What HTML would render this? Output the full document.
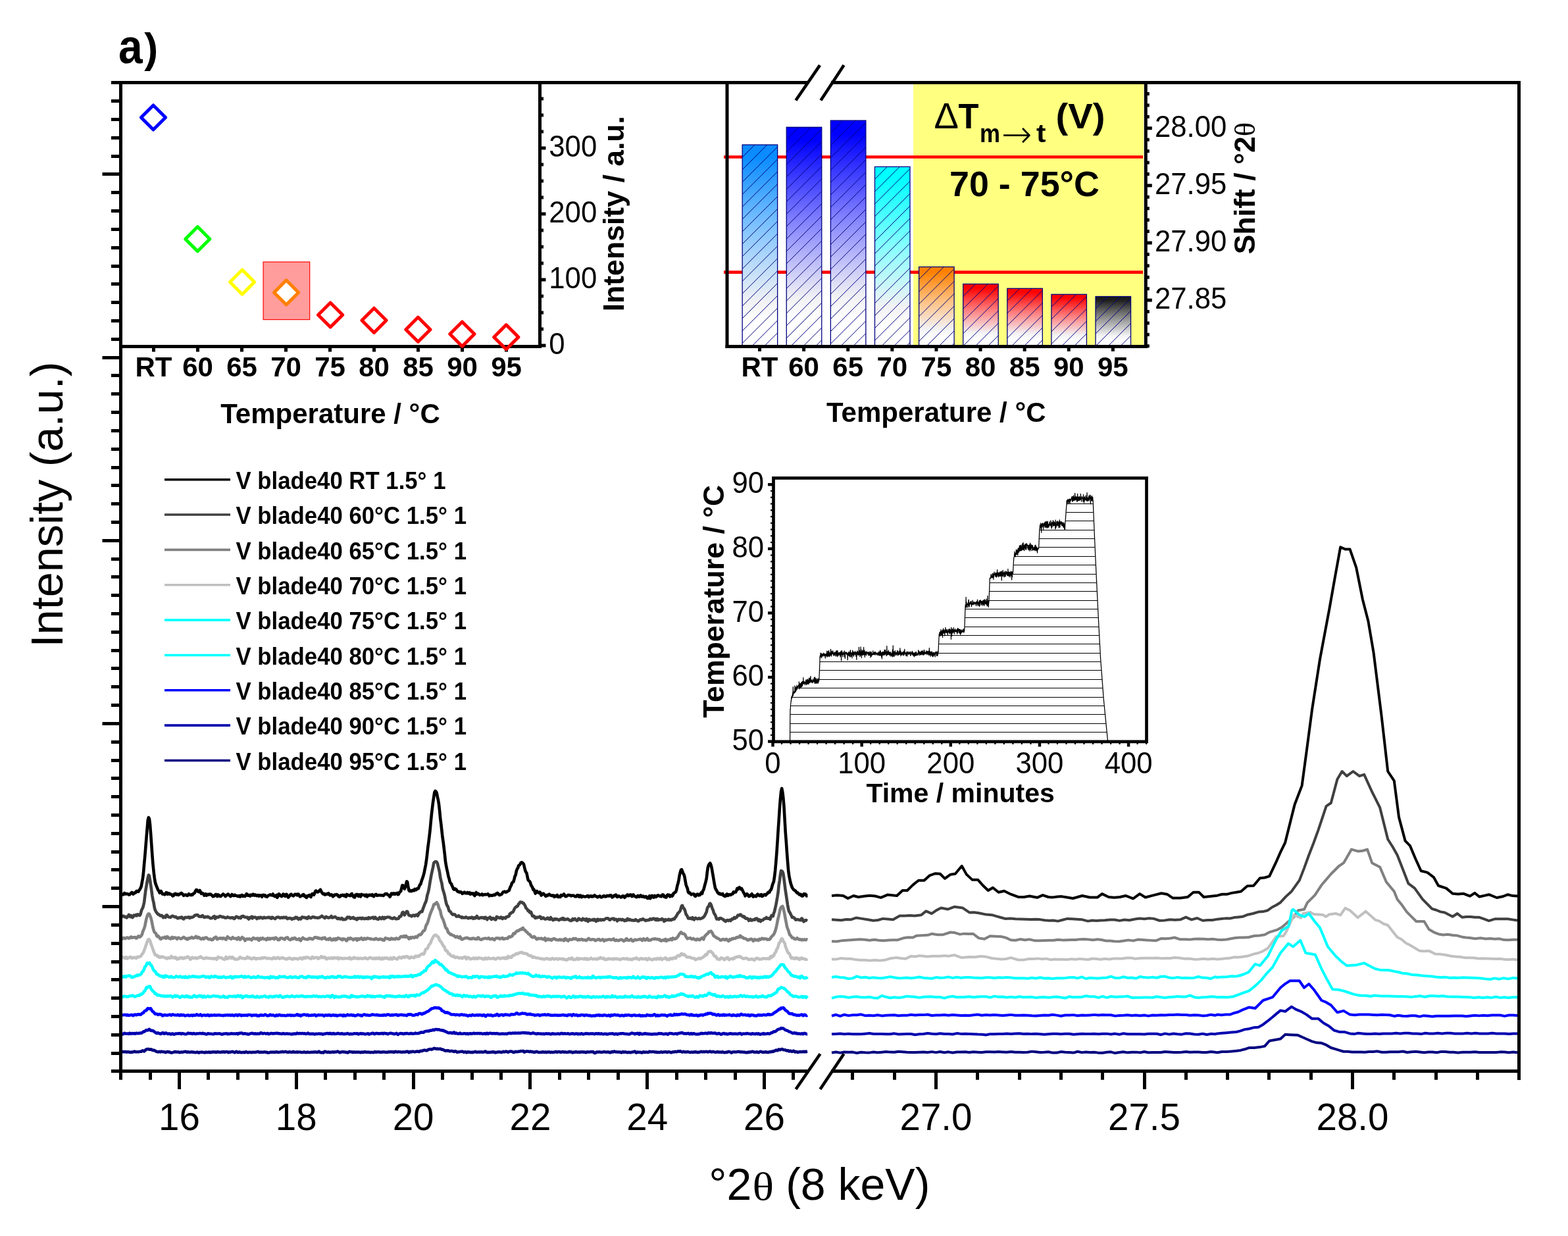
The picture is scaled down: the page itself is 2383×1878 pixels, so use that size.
<!DOCTYPE html><html><head><meta charset="utf-8"><title>XRD figure</title>
<style>html,body{margin:0;padding:0;background:#fff;overflow:hidden}svg{display:block}</style></head><body>
<svg width="2383" height="1878" viewBox="0 0 2383 1878">
<rect width="2383" height="1878" fill="#fff"/>
<g id="curves" fill="none" stroke-linejoin="round">
<polyline points="183.6,1358.67 184.71,1358.5 185.82,1358.5 186.93,1359.32 188.04,1358.96 189.16,1356.94 190.27,1357.81 191.38,1358.36 192.49,1357.92 193.6,1358.2 194.71,1358.45 195.82,1359.36 196.93,1359.35 198.05,1358.31 199.16,1356.91 200.27,1355.87 201.38,1356.76 202.49,1358.48 203.6,1357.64 204.71,1356.32 205.82,1356.51 206.94,1354.5 208.05,1353.8 209.16,1354.77 210.27,1354.89 211.38,1352.92 212.49,1351.28 213.6,1349.39 214.71,1346.72 215.83,1340.69 216.94,1334.91 218.05,1325.6 219.16,1312.38 220.27,1300.7 221.38,1286.95 222.49,1272.96 223.6,1259.34 224.72,1246.15 225.83,1241.99 226.94,1244.12 228.05,1253.24 229.16,1267.46 230.27,1283.26 231.38,1299.47 232.49,1313.41 233.61,1324.44 234.72,1333.62 235.83,1340.51 236.94,1344.24 238.05,1346.92 239.16,1349.55 240.27,1352.42 241.38,1353.53 242.5,1356.55 243.61,1355.78 244.72,1353.9 245.83,1356.07 246.94,1358.38 248.05,1358.22 249.16,1358.22 250.27,1359.29 251.39,1358.36 252.5,1356.17 253.61,1356.34 254.72,1358.62 255.83,1357.32 256.94,1357.32 258.05,1358.66 259.16,1358.33 260.28,1359.09 261.39,1359.74 262.5,1361.49 263.61,1361.01 264.72,1358.66 265.83,1357.93 266.94,1357.74 268.05,1359.42 269.17,1359.13 270.28,1358.64 271.39,1359.85 272.5,1358.93 273.61,1358.4 274.72,1357.14 275.83,1356.88 276.94,1357.94 278.06,1359.31 279.17,1360.78 280.28,1360.08 281.39,1359.54 282.5,1359.63 283.61,1360.49 284.72,1360.89 285.83,1360.08 286.95,1358.28 288.06,1359.25 289.17,1359.85 290.28,1360.1 291.39,1359.03 292.5,1359.69 293.61,1358.02 294.72,1357.63 295.84,1356.54 296.95,1353.94 298.06,1352.04 299.17,1352.04 300.28,1354.18 301.39,1354.98 302.5,1355.17 303.61,1352.89 304.73,1354.93 305.84,1357.77 306.95,1357.31 308.06,1357.1 309.17,1358.16 310.28,1360.7 311.39,1359.28 312.5,1358.2 313.62,1360.58 314.73,1360.03 315.84,1358.95 316.95,1359.53 318.06,1358.52 319.17,1359.14 320.28,1358.7 321.39,1359.9 322.51,1360.45 323.62,1362.19 324.73,1361.72 325.84,1361.48 326.95,1359.52 328.06,1358.92 329.17,1360.19 330.28,1361.96 331.4,1359.45 332.51,1359.85 333.62,1361.28 334.73,1361.98 335.84,1361.79 336.95,1360.57 338.06,1359.54 339.17,1358.42 340.29,1359.41 341.4,1360 342.51,1362.01 343.62,1360.83 344.73,1360 345.84,1358.72 346.95,1358.63 348.06,1360.11 349.18,1361.14 350.29,1362.16 351.4,1361.07 352.51,1358.97 353.62,1359.85 354.73,1360.99 355.84,1361.01 356.95,1359.78 358.07,1360.85 359.18,1361.03 360.29,1360.95 361.4,1361.96 362.51,1361.68 363.62,1360.9 364.73,1362.59 365.84,1361.92 366.96,1360.08 368.07,1360.13 369.18,1361.81 370.29,1361.36 371.4,1360.84 372.51,1361.81 373.62,1360.53 374.73,1358.14 375.85,1359.38 376.96,1360.69 378.07,1359.79 379.18,1360.74 380.29,1361.48 381.4,1359.67 382.51,1360.13 383.62,1360.43 384.74,1358.64 385.85,1359.74 386.96,1360.55 388.07,1359.5 389.18,1360.33 390.29,1361.16 391.4,1360.05 392.51,1360.33 393.63,1361.62 394.74,1360.28 395.85,1360.22 396.96,1360.59 398.07,1362.64 399.18,1359.97 400.29,1359.78 401.4,1360.5 402.52,1360.03 403.63,1362.22 404.74,1361.63 405.85,1362.63 406.96,1361.43 408.07,1360.41 409.18,1360.1 410.29,1359.32 411.41,1359.96 412.52,1360.12 413.63,1360.38 414.74,1358.36 415.85,1360.99 416.96,1361.57 418.07,1362.04 419.18,1360.54 420.3,1360 421.41,1363.81 422.52,1361.65 423.63,1358.27 424.74,1358.82 425.85,1360.5 426.96,1361.42 428.07,1362.19 429.19,1361.01 430.3,1358.59 431.41,1358.87 432.52,1361.37 433.63,1361.72 434.74,1358.73 435.85,1359.04 436.96,1361.81 438.08,1363.53 439.19,1362.43 440.3,1361.1 441.41,1359.35 442.52,1358.7 443.63,1359.88 444.74,1360.95 445.85,1361.34 446.97,1360.31 448.08,1358.9 449.19,1358.82 450.3,1358.68 451.41,1360.26 452.52,1358.46 453.63,1358.47 454.74,1360.61 455.86,1362.23 456.97,1361.47 458.08,1361.42 459.19,1360.62 460.3,1359.3 461.41,1359.12 462.52,1361.4 463.63,1362.34 464.75,1361.43 465.86,1363.96 466.97,1362.43 468.08,1360.77 469.19,1360.83 470.3,1360 471.41,1362.13 472.52,1362.88 473.64,1359.18 474.75,1357.97 475.86,1359.16 476.97,1359.68 478.08,1357.25 479.19,1354.31 480.3,1353.41 481.41,1354.86 482.53,1355.44 483.64,1355.32 484.75,1354.11 485.86,1352.76 486.97,1351.77 488.08,1354 489.19,1356.2 490.3,1357.5 491.42,1358.38 492.53,1357.87 493.64,1359.35 494.75,1359.37 495.86,1358.24 496.97,1358.35 498.08,1358.64 499.19,1357.17 500.31,1358.61 501.42,1360.39 502.53,1359.91 503.64,1359.19 504.75,1360.11 505.86,1362.25 506.97,1361.48 508.08,1359.8 509.2,1359.36 510.31,1359.86 511.42,1359 512.53,1359.37 513.64,1360.34 514.75,1362.29 515.86,1362.6 516.97,1362.08 518.09,1360.37 519.2,1360.59 520.31,1359.69 521.42,1359.94 522.53,1361.04 523.64,1359.91 524.75,1361.92 525.86,1362.34 526.98,1358.85 528.09,1359.67 529.2,1360.36 530.31,1360.12 531.42,1360.87 532.53,1361.11 533.64,1358.58 534.75,1357.82 535.87,1360.38 536.98,1362.23 538.09,1363.2 539.2,1363.5 540.31,1359.49 541.42,1359.75 542.53,1358.92 543.64,1360.69 544.76,1361.69 545.87,1359.34 546.98,1361.6 548.09,1362.34 549.2,1358.81 550.31,1359.31 551.42,1359.74 552.53,1359.89 553.65,1359.87 554.76,1361.34 555.87,1359.72 556.98,1359.58 558.09,1362.28 559.2,1360.59 560.31,1359.84 561.42,1360.52 562.54,1359.59 563.65,1360.33 564.76,1360.66 565.87,1359.21 566.98,1361.24 568.09,1362.07 569.2,1360.41 570.31,1359.26 571.43,1358.77 572.54,1360.7 573.65,1360.64 574.76,1360.29 575.87,1360.02 576.98,1360.37 578.09,1360.14 579.2,1360.51 580.32,1360.11 581.43,1360.46 582.54,1360.95 583.65,1360 584.76,1358.66 585.87,1358.03 586.98,1358.14 588.09,1357.97 589.21,1359.64 590.32,1359.92 591.43,1360.89 592.54,1362.65 593.65,1360.76 594.76,1357.55 595.87,1357.59 596.98,1358.61 598.1,1357.29 599.21,1357.48 600.32,1358.76 601.43,1358.23 602.54,1357.25 603.65,1356.86 604.76,1359.23 605.87,1358.64 606.99,1356.07 608.1,1354.88 609.21,1354.1 610.32,1349.32 611.43,1345.15 612.54,1345.23 613.65,1348.05 614.76,1350.67 615.88,1347.76 616.99,1343.78 618.1,1339.31 619.21,1340.32 620.32,1347.52 621.43,1352.64 622.54,1353.91 623.65,1353.02 624.77,1354.18 625.88,1354.07 626.99,1352.73 628.1,1352.5 629.21,1353.2 630.32,1350.91 631.43,1351.25 632.54,1352.04 633.66,1350.31 634.77,1350.44 635.88,1349.9 636.99,1346.92 638.1,1344.27 639.21,1343.52 640.32,1339.66 641.43,1336.35 642.55,1333.27 643.66,1329.58 644.77,1325.3 645.88,1319.56 646.99,1314.12 648.1,1306.69 649.21,1297.47 650.32,1287.37 651.44,1279.22 652.55,1270.27 653.66,1260.63 654.77,1248.4 655.88,1237.23 656.99,1227.71 658.1,1218.63 659.21,1211.13 660.33,1203.77 661.44,1201.82 662.55,1202.58 663.66,1204.8 664.77,1210.6 665.88,1215.23 666.99,1221.98 668.1,1231.66 669.22,1243.88 670.33,1252.02 671.44,1262.37 672.55,1272.21 673.66,1279.61 674.77,1288.68 675.88,1298.24 676.99,1308.92 678.11,1315.54 679.22,1321.01 680.33,1325.85 681.44,1331.64 682.55,1335.06 683.66,1339.72 684.77,1341.83 685.88,1342.86 687,1345.89 688.11,1348.04 689.22,1350.77 690.33,1351.54 691.44,1350.26 692.55,1350.83 693.66,1351.95 694.77,1353.86 695.89,1354.92 697,1354.63 698.11,1355.71 699.22,1355.32 700.33,1355.1 701.44,1355.99 702.55,1357.85 703.66,1357.36 704.78,1356.23 705.89,1355.57 707,1357.06 708.11,1357.12 709.22,1357.38 710.33,1355.88 711.44,1357.51 712.55,1357.23 713.67,1356.31 714.78,1358.68 715.89,1357.6 717,1357.35 718.11,1358.46 719.22,1357.56 720.33,1359.31 721.44,1361.14 722.56,1357.78 723.67,1356.02 724.78,1358.74 725.89,1358.18 727,1357.73 728.11,1358.93 729.22,1359.9 730.33,1359.39 731.45,1359.13 732.56,1358.49 733.67,1360.04 734.78,1359.65 735.89,1359.3 737,1359.02 738.11,1359.08 739.22,1359.23 740.34,1359.06 741.45,1358.19 742.56,1359.46 743.67,1361.31 744.78,1360.53 745.89,1360.21 747,1360.63 748.11,1360.76 749.23,1360.15 750.34,1359.6 751.45,1360.15 752.56,1359.73 753.67,1358.06 754.78,1358.3 755.89,1356.95 757,1357.47 758.12,1359.07 759.23,1360.06 760.34,1359.36 761.45,1359.24 762.56,1358.6 763.67,1356.67 764.78,1355.27 765.89,1355.08 767.01,1354.53 768.12,1355.75 769.23,1355.59 770.34,1355.02 771.45,1354.08 772.56,1353.6 773.67,1352.95 774.78,1349.66 775.9,1347.08 777.01,1345.02 778.12,1341.43 779.23,1340.47 780.34,1339.75 781.45,1335.85 782.56,1331.34 783.67,1329.3 784.79,1323.51 785.9,1320.42 787.01,1318.95 788.12,1315.36 789.23,1314.5 790.34,1313.63 791.45,1311.06 792.56,1310.2 793.68,1310.64 794.79,1311.73 795.9,1312.94 797.01,1317.79 798.12,1322.29 799.23,1325.09 800.34,1326.39 801.45,1331.72 802.57,1337.08 803.68,1338.33 804.79,1338.95 805.9,1340.96 807.01,1344.76 808.12,1346.49 809.23,1348.44 810.34,1351.89 811.46,1351.48 812.57,1354.56 813.68,1357.57 814.79,1355.31 815.9,1353.99 817.01,1355.65 818.12,1356.19 819.23,1356.9 820.35,1355.43 821.46,1356.57 822.57,1360.51 823.68,1359.14 824.79,1358.22 825.9,1357.72 827.01,1359.22 828.12,1359.93 829.24,1361.67 830.35,1361.49 831.46,1359.83 832.57,1360.47 833.68,1360.11 834.79,1358.62 835.9,1359.81 837.01,1360.51 838.13,1360.6 839.24,1361.11 840.35,1360.41 841.46,1360.81 842.57,1362.84 843.68,1360.89 844.79,1361.9 845.9,1361.86 847.02,1360.02 848.13,1362.97 849.24,1362.86 850.35,1362.59 851.46,1362.89 852.57,1360 853.68,1360.17 854.79,1360.77 855.91,1359.53 857.02,1358.56 858.13,1360.21 859.24,1362.01 860.35,1362.16 861.46,1361.34 862.57,1360.39 863.68,1359.88 864.8,1360.22 865.91,1360.04 867.02,1360.59 868.13,1361.35 869.24,1360.6 870.35,1360.71 871.46,1360.64 872.57,1361.07 873.69,1362.12 874.8,1362.15 875.91,1362.24 877.02,1360.29 878.13,1360.16 879.24,1361.71 880.35,1362.54 881.46,1360.52 882.58,1360.8 883.69,1363.08 884.8,1362.39 885.91,1361.54 887.02,1362.17 888.13,1362.35 889.24,1362.65 890.35,1362.34 891.47,1362.03 892.58,1361.14 893.69,1361.14 894.8,1363.02 895.91,1362.51 897.02,1361.56 898.13,1361.27 899.24,1362.36 900.36,1361.57 901.47,1362.26 902.58,1361.58 903.69,1360.21 904.8,1361.43 905.91,1362.22 907.02,1362.35 908.13,1363.25 909.25,1362.27 910.36,1362.15 911.47,1361.36 912.58,1362.66 913.69,1363.5 914.8,1362.99 915.91,1362.57 917.02,1361.35 918.14,1361.16 919.25,1362.32 920.36,1362.36 921.47,1362.16 922.58,1360.75 923.69,1361.32 924.8,1361.48 925.91,1360.5 927.03,1361.18 928.14,1360.09 929.25,1361.54 930.36,1363.44 931.47,1362.63 932.58,1361.06 933.69,1360.47 934.8,1361.32 935.92,1359.55 937.03,1360.66 938.14,1362.93 939.25,1362.27 940.36,1361.42 941.47,1361.99 942.58,1362.63 943.69,1363.5 944.81,1362.92 945.92,1361.47 947.03,1361.22 948.14,1362.04 949.25,1363.88 950.36,1362.9 951.47,1360.88 952.58,1360.57 953.7,1359.45 954.81,1361.09 955.92,1361.02 957.03,1360 958.14,1359.33 959.25,1359.7 960.36,1362.01 961.47,1361.24 962.59,1359.52 963.7,1361.19 964.81,1361.97 965.92,1362.4 967.03,1363.24 968.14,1362.69 969.25,1360.86 970.36,1361.18 971.48,1362.62 972.59,1361.94 973.7,1360.33 974.81,1362.33 975.92,1362.51 977.03,1361.48 978.14,1361.92 979.25,1363.24 980.37,1363.14 981.48,1362 982.59,1362.63 983.7,1364.81 984.81,1365.02 985.92,1363.77 987.03,1361.44 988.14,1365.18 989.26,1363.44 990.37,1360.9 991.48,1361.12 992.59,1363.26 993.7,1363.59 994.81,1360.87 995.92,1361.33 997.03,1362.75 998.15,1362.03 999.26,1360.5 1000.37,1360.37 1001.48,1360.97 1002.59,1361.6 1003.7,1361.33 1004.81,1362.2 1005.92,1361.29 1007.04,1359.3 1008.15,1359.73 1009.26,1362.47 1010.37,1361.86 1011.48,1363.45 1012.59,1363.46 1013.7,1360.42 1014.81,1359.52 1015.93,1360.71 1017.04,1359.84 1018.15,1362.31 1019.26,1361.06 1020.37,1360.18 1021.48,1361.72 1022.59,1360.11 1023.7,1357.38 1024.82,1356.44 1025.93,1356.06 1027.04,1354.94 1028.15,1351.7 1029.26,1346.15 1030.37,1342.38 1031.48,1337.75 1032.59,1330.51 1033.71,1325.95 1034.82,1322.05 1035.93,1321.18 1037.04,1323.87 1038.15,1327.01 1039.26,1328.54 1040.37,1331.99 1041.48,1338.41 1042.6,1344.44 1043.71,1347.42 1044.82,1350.18 1045.93,1355.5 1047.04,1356.79 1048.15,1356.3 1049.26,1357.69 1050.37,1359.27 1051.49,1358.43 1052.6,1358.44 1053.71,1358.23 1054.82,1358.64 1055.93,1361.51 1057.04,1361.84 1058.15,1360.19 1059.26,1358.7 1060.38,1358.64 1061.49,1360.28 1062.6,1359.29 1063.71,1359.86 1064.82,1357.79 1065.93,1356.16 1067.04,1357.78 1068.15,1353.64 1069.27,1351.98 1070.38,1347.88 1071.49,1343.52 1072.6,1339.62 1073.71,1334.78 1074.82,1325.11 1075.93,1317.45 1077.04,1314.39 1078.16,1312.59 1079.27,1311.52 1080.38,1313.99 1081.49,1318.18 1082.6,1324.34 1083.71,1330.78 1084.82,1337.64 1085.93,1344.07 1087.05,1349.62 1088.16,1351.59 1089.27,1353.19 1090.38,1355.74 1091.49,1357.03 1092.6,1358.02 1093.71,1357.33 1094.82,1358.76 1095.94,1359.12 1097.05,1358.47 1098.16,1358 1099.27,1360.54 1100.38,1361.2 1101.49,1361.73 1102.6,1361.79 1103.71,1359.22 1104.83,1358.53 1105.94,1360.82 1107.05,1360.47 1108.16,1359.01 1109.27,1359.56 1110.38,1359.94 1111.49,1358.76 1112.6,1358.42 1113.72,1358.12 1114.83,1355.08 1115.94,1355.84 1117.05,1355.49 1118.16,1355.51 1119.27,1353.14 1120.38,1349.75 1121.49,1351.16 1122.61,1349.43 1123.72,1348.19 1124.83,1350.32 1125.94,1350.93 1127.05,1350.02 1128.16,1352.26 1129.27,1354.43 1130.38,1356.94 1131.5,1358.37 1132.61,1361.37 1133.72,1359.06 1134.83,1358.18 1135.94,1358.7 1137.05,1360.62 1138.16,1362.04 1139.27,1361.92 1140.39,1360.43 1141.5,1359.48 1142.61,1358.23 1143.72,1361.18 1144.83,1362.48 1145.94,1360.85 1147.05,1361.5 1148.16,1362.06 1149.28,1362.1 1150.39,1359.51 1151.5,1358.57 1152.61,1360 1153.72,1360.65 1154.83,1361.23 1155.94,1359.47 1157.05,1359.1 1158.17,1361.78 1159.28,1361.41 1160.39,1360.29 1161.5,1359.2 1162.61,1359.04 1163.72,1360.24 1164.83,1358.75 1165.94,1358.2 1167.06,1356.19 1168.17,1355.49 1169.28,1355.85 1170.39,1353.14 1171.5,1352.29 1172.61,1349.58 1173.72,1345.32 1174.83,1342.08 1175.95,1339.28 1177.06,1331.92 1178.17,1322.42 1179.28,1309.89 1180.39,1296.01 1181.5,1279.56 1182.61,1261.94 1183.72,1245.6 1184.84,1228.06 1185.95,1213.85 1187.06,1202.77 1188.17,1197.92 1189.28,1203.17 1190.39,1212.64 1191.5,1225.58 1192.61,1245.49 1193.73,1264.71 1194.84,1278.88 1195.95,1295.11 1197.06,1309.74 1198.17,1322.91 1199.28,1330.89 1200.39,1336.4 1201.5,1341.5 1202.62,1345.12 1203.73,1348.32 1204.84,1349.99 1205.95,1351.54 1207.06,1352.47 1208.17,1353.16 1209.28,1353.96 1210.39,1355.64 1211.51,1356.73 1212.62,1356.55 1213.73,1358.34 1214.84,1359.33 1215.95,1358.91 1217.06,1358.91 1218.17,1361.26 1219.28,1361.51 1220.4,1361.05 1221.51,1358.29 1222.62,1358.36 1223.73,1358.29 1224.84,1359.19 1225.95,1361.33 1227.06,1360.93" fill="none" stroke="#000000" stroke-width="4.6" stroke-linejoin="round" />
<polyline points="183.6,1393.4 184.71,1392.31 185.82,1392.8 186.93,1391.82 188.04,1391.68 189.16,1393.03 190.27,1393.51 191.38,1392.95 192.49,1394.37 193.6,1393.44 194.71,1391.95 195.82,1389.79 196.93,1392.41 198.05,1393.13 199.16,1391.04 200.27,1392.71 201.38,1394.02 202.49,1392.83 203.6,1390.62 204.71,1391.2 205.82,1391.18 206.94,1389.84 208.05,1391.22 209.16,1389.35 210.27,1389.43 211.38,1390.36 212.49,1390.89 213.6,1389.1 214.71,1384.2 215.83,1381.42 216.94,1379.55 218.05,1375.77 219.16,1370.62 220.27,1361.21 221.38,1352.76 222.49,1346.32 223.6,1339.56 224.72,1334.07 225.83,1329.49 226.94,1330.92 228.05,1337.57 229.16,1345.09 230.27,1352.91 231.38,1361.1 232.49,1367.23 233.61,1371.98 234.72,1378.77 235.83,1382.81 236.94,1385.05 238.05,1386.69 239.16,1387.88 240.27,1389.5 241.38,1389.42 242.5,1390.14 243.61,1391.34 244.72,1391.46 245.83,1390.92 246.94,1392.11 248.05,1394.19 249.16,1392.78 250.27,1393.09 251.39,1394 252.5,1390.72 253.61,1390.4 254.72,1391.73 255.83,1393.16 256.94,1393.55 258.05,1393.52 259.16,1393.9 260.28,1392.67 261.39,1391.93 262.5,1391.64 263.61,1392.35 264.72,1393.06 265.83,1393.39 266.94,1392.79 268.05,1393.75 269.17,1394.77 270.28,1395.37 271.39,1395.02 272.5,1394.07 273.61,1394.21 274.72,1394.47 275.83,1393.31 276.94,1394.32 278.06,1395.88 279.17,1396.38 280.28,1394.8 281.39,1393.9 282.5,1394.17 283.61,1393.85 284.72,1394.15 285.83,1393.84 286.95,1393.31 288.06,1394.98 289.17,1394.65 290.28,1393.51 291.39,1394.03 292.5,1393.65 293.61,1393.06 294.72,1392.49 295.84,1390.85 296.95,1390.82 298.06,1390.18 299.17,1390.49 300.28,1389.99 301.39,1391.2 302.5,1392.63 303.61,1392.51 304.73,1392.31 305.84,1392.94 306.95,1391.45 308.06,1391.07 309.17,1392.66 310.28,1393.82 311.39,1393.85 312.5,1392.84 313.62,1393.36 314.73,1393.56 315.84,1392.69 316.95,1393.61 318.06,1393.98 319.17,1394.94 320.28,1395.33 321.39,1395.09 322.51,1394.77 323.62,1393.49 324.73,1392.72 325.84,1392.2 326.95,1395.81 328.06,1394.87 329.17,1393.28 330.28,1393.68 331.4,1393.67 332.51,1393.46 333.62,1392.13 334.73,1392.15 335.84,1392.33 336.95,1393.24 338.06,1393.51 339.17,1393.18 340.29,1394 341.4,1393.83 342.51,1394.72 343.62,1394.45 344.73,1394.22 345.84,1393.2 346.95,1394.06 348.06,1394.3 349.18,1394.41 350.29,1394.83 351.4,1394.34 352.51,1394.4 353.62,1394.1 354.73,1395.3 355.84,1395.98 356.95,1395.33 358.07,1393.57 359.18,1392.65 360.29,1393.1 361.4,1393.75 362.51,1394.63 363.62,1393.84 364.73,1394.91 365.84,1395.1 366.96,1392.59 368.07,1392.77 369.18,1391.8 370.29,1392.19 371.4,1393.48 372.51,1393.55 373.62,1393.78 374.73,1393.9 375.85,1393.68 376.96,1395.46 378.07,1396.46 379.18,1394.17 380.29,1394.92 381.4,1393.78 382.51,1392.79 383.62,1395.38 384.74,1393.41 385.85,1393.69 386.96,1393.74 388.07,1393.64 389.18,1394.28 390.29,1395.96 391.4,1394.83 392.51,1394 393.63,1395.08 394.74,1394.71 395.85,1393.68 396.96,1394.03 398.07,1394.63 399.18,1395.44 400.29,1394.28 401.4,1393.63 402.52,1394.63 403.63,1394.65 404.74,1394.35 405.85,1394.5 406.96,1393.99 408.07,1393.5 409.18,1394.56 410.29,1393.93 411.41,1395.04 412.52,1395.55 413.63,1393.65 414.74,1394.16 415.85,1395 416.96,1395.47 418.07,1396.19 419.18,1395.06 420.3,1393.84 421.41,1393.73 422.52,1393.46 423.63,1393.45 424.74,1394.53 425.85,1394.91 426.96,1394.3 428.07,1393.78 429.19,1394.61 430.3,1394.5 431.41,1393.52 432.52,1394 433.63,1394.43 434.74,1393.65 435.85,1394.88 436.96,1396.04 438.08,1395.33 439.19,1394.93 440.3,1395.35 441.41,1395.09 442.52,1395.59 443.63,1396.83 444.74,1395.88 445.85,1395.26 446.97,1395.87 448.08,1395.04 449.19,1393.61 450.3,1394.97 451.41,1393.97 452.52,1395.51 453.63,1396.7 454.74,1395.53 455.86,1395 456.97,1396.45 458.08,1395.05 459.19,1393.24 460.3,1393.62 461.41,1394.26 462.52,1393.79 463.63,1394.38 464.75,1395.06 465.86,1394.19 466.97,1395.79 468.08,1394.53 469.19,1392.83 470.3,1394.36 471.41,1394.8 472.52,1394.97 473.64,1394.35 474.75,1393.27 475.86,1393.27 476.97,1393.34 478.08,1394.24 479.19,1393.88 480.3,1394.18 481.41,1394.56 482.53,1394.65 483.64,1394.62 484.75,1394.31 485.86,1394.18 486.97,1393.07 488.08,1392.65 489.19,1391.58 490.3,1392.77 491.42,1393.4 492.53,1394 493.64,1394.96 494.75,1393.51 495.86,1392.83 496.97,1393.74 498.08,1394.08 499.19,1394.66 500.31,1393.93 501.42,1394.26 502.53,1393.45 503.64,1392.01 504.75,1394.34 505.86,1394.25 506.97,1393.73 508.08,1393.41 509.2,1392.92 510.31,1393.84 511.42,1394.44 512.53,1395.7 513.64,1396.06 514.75,1395.11 515.86,1395.6 516.97,1396.54 518.09,1396.13 519.2,1394.98 520.31,1395.77 521.42,1397.31 522.53,1396.76 523.64,1397.1 524.75,1397.01 525.86,1396.44 526.98,1394.65 528.09,1393.47 529.2,1394.41 530.31,1393.6 531.42,1393.6 532.53,1395.56 533.64,1395.06 534.75,1395.22 535.87,1394.24 536.98,1393.89 538.09,1395.77 539.2,1395.95 540.31,1395.53 541.42,1396.85 542.53,1397.34 543.64,1395.13 544.76,1395.81 545.87,1395.38 546.98,1394.76 548.09,1395.15 549.2,1396.12 550.31,1394.77 551.42,1394.87 552.53,1395.88 553.65,1396.18 554.76,1395.43 555.87,1395.91 556.98,1395.09 558.09,1395.73 559.2,1396.13 560.31,1394.07 561.42,1394.64 562.54,1395.52 563.65,1394.89 564.76,1394.22 565.87,1394.44 566.98,1393.65 568.09,1395.74 569.2,1395.07 570.31,1393.79 571.43,1395.69 572.54,1396.26 573.65,1396.04 574.76,1396.83 575.87,1395.65 576.98,1393.88 578.09,1395.13 579.2,1396.2 580.32,1395.15 581.43,1393.62 582.54,1395.29 583.65,1396.18 584.76,1394.01 585.87,1394.76 586.98,1394.03 588.09,1393.54 589.21,1393.51 590.32,1393.54 591.43,1393.63 592.54,1393.68 593.65,1394.98 594.76,1395.36 595.87,1395.37 596.98,1395.94 598.1,1394.86 599.21,1394.33 600.32,1394.96 601.43,1396.22 602.54,1396.11 603.65,1395.96 604.76,1395.81 605.87,1395.45 606.99,1392.62 608.1,1392.67 609.21,1392.36 610.32,1389.67 611.43,1386.78 612.54,1386.03 613.65,1388.32 614.76,1390.39 615.88,1388.05 616.99,1386.21 618.1,1384.85 619.21,1384.94 620.32,1388.4 621.43,1390.63 622.54,1391 623.65,1391.1 624.77,1392.05 625.88,1392.35 626.99,1391.07 628.1,1390.47 629.21,1391 630.32,1391.65 631.43,1390.38 632.54,1390.5 633.66,1389.79 634.77,1391.65 635.88,1389.82 636.99,1386.95 638.1,1386.97 639.21,1385.42 640.32,1384.93 641.43,1385.19 642.55,1381.84 643.66,1378.72 644.77,1375.75 645.88,1372.69 646.99,1370.75 648.1,1367.14 649.21,1360.78 650.32,1357.06 651.44,1352.96 652.55,1346.59 653.66,1339.4 654.77,1333.53 655.88,1327.44 656.99,1322.59 658.1,1317.7 659.21,1311.34 660.33,1309.92 661.44,1309.31 662.55,1309.23 663.66,1309.69 664.77,1311.64 665.88,1316.25 666.99,1320.67 668.1,1325.34 669.22,1333.53 670.33,1338.06 671.44,1342.17 672.55,1349.46 673.66,1353.55 674.77,1356.9 675.88,1361.1 676.99,1366.9 678.11,1371.98 679.22,1375.52 680.33,1376.65 681.44,1380.07 682.55,1383.84 683.66,1384.63 684.77,1385.53 685.88,1387.49 687,1388.69 688.11,1389.66 689.22,1389.03 690.33,1389.45 691.44,1389.59 692.55,1391.08 693.66,1392.48 694.77,1392.19 695.89,1392.46 697,1391.29 698.11,1392.58 699.22,1393.04 700.33,1392.97 701.44,1394.38 702.55,1393.44 703.66,1394.22 704.78,1394.56 705.89,1393.95 707,1394.49 708.11,1393.29 709.22,1393.96 710.33,1394.68 711.44,1395.32 712.55,1394.86 713.67,1394.05 714.78,1394.7 715.89,1394.82 717,1393.62 718.11,1393.89 719.22,1395.85 720.33,1395.55 721.44,1394.08 722.56,1395.09 723.67,1393.77 724.78,1392.03 725.89,1393.81 727,1395.28 728.11,1395.46 729.22,1394.51 730.33,1394.54 731.45,1393.89 732.56,1394.62 733.67,1393.96 734.78,1394.2 735.89,1395.46 737,1393.91 738.11,1393.82 739.22,1395.75 740.34,1397.23 741.45,1394.95 742.56,1394.78 743.67,1394.47 744.78,1393.43 745.89,1396 747,1396.93 748.11,1395.04 749.23,1395.06 750.34,1396.04 751.45,1395.86 752.56,1397.42 753.67,1397.16 754.78,1392.91 755.89,1393.14 757,1394.32 758.12,1394.48 759.23,1394.93 760.34,1394.39 761.45,1393.52 762.56,1395.35 763.67,1396.01 764.78,1394.26 765.89,1394.52 767.01,1395.1 768.12,1395.36 769.23,1393.29 770.34,1393.15 771.45,1392.52 772.56,1392.7 773.67,1391.87 774.78,1388.4 775.9,1388.32 777.01,1387.03 778.12,1386.18 779.23,1385.96 780.34,1384.32 781.45,1381.6 782.56,1379.65 783.67,1378.43 784.79,1377.42 785.9,1377.47 787.01,1376.27 788.12,1373.42 789.23,1373.07 790.34,1370.84 791.45,1370.59 792.56,1370.94 793.68,1371.13 794.79,1372.46 795.9,1372.6 797.01,1374.49 798.12,1376.2 799.23,1379.57 800.34,1380.31 801.45,1381.82 802.57,1383.89 803.68,1383.49 804.79,1386.19 805.9,1386.92 807.01,1385.68 808.12,1388.88 809.23,1391.93 810.34,1392.02 811.46,1391.88 812.57,1394 813.68,1394.87 814.79,1393.59 815.9,1394.4 817.01,1393.79 818.12,1393.49 819.23,1393.69 820.35,1392.56 821.46,1392.95 822.57,1395.87 823.68,1395.34 824.79,1394.54 825.9,1394.42 827.01,1395.96 828.12,1396.47 829.24,1396.46 830.35,1396.28 831.46,1395.02 832.57,1394.61 833.68,1396.41 834.79,1396.74 835.9,1397 837.01,1393.99 838.13,1395.52 839.24,1396.67 840.35,1398.14 841.46,1397.36 842.57,1396.27 843.68,1397.19 844.79,1396.22 845.9,1396.9 847.02,1396.61 848.13,1397.46 849.24,1398.2 850.35,1397.66 851.46,1396.41 852.57,1396.16 853.68,1396.95 854.79,1395.17 855.91,1395.13 857.02,1397.38 858.13,1396.3 859.24,1397.29 860.35,1397.12 861.46,1396.85 862.57,1396.11 863.68,1396.71 864.8,1397.69 865.91,1398.3 867.02,1398.91 868.13,1398.97 869.24,1397.98 870.35,1396.08 871.46,1397.52 872.57,1396.7 873.69,1395.92 874.8,1397.51 875.91,1397.96 877.02,1398.83 878.13,1398.1 879.24,1395.63 880.35,1395.91 881.46,1397.17 882.58,1396.98 883.69,1398.26 884.8,1397.84 885.91,1395.78 887.02,1396.79 888.13,1396.49 889.24,1398.1 890.35,1398.53 891.47,1396.17 892.58,1397.42 893.69,1400.08 894.8,1396.92 895.91,1396.93 897.02,1398.3 898.13,1397.78 899.24,1397.76 900.36,1398 901.47,1397.03 902.58,1398.22 903.69,1397.01 904.8,1398.34 905.91,1399.95 907.02,1397.25 908.13,1396.7 909.25,1398.7 910.36,1397.84 911.47,1397 912.58,1396.99 913.69,1398.26 914.8,1397.62 915.91,1397.1 917.02,1397.96 918.14,1397.62 919.25,1396.59 920.36,1395.78 921.47,1395.34 922.58,1395.55 923.69,1395.27 924.8,1395.85 925.91,1397.37 927.03,1397.78 928.14,1396.84 929.25,1396.15 930.36,1396.06 931.47,1395.73 932.58,1395.64 933.69,1397.49 934.8,1396.76 935.92,1396.78 937.03,1397.07 938.14,1399.43 939.25,1397.46 940.36,1396.73 941.47,1397.45 942.58,1396.75 943.69,1397.47 944.81,1397.99 945.92,1396.79 947.03,1397.41 948.14,1398.28 949.25,1399.09 950.36,1397.92 951.47,1398.65 952.58,1398.4 953.7,1395.81 954.81,1397 955.92,1397.96 957.03,1396.88 958.14,1398.04 959.25,1397.87 960.36,1398.37 961.47,1398.28 962.59,1398.37 963.7,1398.81 964.81,1398.59 965.92,1397.12 967.03,1397.97 968.14,1398.34 969.25,1399.59 970.36,1399.41 971.48,1398.74 972.59,1397.55 973.7,1396.96 974.81,1397.64 975.92,1396.8 977.03,1396.04 978.14,1397 979.25,1397.67 980.37,1397.94 981.48,1398.93 982.59,1398.12 983.7,1398.18 984.81,1398.09 985.92,1397.55 987.03,1397.93 988.14,1396.1 989.26,1396.63 990.37,1397.27 991.48,1396.59 992.59,1395.55 993.7,1396.27 994.81,1395.84 995.92,1397.45 997.03,1398.09 998.15,1396.12 999.26,1396.16 1000.37,1398.04 1001.48,1397.67 1002.59,1397.13 1003.7,1397.23 1004.81,1397.38 1005.92,1396.09 1007.04,1396.62 1008.15,1397.12 1009.26,1399.95 1010.37,1399.18 1011.48,1397.03 1012.59,1398.14 1013.7,1397.93 1014.81,1397.56 1015.93,1396.73 1017.04,1398.16 1018.15,1397.56 1019.26,1397.04 1020.37,1398.18 1021.48,1397.15 1022.59,1396.29 1023.7,1396.61 1024.82,1396.5 1025.93,1394.19 1027.04,1393.22 1028.15,1391.56 1029.26,1389.27 1030.37,1387.3 1031.48,1386.55 1032.59,1385.34 1033.71,1383.89 1034.82,1379.98 1035.93,1376.43 1037.04,1375.82 1038.15,1379.24 1039.26,1380.05 1040.37,1381.82 1041.48,1384.99 1042.6,1389.41 1043.71,1390.49 1044.82,1392.53 1045.93,1395.4 1047.04,1395.24 1048.15,1395.68 1049.26,1394.79 1050.37,1395.26 1051.49,1396.26 1052.6,1394.22 1053.71,1395.61 1054.82,1397.42 1055.93,1395.59 1057.04,1394.63 1058.15,1395.39 1059.26,1395.95 1060.38,1396.23 1061.49,1395.69 1062.6,1395.13 1063.71,1396.1 1064.82,1395.9 1065.93,1395.36 1067.04,1394.88 1068.15,1394.58 1069.27,1393.27 1070.38,1392.23 1071.49,1390.12 1072.6,1387.87 1073.71,1385.76 1074.82,1380.4 1075.93,1377.82 1077.04,1377.39 1078.16,1373.76 1079.27,1372.69 1080.38,1374.17 1081.49,1377.06 1082.6,1380.62 1083.71,1382.78 1084.82,1386.88 1085.93,1388.8 1087.05,1390.37 1088.16,1393.61 1089.27,1396.48 1090.38,1395.8 1091.49,1396.18 1092.6,1396.94 1093.71,1395.33 1094.82,1395.06 1095.94,1395.39 1097.05,1396 1098.16,1396.6 1099.27,1397.14 1100.38,1398.59 1101.49,1398.62 1102.6,1400.14 1103.71,1398.89 1104.83,1398.09 1105.94,1398.36 1107.05,1399.08 1108.16,1397.97 1109.27,1397.83 1110.38,1399.11 1111.49,1397.24 1112.6,1396.1 1113.72,1396.6 1114.83,1395.58 1115.94,1393.98 1117.05,1395.42 1118.16,1394.36 1119.27,1394.02 1120.38,1392.33 1121.49,1390.51 1122.61,1391.08 1123.72,1390.57 1124.83,1389.5 1125.94,1389.73 1127.05,1391.45 1128.16,1392.05 1129.27,1393.05 1130.38,1392.24 1131.5,1393.12 1132.61,1395.14 1133.72,1395.62 1134.83,1395.42 1135.94,1395.57 1137.05,1396.75 1138.16,1398.78 1139.27,1397.16 1140.39,1396.53 1141.5,1398.39 1142.61,1398.6 1143.72,1397.86 1144.83,1397.29 1145.94,1397.49 1147.05,1397.66 1148.16,1395.7 1149.28,1395.75 1150.39,1395.49 1151.5,1397.63 1152.61,1399.11 1153.72,1397.32 1154.83,1397.73 1155.94,1400.09 1157.05,1398.23 1158.17,1398.03 1159.28,1398.23 1160.39,1397.01 1161.5,1395.73 1162.61,1395.55 1163.72,1395.85 1164.83,1394.01 1165.94,1395.17 1167.06,1395.82 1168.17,1395.66 1169.28,1394.9 1170.39,1396.88 1171.5,1394 1172.61,1390.85 1173.72,1391.4 1174.83,1392.03 1175.95,1387.52 1177.06,1384.78 1178.17,1379.79 1179.28,1374.89 1180.39,1368.79 1181.5,1362.67 1182.61,1355.45 1183.72,1344.51 1184.84,1338.06 1185.95,1329.51 1187.06,1322.95 1188.17,1323.61 1189.28,1324.35 1190.39,1327.77 1191.5,1335.6 1192.61,1344.58 1193.73,1353.21 1194.84,1360.28 1195.95,1367.8 1197.06,1375.1 1198.17,1381.42 1199.28,1385.1 1200.39,1386.26 1201.5,1388.97 1202.62,1391.01 1203.73,1393.75 1204.84,1393.24 1205.95,1394.22 1207.06,1394.68 1208.17,1396.27 1209.28,1397.6 1210.39,1397.11 1211.51,1397.3 1212.62,1396.94 1213.73,1397.55 1214.84,1397.68 1215.95,1398.11 1217.06,1398.11 1218.17,1395.55 1219.28,1395.92 1220.4,1399.03 1221.51,1400.29 1222.62,1399.13 1223.73,1398.19 1224.84,1397.94 1225.95,1398.75 1227.06,1399.35" fill="none" stroke="#404040" stroke-width="4.6" stroke-linejoin="round" />
<polyline points="183.6,1424.67 184.71,1425.43 185.82,1426.71 186.93,1425.28 188.04,1424.72 189.16,1425.61 190.27,1426.13 191.38,1425.35 192.49,1424.64 193.6,1424.6 194.71,1425.26 195.82,1425.7 196.93,1425.33 198.05,1424 199.16,1423.45 200.27,1424.88 201.38,1424.26 202.49,1424.34 203.6,1424.54 204.71,1423.94 205.82,1424.17 206.94,1425.63 208.05,1425.22 209.16,1423.81 210.27,1422.28 211.38,1422.79 212.49,1423.72 213.6,1422.8 214.71,1421.78 215.83,1419.89 216.94,1415.93 218.05,1413.1 219.16,1410.6 220.27,1406.79 221.38,1401.2 222.49,1396 223.6,1392.04 224.72,1389.59 225.83,1388.36 226.94,1388.73 228.05,1391.2 229.16,1394.21 230.27,1398.27 231.38,1403.87 232.49,1409.72 233.61,1413.63 234.72,1416.55 235.83,1417.45 236.94,1418.22 238.05,1421.58 239.16,1422.96 240.27,1422.03 241.38,1423.55 242.5,1424.55 243.61,1426.59 244.72,1426.87 245.83,1425.45 246.94,1424.74 248.05,1424.9 249.16,1424.94 250.27,1423.81 251.39,1425.05 252.5,1425.84 253.61,1423.2 254.72,1423.34 255.83,1424.34 256.94,1425.7 258.05,1425.88 259.16,1426.58 260.28,1425.01 261.39,1423.84 262.5,1425.81 263.61,1425.61 264.72,1424.43 265.83,1424.65 266.94,1424.77 268.05,1425.68 269.17,1426.83 270.28,1425.03 271.39,1424.65 272.5,1425.58 273.61,1425.8 274.72,1426.44 275.83,1426.28 276.94,1425.37 278.06,1424.6 279.17,1423.78 280.28,1424.54 281.39,1425.6 282.5,1426.51 283.61,1425.97 284.72,1427.39 285.83,1426.92 286.95,1425.33 288.06,1425.76 289.17,1425.1 290.28,1425.24 291.39,1423.97 292.5,1424.77 293.61,1425.54 294.72,1425.11 295.84,1424.89 296.95,1423.49 298.06,1422.82 299.17,1424.79 300.28,1425.2 301.39,1423.89 302.5,1424.31 303.61,1425.08 304.73,1426.55 305.84,1426.95 306.95,1426.19 308.06,1425.34 309.17,1426.78 310.28,1426.58 311.39,1425.09 312.5,1424.47 313.62,1424.61 314.73,1425.22 315.84,1426.38 316.95,1427.1 318.06,1427.38 319.17,1426.74 320.28,1426.76 321.39,1428.24 322.51,1427.94 323.62,1427.79 324.73,1425.73 325.84,1424.72 326.95,1425.12 328.06,1423.62 329.17,1424.77 330.28,1427.23 331.4,1426.42 332.51,1426 333.62,1425.56 334.73,1425.31 335.84,1426.11 336.95,1425.36 338.06,1426.44 339.17,1425.27 340.29,1425.41 341.4,1425.95 342.51,1427.08 343.62,1427.54 344.73,1424.95 345.84,1423.21 346.95,1424.15 348.06,1425.28 349.18,1425.79 350.29,1426.13 351.4,1426.75 352.51,1425.5 353.62,1424.1 354.73,1425.48 355.84,1426.07 356.95,1425.96 358.07,1425.68 359.18,1425.77 360.29,1427.31 361.4,1425.75 362.51,1424.45 363.62,1426.11 364.73,1427.81 365.84,1426.91 366.96,1425.17 368.07,1424.05 369.18,1425.43 370.29,1425.43 371.4,1427.32 372.51,1429.24 373.62,1427.68 374.73,1426.78 375.85,1426.45 376.96,1427.12 378.07,1426.89 379.18,1426.35 380.29,1427.4 381.4,1427.5 382.51,1428.3 383.62,1426.15 384.74,1425.03 385.85,1425.33 386.96,1426.51 388.07,1426.38 389.18,1426.55 390.29,1425.74 391.4,1425.66 392.51,1428.09 393.63,1428.82 394.74,1425.74 395.85,1425.66 396.96,1427.19 398.07,1426.4 399.18,1425.25 400.29,1426.31 401.4,1426.79 402.52,1426.86 403.63,1426.54 404.74,1428.11 405.85,1426.88 406.96,1425.52 408.07,1426.53 409.18,1427.23 410.29,1425.7 411.41,1426.69 412.52,1425.94 413.63,1425.65 414.74,1426.17 415.85,1425.7 416.96,1426.93 418.07,1425.17 419.18,1424.63 420.3,1425.34 421.41,1426.64 422.52,1428.09 423.63,1427.84 424.74,1427.92 425.85,1425.43 426.96,1425.41 428.07,1425.45 429.19,1425.43 430.3,1426.44 431.41,1426.65 432.52,1427.57 433.63,1425.63 434.74,1424.78 435.85,1424.87 436.96,1424.41 438.08,1426.4 439.19,1427.13 440.3,1427.78 441.41,1428.2 442.52,1427.14 443.63,1425.75 444.74,1426.75 445.85,1426.46 446.97,1425.19 448.08,1424.96 449.19,1425.98 450.3,1427.54 451.41,1427.19 452.52,1427.47 453.63,1427.2 454.74,1426.21 455.86,1428.39 456.97,1429.33 458.08,1427.6 459.19,1425.95 460.3,1424.81 461.41,1425.97 462.52,1426.5 463.63,1426.73 464.75,1426.99 465.86,1427 466.97,1427.6 468.08,1427.32 469.19,1426.07 470.3,1425.48 471.41,1426.49 472.52,1425.88 473.64,1426.38 474.75,1427.27 475.86,1426.62 476.97,1425.58 478.08,1424.34 479.19,1424.24 480.3,1424.09 481.41,1425.01 482.53,1425.41 483.64,1424.71 484.75,1425.8 485.86,1426.14 486.97,1425.71 488.08,1426.12 489.19,1426.85 490.3,1425.14 491.42,1425.68 492.53,1425.02 493.64,1424.6 494.75,1426.62 495.86,1427.38 496.97,1427.25 498.08,1426.91 499.19,1427.66 500.31,1426.02 501.42,1425.47 502.53,1426.41 503.64,1428.16 504.75,1428.41 505.86,1427.91 506.97,1426.52 508.08,1427.93 509.2,1428.12 510.31,1426.05 511.42,1427.89 512.53,1426.7 513.64,1425.18 514.75,1425.96 515.86,1425.71 516.97,1426.5 518.09,1427.1 519.2,1426.84 520.31,1428.15 521.42,1426.32 522.53,1426.83 523.64,1426.68 524.75,1427.33 525.86,1428.86 526.98,1429.4 528.09,1427.67 529.2,1425.61 530.31,1426.27 531.42,1426.75 532.53,1425.22 533.64,1426.28 534.75,1426.28 535.87,1427.27 536.98,1428.12 538.09,1426.9 539.2,1426.5 540.31,1426.45 541.42,1426.14 542.53,1428.8 543.64,1427.5 544.76,1426.17 545.87,1427.42 546.98,1426.83 548.09,1425.92 549.2,1425.25 550.31,1426.85 551.42,1427.78 552.53,1427.34 553.65,1425.67 554.76,1426.21 555.87,1427.08 556.98,1426.48 558.09,1425.34 559.2,1425.83 560.31,1425.88 561.42,1426.19 562.54,1426.67 563.65,1426.34 564.76,1427.08 565.87,1426.97 566.98,1426.94 568.09,1427.16 569.2,1427.55 570.31,1426.31 571.43,1425.77 572.54,1427.07 573.65,1427.12 574.76,1427.47 575.87,1427.67 576.98,1426.54 578.09,1426.94 579.2,1426.73 580.32,1427.08 581.43,1428.4 582.54,1428.26 583.65,1428.79 584.76,1426.4 585.87,1425.17 586.98,1425.9 588.09,1425.93 589.21,1426.44 590.32,1426.25 591.43,1427 592.54,1427.65 593.65,1427.12 594.76,1425.68 595.87,1426.13 596.98,1427.02 598.1,1426.8 599.21,1426.35 600.32,1427.22 601.43,1426.37 602.54,1425.45 603.65,1426.3 604.76,1426.66 605.87,1426.75 606.99,1425.87 608.1,1424.16 609.21,1423.08 610.32,1422.83 611.43,1423.27 612.54,1423.68 613.65,1422.2 614.76,1423.15 615.88,1423.76 616.99,1422.02 618.1,1423.46 619.21,1423.93 620.32,1424.22 621.43,1426.6 622.54,1425.45 623.65,1424.09 624.77,1425.64 625.88,1424.36 626.99,1423.87 628.1,1424.42 629.21,1424.96 630.32,1424.79 631.43,1423.23 632.54,1423.72 633.66,1424.26 634.77,1422.31 635.88,1421.12 636.99,1420.85 638.1,1419.75 639.21,1420.32 640.32,1419.41 641.43,1417.57 642.55,1415.65 643.66,1414.2 644.77,1414.21 645.88,1412.57 646.99,1408.06 648.1,1404.78 649.21,1403.59 650.32,1400.54 651.44,1396.7 652.55,1393.07 653.66,1389.09 654.77,1386.49 655.88,1383.47 656.99,1381.22 658.1,1378.2 659.21,1374.49 660.33,1373.53 661.44,1373.86 662.55,1372.33 663.66,1371.07 664.77,1372.88 665.88,1374.88 666.99,1379.36 668.1,1381.57 669.22,1384.12 670.33,1389.51 671.44,1393.46 672.55,1395.49 673.66,1397.87 674.77,1401.34 675.88,1404.53 676.99,1408.55 678.11,1410.61 679.22,1411.01 680.33,1414.16 681.44,1417.12 682.55,1417.64 683.66,1419.03 684.77,1420.08 685.88,1419.65 687,1420.65 688.11,1421.07 689.22,1421.46 690.33,1421.96 691.44,1423.18 692.55,1424.06 693.66,1423.09 694.77,1422.86 695.89,1424 697,1425.02 698.11,1425.12 699.22,1423.28 700.33,1424.95 701.44,1427.27 702.55,1427.48 703.66,1426.67 704.78,1426.32 705.89,1425.43 707,1425.48 708.11,1424.96 709.22,1425.31 710.33,1424.82 711.44,1425.64 712.55,1426.01 713.67,1426.45 714.78,1426.62 715.89,1425.86 717,1426.59 718.11,1425.73 719.22,1425.43 720.33,1425.72 721.44,1426.61 722.56,1426.67 723.67,1426.54 724.78,1426.94 725.89,1424.86 727,1424.5 728.11,1426.07 729.22,1427.33 730.33,1427.47 731.45,1427.84 732.56,1427.04 733.67,1426.51 734.78,1426.22 735.89,1425.97 737,1425.7 738.11,1425.73 739.22,1426.16 740.34,1425.99 741.45,1426.28 742.56,1425.2 743.67,1425.99 744.78,1426.96 745.89,1427.04 747,1426.47 748.11,1425.95 749.23,1427.08 750.34,1426.96 751.45,1428.03 752.56,1426.48 753.67,1425.6 754.78,1425.49 755.89,1425.27 757,1425.42 758.12,1425.62 759.23,1426.72 760.34,1425.82 761.45,1426.12 762.56,1425.36 763.67,1425.01 764.78,1426.78 765.89,1426.87 767.01,1426.11 768.12,1426.1 769.23,1426.01 770.34,1425.74 771.45,1426.04 772.56,1424.15 773.67,1423.19 774.78,1423.73 775.9,1423.6 777.01,1422.84 778.12,1422.59 779.23,1420.77 780.34,1418.29 781.45,1418.97 782.56,1418.37 783.67,1416.28 784.79,1415.45 785.9,1414.41 787.01,1414.37 788.12,1414.2 789.23,1413.01 790.34,1412.38 791.45,1411.82 792.56,1412.27 793.68,1410.33 794.79,1409.91 795.9,1412.02 797.01,1413.08 798.12,1413.35 799.23,1415.27 800.34,1415.84 801.45,1416.96 802.57,1418.51 803.68,1419.38 804.79,1419.57 805.9,1420.46 807.01,1422.68 808.12,1423.6 809.23,1424.21 810.34,1424.18 811.46,1422.87 812.57,1423.43 813.68,1424.69 814.79,1426.31 815.9,1427.21 817.01,1426.79 818.12,1425.62 819.23,1425.89 820.35,1426.23 821.46,1426.16 822.57,1425.5 823.68,1426.4 824.79,1426.97 825.9,1427.43 827.01,1426.15 828.12,1425.29 829.24,1429.23 830.35,1428.22 831.46,1426.82 832.57,1427.58 833.68,1426.58 834.79,1427.99 835.9,1428.03 837.01,1427.29 838.13,1428.73 839.24,1427.59 840.35,1426.49 841.46,1426.78 842.57,1426.07 843.68,1426.84 844.79,1427.87 845.9,1427.77 847.02,1428 848.13,1428.43 849.24,1428.14 850.35,1427.43 851.46,1428.28 852.57,1427.56 853.68,1428.21 854.79,1428.07 855.91,1428 857.02,1429.34 858.13,1426.72 859.24,1426.22 860.35,1427.14 861.46,1428.69 862.57,1428.15 863.68,1429.5 864.8,1427.82 865.91,1427.08 867.02,1427.49 868.13,1427.82 869.24,1427.45 870.35,1426.99 871.46,1425.99 872.57,1426.79 873.69,1426.55 874.8,1425.87 875.91,1427.07 877.02,1427.64 878.13,1428.43 879.24,1427.18 880.35,1427.33 881.46,1428.19 882.58,1427.65 883.69,1426.94 884.8,1427.26 885.91,1428.39 887.02,1427.92 888.13,1428.22 889.24,1427.99 890.35,1428.97 891.47,1428.69 892.58,1427.66 893.69,1426.44 894.8,1425.84 895.91,1427.35 897.02,1427.82 898.13,1427.91 899.24,1427.42 900.36,1427.34 901.47,1427.26 902.58,1427.73 903.69,1427.82 904.8,1429.18 905.91,1428.28 907.02,1428.36 908.13,1427.61 909.25,1426.95 910.36,1426.96 911.47,1428.41 912.58,1428.87 913.69,1428.21 914.8,1428.14 915.91,1427.16 917.02,1428.42 918.14,1429.71 919.25,1428.59 920.36,1427.9 921.47,1428.42 922.58,1428.11 923.69,1427.67 924.8,1427.43 925.91,1427.4 927.03,1427.38 928.14,1428.25 929.25,1428.06 930.36,1427.44 931.47,1427.23 932.58,1426.45 933.69,1428.39 934.8,1429.16 935.92,1428.9 937.03,1428 938.14,1428.83 939.25,1428.84 940.36,1429.18 941.47,1428.72 942.58,1427.94 943.69,1427.55 944.81,1427.77 945.92,1428.21 947.03,1429.28 948.14,1429.98 949.25,1428.87 950.36,1429 951.47,1426.52 952.58,1426.23 953.7,1427.96 954.81,1428.84 955.92,1428.81 957.03,1428.2 958.14,1427.64 959.25,1427.17 960.36,1429.1 961.47,1429.9 962.59,1429.64 963.7,1428.73 964.81,1427.63 965.92,1428.2 967.03,1428.32 968.14,1427.94 969.25,1427.97 970.36,1427.55 971.48,1427.05 972.59,1427.41 973.7,1426.85 974.81,1427.81 975.92,1429.03 977.03,1427.9 978.14,1426.24 979.25,1427.42 980.37,1428.46 981.48,1428.21 982.59,1427.04 983.7,1425.88 984.81,1428.41 985.92,1428.79 987.03,1428.35 988.14,1428.27 989.26,1428.35 990.37,1427.28 991.48,1427.05 992.59,1426.77 993.7,1426.51 994.81,1426.94 995.92,1426.28 997.03,1426.75 998.15,1427.25 999.26,1426.75 1000.37,1427.32 1001.48,1427.95 1002.59,1427.36 1003.7,1429.15 1004.81,1429.61 1005.92,1429.24 1007.04,1428.31 1008.15,1428.5 1009.26,1429.02 1010.37,1427.54 1011.48,1426.86 1012.59,1429.81 1013.7,1429.06 1014.81,1428 1015.93,1427.89 1017.04,1428.29 1018.15,1427.36 1019.26,1426.33 1020.37,1427.9 1021.48,1428.17 1022.59,1425.42 1023.7,1425.75 1024.82,1426.56 1025.93,1426.7 1027.04,1426.26 1028.15,1425.3 1029.26,1424.15 1030.37,1423.04 1031.48,1420.75 1032.59,1418.93 1033.71,1417.8 1034.82,1416.37 1035.93,1417.18 1037.04,1418.5 1038.15,1418.85 1039.26,1418.67 1040.37,1419.35 1041.48,1420.78 1042.6,1423.32 1043.71,1424.8 1044.82,1426.4 1045.93,1425.68 1047.04,1425.45 1048.15,1425.47 1049.26,1425.13 1050.37,1426.25 1051.49,1426.92 1052.6,1426.79 1053.71,1425.97 1054.82,1426.83 1055.93,1427.37 1057.04,1428.07 1058.15,1428.4 1059.26,1426.73 1060.38,1427.06 1061.49,1427.11 1062.6,1428.17 1063.71,1427.93 1064.82,1426.57 1065.93,1426.13 1067.04,1424.94 1068.15,1426.01 1069.27,1427.39 1070.38,1423.89 1071.49,1421.87 1072.6,1421.35 1073.71,1419.46 1074.82,1418.93 1075.93,1418.26 1077.04,1415.75 1078.16,1415.93 1079.27,1415.41 1080.38,1414.75 1081.49,1416.23 1082.6,1417.28 1083.71,1420.16 1084.82,1422.3 1085.93,1422.59 1087.05,1423.48 1088.16,1424.04 1089.27,1425.38 1090.38,1425.38 1091.49,1426.02 1092.6,1426.61 1093.71,1427.41 1094.82,1428.5 1095.94,1428.66 1097.05,1427.91 1098.16,1427.04 1099.27,1427.1 1100.38,1427.57 1101.49,1428.14 1102.6,1427.59 1103.71,1426.74 1104.83,1427.41 1105.94,1428.91 1107.05,1429.9 1108.16,1429.27 1109.27,1427.23 1110.38,1428.06 1111.49,1427.38 1112.6,1426.06 1113.72,1426.76 1114.83,1425.63 1115.94,1425.99 1117.05,1426 1118.16,1425.4 1119.27,1424.16 1120.38,1424.33 1121.49,1424.51 1122.61,1423.35 1123.72,1423.8 1124.83,1421.75 1125.94,1422.51 1127.05,1424.13 1128.16,1423.84 1129.27,1424.76 1130.38,1426.03 1131.5,1425.7 1132.61,1425.95 1133.72,1426.69 1134.83,1427.35 1135.94,1428.45 1137.05,1427.74 1138.16,1428.38 1139.27,1427.35 1140.39,1427.3 1141.5,1426.6 1142.61,1426.98 1143.72,1428.43 1144.83,1429.79 1145.94,1428.92 1147.05,1427.26 1148.16,1428.22 1149.28,1428.35 1150.39,1427.86 1151.5,1428.5 1152.61,1429.03 1153.72,1426.87 1154.83,1426.75 1155.94,1427.57 1157.05,1426.65 1158.17,1425.6 1159.28,1426.45 1160.39,1426.86 1161.5,1426.34 1162.61,1426.55 1163.72,1426.55 1164.83,1426.57 1165.94,1427.79 1167.06,1427.13 1168.17,1427.5 1169.28,1427.65 1170.39,1426.65 1171.5,1424.59 1172.61,1423.25 1173.72,1421.92 1174.83,1421.22 1175.95,1419.68 1177.06,1417.43 1178.17,1414.58 1179.28,1410.75 1180.39,1405.96 1181.5,1400.31 1182.61,1395.1 1183.72,1390.81 1184.84,1385.53 1185.95,1380.74 1187.06,1378.52 1188.17,1377.64 1189.28,1376.99 1190.39,1380.06 1191.5,1384.59 1192.61,1390.03 1193.73,1396.27 1194.84,1401.92 1195.95,1407.78 1197.06,1411.01 1198.17,1413.72 1199.28,1417.52 1200.39,1420.67 1201.5,1421.19 1202.62,1422.92 1203.73,1424.88 1204.84,1425.04 1205.95,1425.12 1207.06,1426.3 1208.17,1426.95 1209.28,1427.06 1210.39,1426.4 1211.51,1425.24 1212.62,1426.16 1213.73,1427.02 1214.84,1427.62 1215.95,1427.17 1217.06,1427.72 1218.17,1428.37 1219.28,1427.44 1220.4,1428.23 1221.51,1428.18 1222.62,1427.3 1223.73,1427.91 1224.84,1428.25 1225.95,1427.47 1227.06,1428.24" fill="none" stroke="#808080" stroke-width="4.6" stroke-linejoin="round" />
<polyline points="183.6,1455.21 184.71,1454.7 185.82,1453.7 186.93,1454.69 188.04,1455.41 189.16,1455.27 190.27,1456.09 191.38,1454.07 192.49,1454.83 193.6,1456.52 194.71,1454.99 195.82,1455.24 196.93,1454.88 198.05,1453.88 199.16,1454.36 200.27,1456 201.38,1455.82 202.49,1454.91 203.6,1455.25 204.71,1454.54 205.82,1455.17 206.94,1456.03 208.05,1455.15 209.16,1453.65 210.27,1454.09 211.38,1454.04 212.49,1453.43 213.6,1453.22 214.71,1452.03 215.83,1449.55 216.94,1448.85 218.05,1446.96 219.16,1443.84 220.27,1441.04 221.38,1437.66 222.49,1434.47 223.6,1431.27 224.72,1428.54 225.83,1427.15 226.94,1427.52 228.05,1429.58 229.16,1433.35 230.27,1436.34 231.38,1439.25 232.49,1442.5 233.61,1445.67 234.72,1448.33 235.83,1451.09 236.94,1450.87 238.05,1451.21 239.16,1453.02 240.27,1452.43 241.38,1454.1 242.5,1454.67 243.61,1453.63 244.72,1454.66 245.83,1453.48 246.94,1453.79 248.05,1454.15 249.16,1454.35 250.27,1455.11 251.39,1455.62 252.5,1455.61 253.61,1456.6 254.72,1456.04 255.83,1454.93 256.94,1455.82 258.05,1455.69 259.16,1455.47 260.28,1452.84 261.39,1453.84 262.5,1455.45 263.61,1455 264.72,1454.72 265.83,1455.67 266.94,1454.43 268.05,1456.57 269.17,1457.56 270.28,1456.17 271.39,1456.85 272.5,1456.46 273.61,1454.99 274.72,1455.75 275.83,1454.85 276.94,1455.16 278.06,1456.55 279.17,1456.38 280.28,1454.78 281.39,1455 282.5,1455.52 283.61,1454.97 284.72,1453.66 285.83,1453.71 286.95,1454.64 288.06,1456 289.17,1457.76 290.28,1457.18 291.39,1455.21 292.5,1454.65 293.61,1455.71 294.72,1455.96 295.84,1455.48 296.95,1455.17 298.06,1455.63 299.17,1456.68 300.28,1455.65 301.39,1454.81 302.5,1455.2 303.61,1454.83 304.73,1453.4 305.84,1454.53 306.95,1455.02 308.06,1455.93 309.17,1456.16 310.28,1456.59 311.39,1455.66 312.5,1455.97 313.62,1455.05 314.73,1455.55 315.84,1455.92 316.95,1456.19 318.06,1455.86 319.17,1455.99 320.28,1456.33 321.39,1456.18 322.51,1456.18 323.62,1457.02 324.73,1456.1 325.84,1456.41 326.95,1456.12 328.06,1456.38 329.17,1457.82 330.28,1456.25 331.4,1453.98 332.51,1454.92 333.62,1455.38 334.73,1455.12 335.84,1455.32 336.95,1455.28 338.06,1456.49 339.17,1457.16 340.29,1457.05 341.4,1457.83 342.51,1456.3 343.62,1453.81 344.73,1456.04 345.84,1456.86 346.95,1455.88 348.06,1454.6 349.18,1454.13 350.29,1455.68 351.4,1456.03 352.51,1454.34 353.62,1454.26 354.73,1456.11 355.84,1457.14 356.95,1456.54 358.07,1457.81 359.18,1457.77 360.29,1457.49 361.4,1457.53 362.51,1456.99 363.62,1455.34 364.73,1454.21 365.84,1454.67 366.96,1455.71 368.07,1455.98 369.18,1456.12 370.29,1456.03 371.4,1456.18 372.51,1456.74 373.62,1456.32 374.73,1455.7 375.85,1454.03 376.96,1455.31 378.07,1455.77 379.18,1454.96 380.29,1456.07 381.4,1456.89 382.51,1456.76 383.62,1456.84 384.74,1455.61 385.85,1455.28 386.96,1455.45 388.07,1456.82 389.18,1457.25 390.29,1456.14 391.4,1456.37 392.51,1456.55 393.63,1456.02 394.74,1456.19 395.85,1456.7 396.96,1456.22 398.07,1455.05 399.18,1455.63 400.29,1455.93 401.4,1455.08 402.52,1454.94 403.63,1455.45 404.74,1455.86 405.85,1456.34 406.96,1456.07 408.07,1456.17 409.18,1455.92 410.29,1456.16 411.41,1456.48 412.52,1456.53 413.63,1457.17 414.74,1456.42 415.85,1454.8 416.96,1455.23 418.07,1456.48 419.18,1456.36 420.3,1456.21 421.41,1454.99 422.52,1454.69 423.63,1455.98 424.74,1456.75 425.85,1455.85 426.96,1455.91 428.07,1455.7 429.19,1454.93 430.3,1455.55 431.41,1456.19 432.52,1456.37 433.63,1456.67 434.74,1457.44 435.85,1457.38 436.96,1456.2 438.08,1456.48 439.19,1455.47 440.3,1455.45 441.41,1456.77 442.52,1456.94 443.63,1456.88 444.74,1457.66 445.85,1456.39 446.97,1456.23 448.08,1456.32 449.19,1456.73 450.3,1456.61 451.41,1456.61 452.52,1457.41 453.63,1457.14 454.74,1456.18 455.86,1455.71 456.97,1455.42 458.08,1456.42 459.19,1457.37 460.3,1456.46 461.41,1454.74 462.52,1454.83 463.63,1456.05 464.75,1455.6 465.86,1454.32 466.97,1454.87 468.08,1454.47 469.19,1455.32 470.3,1455.87 471.41,1455.83 472.52,1456.82 473.64,1455.87 474.75,1454.04 475.86,1454.83 476.97,1456.02 478.08,1454.91 479.19,1454.68 480.3,1455.07 481.41,1455.22 482.53,1454.87 483.64,1456.68 484.75,1456.14 485.86,1455.13 486.97,1454.9 488.08,1453.24 489.19,1455.03 490.3,1453.9 491.42,1454.98 492.53,1455.3 493.64,1454.19 494.75,1455.08 495.86,1457.23 496.97,1457.07 498.08,1455.95 499.19,1455.39 500.31,1456.1 501.42,1456.08 502.53,1456.36 503.64,1455.09 504.75,1455.57 505.86,1456.53 506.97,1455.34 508.08,1454.83 509.2,1455.56 510.31,1455.73 511.42,1456.1 512.53,1455.3 513.64,1454.91 514.75,1457.14 515.86,1456.51 516.97,1455.48 518.09,1455.83 519.2,1455.88 520.31,1456.82 521.42,1456.3 522.53,1456.46 523.64,1455.96 524.75,1456.28 525.86,1456.35 526.98,1455.94 528.09,1456.02 529.2,1456.48 530.31,1455.61 531.42,1454.99 532.53,1457.08 533.64,1457.39 534.75,1456.14 535.87,1456.42 536.98,1456.4 538.09,1454.65 539.2,1455.28 540.31,1456.15 541.42,1456.34 542.53,1455.8 543.64,1455.67 544.76,1456.82 545.87,1456.56 546.98,1455.81 548.09,1456.21 549.2,1456.06 550.31,1456.69 551.42,1456.51 552.53,1456.32 553.65,1455.85 554.76,1455.02 555.87,1456.08 556.98,1456.64 558.09,1456.68 559.2,1456.91 560.31,1455.5 561.42,1455.57 562.54,1454.87 563.65,1455.6 564.76,1455.64 565.87,1455.96 566.98,1456.81 568.09,1456.09 569.2,1455.87 570.31,1456.91 571.43,1455.56 572.54,1455.8 573.65,1456.46 574.76,1456.77 575.87,1455.42 576.98,1455.36 578.09,1456.81 579.2,1457.46 580.32,1456.16 581.43,1455.54 582.54,1457.14 583.65,1455.92 584.76,1455.38 585.87,1456.12 586.98,1456.21 588.09,1455.46 589.21,1456.22 590.32,1456.99 591.43,1457.56 592.54,1456.23 593.65,1455.27 594.76,1456.44 595.87,1457.59 596.98,1456.68 598.1,1454.86 599.21,1455.03 600.32,1456.36 601.43,1456.66 602.54,1456.79 603.65,1457.48 604.76,1456.24 605.87,1454.82 606.99,1454.29 608.1,1454.64 609.21,1455.46 610.32,1455.82 611.43,1454.55 612.54,1453.6 613.65,1453.72 614.76,1454.83 615.88,1454.04 616.99,1453.19 618.1,1453.15 619.21,1453.38 620.32,1455.15 621.43,1454.66 622.54,1455.96 623.65,1455.48 624.77,1454 625.88,1453.98 626.99,1454.83 628.1,1454.86 629.21,1455.19 630.32,1454.26 631.43,1452.66 632.54,1452.93 633.66,1453.68 634.77,1452.51 635.88,1452.28 636.99,1452.87 638.1,1451.77 639.21,1450.57 640.32,1449.7 641.43,1449.4 642.55,1449.29 643.66,1450.01 644.77,1448.78 645.88,1445.14 646.99,1442.4 648.1,1441.59 649.21,1441.55 650.32,1439.8 651.44,1436.62 652.55,1435.04 653.66,1433.85 654.77,1431.98 655.88,1428.31 656.99,1426.3 658.1,1424.13 659.21,1422.29 660.33,1421.15 661.44,1421 662.55,1420.54 663.66,1421.81 664.77,1423.06 665.88,1423.35 666.99,1425.39 668.1,1428.46 669.22,1430.11 670.33,1431.04 671.44,1432.94 672.55,1435.29 673.66,1437.03 674.77,1438.06 675.88,1440.34 676.99,1443.72 678.11,1444.65 679.22,1444.44 680.33,1446.46 681.44,1449.2 682.55,1448.87 683.66,1449.77 684.77,1451.52 685.88,1452.36 687,1452.99 688.11,1453.51 689.22,1452.49 690.33,1453.32 691.44,1455.08 692.55,1454.61 693.66,1454.51 694.77,1454.03 695.89,1455.11 697,1454.99 698.11,1455.76 699.22,1455.53 700.33,1455.43 701.44,1455.18 702.55,1456.31 703.66,1454.9 704.78,1454.82 705.89,1454.29 707,1453.84 708.11,1456.32 709.22,1457.08 710.33,1454.77 711.44,1454.84 712.55,1455.36 713.67,1455.91 714.78,1457.31 715.89,1457.12 717,1456.48 718.11,1456.46 719.22,1455.46 720.33,1455.96 721.44,1456.92 722.56,1456.03 723.67,1455.35 724.78,1456.74 725.89,1456.86 727,1455.44 728.11,1455.33 729.22,1455.64 730.33,1455.9 731.45,1456.08 732.56,1455.97 733.67,1457.17 734.78,1457.47 735.89,1457.54 737,1455.73 738.11,1455.53 739.22,1457.04 740.34,1457.21 741.45,1456.09 742.56,1455.42 743.67,1456.52 744.78,1456.51 745.89,1456.56 747,1456.61 748.11,1456.21 749.23,1456.24 750.34,1455.71 751.45,1456.96 752.56,1457.3 753.67,1457.34 754.78,1456.43 755.89,1455.56 757,1455.68 758.12,1455.39 759.23,1456.14 760.34,1456.8 761.45,1455.96 762.56,1455.5 763.67,1455.98 764.78,1455.46 765.89,1455.1 767.01,1456.44 768.12,1455.65 769.23,1454.63 770.34,1456.55 771.45,1454.61 772.56,1452.94 773.67,1455.04 774.78,1454.58 775.9,1453.84 777.01,1454.91 778.12,1453.31 779.23,1451.67 780.34,1451.88 781.45,1451.46 782.56,1450.39 783.67,1449.89 784.79,1448.71 785.9,1448.82 787.01,1449.34 788.12,1448.4 789.23,1447.55 790.34,1447.76 791.45,1447.22 792.56,1446.87 793.68,1447.23 794.79,1448.57 795.9,1448.58 797.01,1448.29 798.12,1448.72 799.23,1449.09 800.34,1449.18 801.45,1449.53 802.57,1451.3 803.68,1451.7 804.79,1452.04 805.9,1452.46 807.01,1452.12 808.12,1452.74 809.23,1454.74 810.34,1454.72 811.46,1454.06 812.57,1454.39 813.68,1454.8 814.79,1455.42 815.9,1455.43 817.01,1455.51 818.12,1455.52 819.23,1456.02 820.35,1456.46 821.46,1456.45 822.57,1456.76 823.68,1456.52 824.79,1457.12 825.9,1457.25 827.01,1457.63 828.12,1457.08 829.24,1456.66 830.35,1456.21 831.46,1456.28 832.57,1457.14 833.68,1456.73 834.79,1457.46 835.9,1457.33 837.01,1457.73 838.13,1456.69 839.24,1456.06 840.35,1456.27 841.46,1457.18 842.57,1457.62 843.68,1456.99 844.79,1456.44 845.9,1456.57 847.02,1457.26 848.13,1457.68 849.24,1457.15 850.35,1456.51 851.46,1456.71 852.57,1456.98 853.68,1457.08 854.79,1456.68 855.91,1457.82 857.02,1457.23 858.13,1457.61 859.24,1458.48 860.35,1458.14 861.46,1458.57 862.57,1458.11 863.68,1456.96 864.8,1456.45 865.91,1456.27 867.02,1457.2 868.13,1456.34 869.24,1455.37 870.35,1457.35 871.46,1458.31 872.57,1457.7 873.69,1457.77 874.8,1457.9 875.91,1457.21 877.02,1455.95 878.13,1457.2 879.24,1457.87 880.35,1456.3 881.46,1456.51 882.58,1456.78 883.69,1456.75 884.8,1456.77 885.91,1457.26 887.02,1457.15 888.13,1456.19 889.24,1456.99 890.35,1457.67 891.47,1456.33 892.58,1456.71 893.69,1457.83 894.8,1457.36 895.91,1457.13 897.02,1456.66 898.13,1455.59 899.24,1456.66 900.36,1457.26 901.47,1457.34 902.58,1457.13 903.69,1456.83 904.8,1457.1 905.91,1457.14 907.02,1457.66 908.13,1457.22 909.25,1455.98 910.36,1456.58 911.47,1456.33 912.58,1454.89 913.69,1455.3 914.8,1456.37 915.91,1456.42 917.02,1455.78 918.14,1456.32 919.25,1457.86 920.36,1458.24 921.47,1457.53 922.58,1457.77 923.69,1457.28 924.8,1456.39 925.91,1457.23 927.03,1456.76 928.14,1456.92 929.25,1457.31 930.36,1456.93 931.47,1456.72 932.58,1457.74 933.69,1456.64 934.8,1456.67 935.92,1457.13 937.03,1456.58 938.14,1456.9 939.25,1457.43 940.36,1457.31 941.47,1457.35 942.58,1458.26 943.69,1457.44 944.81,1457.23 945.92,1456.26 947.03,1456.76 948.14,1456.2 949.25,1456.82 950.36,1457.2 951.47,1457.13 952.58,1456.35 953.7,1456.61 954.81,1457.8 955.92,1458.01 957.03,1457.51 958.14,1457.24 959.25,1458 960.36,1458.24 961.47,1457.16 962.59,1456.6 963.7,1456.55 964.81,1456.94 965.92,1456.48 967.03,1455.33 968.14,1456.17 969.25,1457.34 970.36,1457.5 971.48,1458.07 972.59,1456.89 973.7,1456.36 974.81,1456.09 975.92,1456.8 977.03,1457.31 978.14,1456.91 979.25,1457.09 980.37,1456.83 981.48,1456.29 982.59,1457.87 983.7,1458.51 984.81,1457.51 985.92,1456.18 987.03,1456.46 988.14,1457.56 989.26,1457.64 990.37,1458.02 991.48,1458.53 992.59,1457.76 993.7,1456.92 994.81,1456.74 995.92,1456.77 997.03,1457.68 998.15,1457.38 999.26,1455.96 1000.37,1456.82 1001.48,1457.38 1002.59,1456.89 1003.7,1455.73 1004.81,1457.13 1005.92,1458.19 1007.04,1456.76 1008.15,1456.8 1009.26,1456.54 1010.37,1455.79 1011.48,1455.17 1012.59,1456.73 1013.7,1458.04 1014.81,1457.27 1015.93,1456.88 1017.04,1458.15 1018.15,1457.25 1019.26,1455.8 1020.37,1456.4 1021.48,1457.16 1022.59,1456.64 1023.7,1455.33 1024.82,1455 1025.93,1455.89 1027.04,1456.08 1028.15,1453.94 1029.26,1452.48 1030.37,1452.01 1031.48,1451.85 1032.59,1452.81 1033.71,1451.28 1034.82,1449.72 1035.93,1448.91 1037.04,1450.75 1038.15,1450.51 1039.26,1449.85 1040.37,1451.18 1041.48,1451.42 1042.6,1453.07 1043.71,1454.28 1044.82,1454.07 1045.93,1454.45 1047.04,1454.16 1048.15,1454.82 1049.26,1454.53 1050.37,1455.16 1051.49,1456.06 1052.6,1456.06 1053.71,1456.08 1054.82,1455.94 1055.93,1457.21 1057.04,1458.26 1058.15,1457.28 1059.26,1457.41 1060.38,1456.99 1061.49,1456.29 1062.6,1455.85 1063.71,1456.5 1064.82,1456.93 1065.93,1455.37 1067.04,1455.12 1068.15,1454.81 1069.27,1453.6 1070.38,1453.17 1071.49,1451.28 1072.6,1450.23 1073.71,1451.09 1074.82,1449.77 1075.93,1446.78 1077.04,1446.12 1078.16,1445.88 1079.27,1445.31 1080.38,1445.44 1081.49,1446.67 1082.6,1447.8 1083.71,1449.2 1084.82,1451.35 1085.93,1453.06 1087.05,1452.8 1088.16,1453.33 1089.27,1455.79 1090.38,1457.39 1091.49,1456.96 1092.6,1457.46 1093.71,1457.97 1094.82,1457.07 1095.94,1455.37 1097.05,1455.91 1098.16,1456.02 1099.27,1456.47 1100.38,1458.2 1101.49,1457.95 1102.6,1456.63 1103.71,1455.93 1104.83,1455.24 1105.94,1454.92 1107.05,1457.26 1108.16,1458.28 1109.27,1457.23 1110.38,1456.71 1111.49,1456.67 1112.6,1456.6 1113.72,1457.38 1114.83,1457.13 1115.94,1454.89 1117.05,1455.59 1118.16,1454.66 1119.27,1454.06 1120.38,1453.8 1121.49,1454.07 1122.61,1453.68 1123.72,1452.97 1124.83,1453.18 1125.94,1454.71 1127.05,1455.1 1128.16,1455.5 1129.27,1456.64 1130.38,1456.5 1131.5,1456.5 1132.61,1455.88 1133.72,1456 1134.83,1455.87 1135.94,1456.67 1137.05,1457.76 1138.16,1458.04 1139.27,1457.48 1140.39,1457.7 1141.5,1457.45 1142.61,1456.73 1143.72,1457.26 1144.83,1457.89 1145.94,1458.96 1147.05,1458.63 1148.16,1456.77 1149.28,1456.03 1150.39,1455.86 1151.5,1456.61 1152.61,1456.41 1153.72,1457.49 1154.83,1457.46 1155.94,1457.31 1157.05,1457.36 1158.17,1457.23 1159.28,1456.35 1160.39,1456.34 1161.5,1456.46 1162.61,1456.43 1163.72,1456.63 1164.83,1456.99 1165.94,1456.36 1167.06,1456.55 1168.17,1456.6 1169.28,1457.01 1170.39,1454 1171.5,1453.17 1172.61,1455.05 1173.72,1452.67 1174.83,1452.71 1175.95,1452.34 1177.06,1448.8 1178.17,1447.82 1179.28,1445.64 1180.39,1442.38 1181.5,1441.14 1182.61,1437.91 1183.72,1433.61 1184.84,1432.41 1185.95,1430.57 1187.06,1427.62 1188.17,1426.19 1189.28,1426.96 1190.39,1430.04 1191.5,1431.57 1192.61,1433.18 1193.73,1437.84 1194.84,1441 1195.95,1443.44 1197.06,1446.47 1198.17,1448.28 1199.28,1448.41 1200.39,1450.51 1201.5,1453.66 1202.62,1455.86 1203.73,1455.49 1204.84,1455.1 1205.95,1456.48 1207.06,1456.91 1208.17,1456.62 1209.28,1455.19 1210.39,1455.38 1211.51,1456.62 1212.62,1455.87 1213.73,1455.96 1214.84,1457.92 1215.95,1457.61 1217.06,1456.04 1218.17,1455.28 1219.28,1456.38 1220.4,1456.88 1221.51,1456.48 1222.62,1457.12 1223.73,1457.68 1224.84,1457.67 1225.95,1457.77 1227.06,1456.83" fill="none" stroke="#C0C0C0" stroke-width="4.6" stroke-linejoin="round" />
<polyline points="183.6,1483.61 184.71,1483.52 185.82,1483.8 186.93,1484.52 188.04,1483.89 189.16,1483.15 190.27,1484.47 191.38,1484.55 192.49,1483.06 193.6,1483.06 194.71,1482.91 195.82,1482.57 196.93,1482.45 198.05,1482.65 199.16,1484.53 200.27,1484.99 201.38,1484.73 202.49,1484.62 203.6,1483.68 204.71,1483.41 205.82,1483.31 206.94,1482.31 208.05,1481.57 209.16,1482.47 210.27,1481.65 211.38,1481.15 212.49,1481.34 213.6,1480.76 214.71,1479.55 215.83,1477.2 216.94,1476.13 218.05,1474.72 219.16,1472.04 220.27,1469.08 221.38,1468.08 222.49,1465.91 223.6,1463.36 224.72,1464.2 225.83,1463.32 226.94,1462.87 228.05,1464.45 229.16,1466.17 230.27,1467.39 231.38,1469.18 232.49,1472.27 233.61,1474.17 234.72,1475.67 235.83,1476.04 236.94,1477.47 238.05,1480.06 239.16,1480.57 240.27,1480.51 241.38,1481.76 242.5,1482.84 243.61,1483.09 244.72,1482.69 245.83,1483.31 246.94,1484.51 248.05,1484.71 249.16,1482.98 250.27,1484.67 251.39,1483.98 252.5,1482.4 253.61,1483.42 254.72,1483.84 255.83,1483.99 256.94,1484.78 258.05,1484.97 259.16,1483.76 260.28,1483.64 261.39,1484.61 262.5,1485.04 263.61,1485.12 264.72,1484.99 265.83,1484.82 266.94,1484.06 268.05,1483.11 269.17,1483.84 270.28,1484.03 271.39,1484.71 272.5,1484.13 273.61,1483.59 274.72,1483.77 275.83,1484.6 276.94,1485.04 278.06,1484.53 279.17,1484.41 280.28,1485.32 281.39,1483.83 282.5,1483.99 283.61,1485.2 284.72,1485.42 285.83,1485.24 286.95,1484.13 288.06,1483.65 289.17,1484.47 290.28,1484.21 291.39,1483.95 292.5,1483.33 293.61,1483 294.72,1484.05 295.84,1484.21 296.95,1483.7 298.06,1483.92 299.17,1484.44 300.28,1484.31 301.39,1484.34 302.5,1484.47 303.61,1484.24 304.73,1484.25 305.84,1483.82 306.95,1483.71 308.06,1483.07 309.17,1482.94 310.28,1483.2 311.39,1483.66 312.5,1484.9 313.62,1484.83 314.73,1484.48 315.84,1483.89 316.95,1484.19 318.06,1485.53 319.17,1485.03 320.28,1483.87 321.39,1483.38 322.51,1484.1 323.62,1483.95 324.73,1484.47 325.84,1484.1 326.95,1483.02 328.06,1484.05 329.17,1483.84 330.28,1484.27 331.4,1485.29 332.51,1484.49 333.62,1484.32 334.73,1485.36 335.84,1484.72 336.95,1485.21 338.06,1484.89 339.17,1483.75 340.29,1484.13 341.4,1484.62 342.51,1485.22 343.62,1485.44 344.73,1485.03 345.84,1485 346.95,1484.83 348.06,1485.01 349.18,1484.47 350.29,1483.61 351.4,1484.16 352.51,1486.17 353.62,1486.03 354.73,1484.38 355.84,1485.03 356.95,1483.92 358.07,1483.58 359.18,1484.62 360.29,1484.24 361.4,1483.86 362.51,1484.15 363.62,1484.1 364.73,1483.8 365.84,1483.53 366.96,1483.13 368.07,1483.29 369.18,1484.05 370.29,1485.06 371.4,1484.51 372.51,1483.51 373.62,1484.98 374.73,1484.46 375.85,1484.11 376.96,1483.99 378.07,1483.71 379.18,1484.46 380.29,1484.95 381.4,1485.47 382.51,1485.43 383.62,1484.88 384.74,1484.96 385.85,1484.16 386.96,1484.84 388.07,1485.33 389.18,1485.04 390.29,1485.09 391.4,1483.88 392.51,1483.26 393.63,1484.16 394.74,1484.68 395.85,1484.94 396.96,1484.83 398.07,1484.47 399.18,1485.22 400.29,1485.26 401.4,1485.13 402.52,1485.56 403.63,1485.79 404.74,1485.25 405.85,1485.11 406.96,1485 408.07,1485.31 409.18,1486.35 410.29,1484.84 411.41,1483.69 412.52,1485.21 413.63,1485.31 414.74,1484.38 415.85,1483.98 416.96,1484.85 418.07,1485.28 419.18,1486 420.3,1485.32 421.41,1485.08 422.52,1485.93 423.63,1484.38 424.74,1483.37 425.85,1484.32 426.96,1484.34 428.07,1484.1 429.19,1484.02 430.3,1484.23 431.41,1483.98 432.52,1483.46 433.63,1484.31 434.74,1484.82 435.85,1485.23 436.96,1485.29 438.08,1485.05 439.19,1485.21 440.3,1484.35 441.41,1483.93 442.52,1484.56 443.63,1485.27 444.74,1485.36 445.85,1484.73 446.97,1484.4 448.08,1484.68 449.19,1484.01 450.3,1484.65 451.41,1485.41 452.52,1485.47 453.63,1485.57 454.74,1485.6 455.86,1483.88 456.97,1483.99 458.08,1483.84 459.19,1483.47 460.3,1484.15 461.41,1485.27 462.52,1485.29 463.63,1484.89 464.75,1485.78 465.86,1485.48 466.97,1484.15 468.08,1483.4 469.19,1483.54 470.3,1484.34 471.41,1483.74 472.52,1484.27 473.64,1484.98 474.75,1484.32 475.86,1484.4 476.97,1484.98 478.08,1484.45 479.19,1484.82 480.3,1484.49 481.41,1484.7 482.53,1485.74 483.64,1485.41 484.75,1484 485.86,1484.18 486.97,1484.72 488.08,1484.15 489.19,1483.53 490.3,1483.9 491.42,1485 492.53,1485.47 493.64,1485.68 494.75,1485.09 495.86,1485.8 496.97,1484.92 498.08,1484.56 499.19,1484.67 500.31,1485.44 501.42,1485.26 502.53,1484.03 503.64,1484.37 504.75,1484.06 505.86,1483.67 506.97,1484.85 508.08,1485 509.2,1485.15 510.31,1484.46 511.42,1485.07 512.53,1485.05 513.64,1483.4 514.75,1483.32 515.86,1483.44 516.97,1483.2 518.09,1484.36 519.2,1485.06 520.31,1485.14 521.42,1484.43 522.53,1484.66 523.64,1483.97 524.75,1483.76 525.86,1484.35 526.98,1484.23 528.09,1484.47 529.2,1484.66 530.31,1484.91 531.42,1485 532.53,1485.33 533.64,1484.73 534.75,1484.83 535.87,1485.06 536.98,1484.89 538.09,1484.81 539.2,1483.39 540.31,1484.91 541.42,1484.84 542.53,1483.78 543.64,1484.11 544.76,1483.7 545.87,1485.14 546.98,1484.94 548.09,1483.96 549.2,1483.84 550.31,1484.54 551.42,1485.62 552.53,1485.33 553.65,1484.25 554.76,1485.08 555.87,1485.3 556.98,1484.27 558.09,1484.26 559.2,1484.64 560.31,1484.78 561.42,1484.68 562.54,1484.59 563.65,1485.7 564.76,1487.01 565.87,1485.8 566.98,1484.08 568.09,1483.56 569.2,1484.62 570.31,1483.9 571.43,1483.78 572.54,1484.7 573.65,1484.79 574.76,1484.35 575.87,1485.46 576.98,1485.72 578.09,1484.54 579.2,1484.77 580.32,1484.69 581.43,1484.09 582.54,1484.02 583.65,1485.01 584.76,1484.59 585.87,1484.17 586.98,1485.01 588.09,1485.01 589.21,1484.67 590.32,1484.09 591.43,1485.51 592.54,1485.79 593.65,1483.26 594.76,1484.17 595.87,1484.07 596.98,1482.96 598.1,1483.31 599.21,1484.73 600.32,1484.57 601.43,1484.22 602.54,1483.26 603.65,1484.12 604.76,1484.36 605.87,1483.14 606.99,1483.6 608.1,1484.17 609.21,1483.76 610.32,1484.03 611.43,1483.83 612.54,1483.99 613.65,1483.46 614.76,1482.97 615.88,1483.44 616.99,1483.77 618.1,1482.89 619.21,1483.67 620.32,1483.66 621.43,1483.06 622.54,1483.39 623.65,1482.82 624.77,1481.78 625.88,1483.6 626.99,1484.36 628.1,1482.62 629.21,1482.28 630.32,1482.79 631.43,1482.07 632.54,1482.5 633.66,1481.79 634.77,1481.54 635.88,1480.75 636.99,1480.31 638.1,1480.87 639.21,1480.06 640.32,1478.4 641.43,1477.72 642.55,1477.53 643.66,1476.19 644.77,1474.84 645.88,1475.17 646.99,1474.78 648.1,1472.31 649.21,1469.96 650.32,1468.56 651.44,1467.5 652.55,1466.89 653.66,1466.19 654.77,1464.38 655.88,1463.73 656.99,1461.57 658.1,1461.35 659.21,1462.78 660.33,1461.19 661.44,1458.79 662.55,1459.88 663.66,1461.58 664.77,1461.49 665.88,1461.99 666.99,1463.61 668.1,1465.15 669.22,1465.65 670.33,1465.19 671.44,1466.44 672.55,1467.47 673.66,1468.77 674.77,1470.2 675.88,1471.06 676.99,1473.31 678.11,1474.16 679.22,1473.72 680.33,1475.29 681.44,1477.11 682.55,1477.67 683.66,1477.68 684.77,1478.25 685.88,1478.92 687,1479.47 688.11,1479.89 689.22,1480.55 690.33,1480.46 691.44,1481.32 692.55,1481.65 693.66,1482.51 694.77,1483.11 695.89,1483.79 697,1482.7 698.11,1483.38 699.22,1483.71 700.33,1483.66 701.44,1484.23 702.55,1484.47 703.66,1484.04 704.78,1483.99 705.89,1483.89 707,1484.22 708.11,1483.63 709.22,1483.81 710.33,1485.06 711.44,1485.83 712.55,1485.49 713.67,1485.39 714.78,1485.02 715.89,1484.99 717,1485.76 718.11,1484.95 719.22,1483.25 720.33,1483.51 721.44,1484.31 722.56,1483.87 723.67,1483.26 724.78,1483.55 725.89,1483.41 727,1484.41 728.11,1485.76 729.22,1485.47 730.33,1483.83 731.45,1483.97 732.56,1483.99 733.67,1484.25 734.78,1484.05 735.89,1484.7 737,1485.26 738.11,1484.54 739.22,1484.63 740.34,1484.7 741.45,1485.52 742.56,1484.01 743.67,1483.95 744.78,1485.37 745.89,1484.73 747,1484 748.11,1484.35 749.23,1483.95 750.34,1483.73 751.45,1483.58 752.56,1483.88 753.67,1483.04 754.78,1483.15 755.89,1484.41 757,1484.28 758.12,1483.84 759.23,1484.57 760.34,1485.44 761.45,1484.26 762.56,1484.42 763.67,1483.33 764.78,1482.59 765.89,1483.67 767.01,1483.92 768.12,1483.58 769.23,1483.8 770.34,1483.28 771.45,1483.22 772.56,1482.63 773.67,1481.81 774.78,1480.74 775.9,1481.49 777.01,1481.29 778.12,1481.48 779.23,1481.91 780.34,1480.84 781.45,1480.19 782.56,1480.04 783.67,1479.51 784.79,1478.28 785.9,1479.22 787.01,1478.9 788.12,1478.52 789.23,1478.63 790.34,1478.4 791.45,1478.28 792.56,1478.66 793.68,1477.91 794.79,1478.43 795.9,1478.85 797.01,1478.66 798.12,1478.6 799.23,1478.93 800.34,1479.77 801.45,1479.31 802.57,1478.62 803.68,1479.62 804.79,1481.13 805.9,1481.26 807.01,1482.19 808.12,1483.12 809.23,1483.46 810.34,1483.81 811.46,1483.38 812.57,1483.33 813.68,1482.92 814.79,1481.42 815.9,1482.66 817.01,1483.36 818.12,1483.38 819.23,1482.37 820.35,1483.61 821.46,1484.4 822.57,1483.82 823.68,1483.41 824.79,1483.46 825.9,1483.64 827.01,1483.61 828.12,1483.34 829.24,1483.93 830.35,1484.37 831.46,1485.07 832.57,1484.02 833.68,1483.78 834.79,1484.06 835.9,1484.64 837.01,1484.92 838.13,1485.32 839.24,1486.29 840.35,1485.6 841.46,1485.2 842.57,1484.66 843.68,1484.53 844.79,1484.89 845.9,1486.23 847.02,1485.12 848.13,1484.42 849.24,1484.92 850.35,1484.53 851.46,1484.89 852.57,1485.14 853.68,1485.08 854.79,1484.62 855.91,1485.17 857.02,1484.76 858.13,1484.44 859.24,1485.4 860.35,1486.22 861.46,1485.16 862.57,1485.13 863.68,1485.26 864.8,1485.66 865.91,1485.56 867.02,1486.15 868.13,1486.69 869.24,1485.12 870.35,1484.51 871.46,1484.52 872.57,1484.76 873.69,1483.99 874.8,1483.39 875.91,1485.07 877.02,1485.74 878.13,1485.72 879.24,1484.89 880.35,1484.15 881.46,1484.61 882.58,1485.9 883.69,1485.75 884.8,1485.3 885.91,1485.94 887.02,1485.86 888.13,1485.43 889.24,1485.5 890.35,1485.23 891.47,1486.04 892.58,1485.75 893.69,1484.71 894.8,1485.31 895.91,1486.03 897.02,1485.29 898.13,1485.44 899.24,1486.14 900.36,1483.62 901.47,1482.83 902.58,1484.76 903.69,1484.81 904.8,1485.85 905.91,1486.09 907.02,1485.29 908.13,1485.22 909.25,1485.02 910.36,1484.69 911.47,1485.05 912.58,1485.88 913.69,1484.71 914.8,1484.76 915.91,1485.07 917.02,1485.11 918.14,1484.83 919.25,1485.03 920.36,1484.66 921.47,1484.81 922.58,1485.09 923.69,1484.15 924.8,1484.84 925.91,1483.74 927.03,1483.91 928.14,1484.22 929.25,1484.82 930.36,1485.17 931.47,1485.63 932.58,1485.48 933.69,1485.07 934.8,1485.86 935.92,1485.45 937.03,1485.08 938.14,1486.13 939.25,1486.25 940.36,1486.74 941.47,1486.36 942.58,1485.15 943.69,1485.72 944.81,1486.28 945.92,1485.5 947.03,1485.51 948.14,1485.46 949.25,1485.56 950.36,1485.52 951.47,1485.24 952.58,1486.26 953.7,1486.25 954.81,1484.69 955.92,1484.9 957.03,1485.21 958.14,1485.38 959.25,1485.58 960.36,1485.63 961.47,1484.44 962.59,1483.69 963.7,1485.53 964.81,1485.86 965.92,1486.11 967.03,1486.17 968.14,1485.21 969.25,1484.09 970.36,1484.95 971.48,1485.84 972.59,1486.58 973.7,1485.9 974.81,1485.29 975.92,1484.27 977.03,1484.24 978.14,1485.23 979.25,1485.21 980.37,1484.66 981.48,1485.82 982.59,1486.85 983.7,1485.32 984.81,1484.95 985.92,1485.1 987.03,1486.04 988.14,1486.05 989.26,1485.77 990.37,1484.99 991.48,1485.74 992.59,1485.66 993.7,1486.31 994.81,1486.71 995.92,1485.35 997.03,1485.36 998.15,1485.66 999.26,1485.26 1000.37,1485.65 1001.48,1485.57 1002.59,1485.29 1003.7,1484.91 1004.81,1484.57 1005.92,1485.01 1007.04,1485.39 1008.15,1485.96 1009.26,1484.85 1010.37,1484.74 1011.48,1486.21 1012.59,1485.42 1013.7,1484.27 1014.81,1484.17 1015.93,1485.22 1017.04,1484.63 1018.15,1484.53 1019.26,1484.56 1020.37,1484.26 1021.48,1484.35 1022.59,1484.28 1023.7,1484.08 1024.82,1484.06 1025.93,1484.12 1027.04,1483.5 1028.15,1483.42 1029.26,1482.83 1030.37,1482.05 1031.48,1481.93 1032.59,1480.66 1033.71,1480.13 1034.82,1480.3 1035.93,1480 1037.04,1480.33 1038.15,1480.48 1039.26,1480.44 1040.37,1481.88 1041.48,1483.69 1042.6,1483.88 1043.71,1483.44 1044.82,1484.04 1045.93,1484.22 1047.04,1483.85 1048.15,1484.1 1049.26,1484.18 1050.37,1483.04 1051.49,1483.24 1052.6,1483.88 1053.71,1484.74 1054.82,1484.73 1055.93,1483.57 1057.04,1484.11 1058.15,1485 1059.26,1485.39 1060.38,1485.29 1061.49,1486.27 1062.6,1485.02 1063.71,1484.9 1064.82,1485.35 1065.93,1484.03 1067.04,1483.42 1068.15,1482.89 1069.27,1482.6 1070.38,1482.16 1071.49,1481.49 1072.6,1481.16 1073.71,1480.11 1074.82,1480.4 1075.93,1480.59 1077.04,1479.13 1078.16,1479.19 1079.27,1478.63 1080.38,1477.6 1081.49,1478.93 1082.6,1480.41 1083.71,1480.31 1084.82,1481.17 1085.93,1483.14 1087.05,1484.92 1088.16,1483.52 1089.27,1483.14 1090.38,1483.07 1091.49,1485.21 1092.6,1485.13 1093.71,1484.81 1094.82,1485.02 1095.94,1484.15 1097.05,1484.29 1098.16,1484.01 1099.27,1484.03 1100.38,1484.57 1101.49,1485.04 1102.6,1483.75 1103.71,1484.07 1104.83,1486.52 1105.94,1485.44 1107.05,1484.78 1108.16,1484.8 1109.27,1483 1110.38,1483.06 1111.49,1483.89 1112.6,1484.83 1113.72,1484.79 1114.83,1484.19 1115.94,1484.5 1117.05,1484.37 1118.16,1483.82 1119.27,1484.05 1120.38,1483.02 1121.49,1482.79 1122.61,1484.06 1123.72,1482.58 1124.83,1482.05 1125.94,1483.23 1127.05,1483.76 1128.16,1483.58 1129.27,1483.97 1130.38,1483.64 1131.5,1484.4 1132.61,1484.82 1133.72,1485.62 1134.83,1485.82 1135.94,1485.36 1137.05,1485.86 1138.16,1484.95 1139.27,1484.44 1140.39,1483.82 1141.5,1484.84 1142.61,1486.39 1143.72,1485.44 1144.83,1484.15 1145.94,1485.27 1147.05,1485.09 1148.16,1484.48 1149.28,1485.79 1150.39,1485.45 1151.5,1484.78 1152.61,1485.91 1153.72,1485.99 1154.83,1484.56 1155.94,1485.4 1157.05,1484.44 1158.17,1484.75 1159.28,1485.49 1160.39,1484.62 1161.5,1483.99 1162.61,1483.6 1163.72,1485.07 1164.83,1485.12 1165.94,1483.87 1167.06,1484.1 1168.17,1484.71 1169.28,1484.13 1170.39,1483.62 1171.5,1483.45 1172.61,1482.42 1173.72,1481.51 1174.83,1480.5 1175.95,1478.79 1177.06,1477.12 1178.17,1476.73 1179.28,1475.28 1180.39,1473.67 1181.5,1472.19 1182.61,1471.2 1183.72,1469.71 1184.84,1468.07 1185.95,1466.61 1187.06,1465.74 1188.17,1465.43 1189.28,1465.96 1190.39,1465.74 1191.5,1467.08 1192.61,1469.39 1193.73,1471.13 1194.84,1471.89 1195.95,1473.32 1197.06,1475.17 1198.17,1476.54 1199.28,1477.38 1200.39,1478.35 1201.5,1480.07 1202.62,1481.6 1203.73,1482.33 1204.84,1482.21 1205.95,1483.04 1207.06,1483.58 1208.17,1483.49 1209.28,1483.36 1210.39,1483.64 1211.51,1484.7 1212.62,1484.78 1213.73,1484.57 1214.84,1484.15 1215.95,1486.16 1217.06,1484.71 1218.17,1482.88 1219.28,1483.93 1220.4,1485.02 1221.51,1486.29 1222.62,1486.21 1223.73,1485.61 1224.84,1485.93 1225.95,1485.71 1227.06,1484.18" fill="none" stroke="#00FFFF" stroke-width="4.6" stroke-linejoin="round" />
<polyline points="183.6,1513.93 184.71,1513.99 185.82,1515.02 186.93,1514.16 188.04,1514.17 189.16,1513.46 190.27,1514.06 191.38,1514.33 192.49,1514.19 193.6,1514.36 194.71,1514.27 195.82,1513.93 196.93,1513.28 198.05,1513.25 199.16,1513.07 200.27,1513.17 201.38,1512.55 202.49,1512.93 203.6,1513.95 204.71,1514.29 205.82,1514.34 206.94,1513.65 208.05,1512.92 209.16,1512.58 210.27,1512.65 211.38,1512.73 212.49,1512.22 213.6,1510.63 214.71,1510.8 215.83,1510.42 216.94,1509.33 218.05,1507.79 219.16,1505.91 220.27,1505.5 221.38,1503.14 222.49,1500.26 223.6,1500.77 224.72,1500.26 225.83,1498.89 226.94,1498.76 228.05,1498.68 229.16,1501.42 230.27,1503.6 231.38,1504.6 232.49,1506.21 233.61,1506.8 234.72,1508.19 235.83,1510.13 236.94,1509.5 238.05,1510.58 239.16,1512.26 240.27,1512.43 241.38,1512.02 242.5,1512.32 243.61,1512.63 244.72,1513.12 245.83,1513.05 246.94,1513.52 248.05,1513.37 249.16,1512.97 250.27,1513.94 251.39,1513.87 252.5,1513.81 253.61,1513.11 254.72,1514 255.83,1513.44 256.94,1513.23 258.05,1513.64 259.16,1513.25 260.28,1513.34 261.39,1514.35 262.5,1515.19 263.61,1514.32 264.72,1513.55 265.83,1512.7 266.94,1514.11 268.05,1513.91 269.17,1513 270.28,1513.62 271.39,1514.33 272.5,1514.99 273.61,1515.64 274.72,1515.11 275.83,1513.94 276.94,1513.41 278.06,1513.61 279.17,1514.32 280.28,1514.76 281.39,1514.64 282.5,1513.17 283.61,1512.98 284.72,1514.56 285.83,1514.22 286.95,1513.75 288.06,1515.43 289.17,1514.94 290.28,1514.74 291.39,1515.51 292.5,1515.08 293.61,1514.05 294.72,1512.62 295.84,1512.73 296.95,1514.06 298.06,1514.57 299.17,1514.87 300.28,1513.85 301.39,1513.74 302.5,1513 303.61,1512.82 304.73,1514.01 305.84,1513.05 306.95,1513.7 308.06,1515.33 309.17,1513.93 310.28,1513.39 311.39,1514.89 312.5,1514.94 313.62,1514.45 314.73,1514.26 315.84,1513.36 316.95,1513.49 318.06,1514.71 319.17,1514.58 320.28,1514.49 321.39,1514.13 322.51,1513.47 323.62,1513.53 324.73,1513.35 325.84,1512.96 326.95,1513.58 328.06,1513.95 329.17,1513.49 330.28,1514.12 331.4,1513.83 332.51,1513.98 333.62,1514.51 334.73,1515.17 335.84,1514.88 336.95,1514.64 338.06,1514.42 339.17,1513.36 340.29,1514.05 341.4,1515.31 342.51,1514.64 343.62,1515.19 344.73,1515.36 345.84,1515.52 346.95,1514.73 348.06,1513.57 349.18,1513.82 350.29,1513.74 351.4,1513.96 352.51,1514.05 353.62,1514.12 354.73,1514.13 355.84,1513.56 356.95,1513.48 358.07,1514.61 359.18,1514.54 360.29,1513.38 361.4,1512.55 362.51,1513.22 363.62,1514.16 364.73,1513.59 365.84,1512.74 366.96,1513.79 368.07,1516.06 369.18,1515.75 370.29,1513.91 371.4,1513.71 372.51,1514.03 373.62,1513.41 374.73,1512.92 375.85,1513.56 376.96,1514.52 378.07,1514.56 379.18,1513.86 380.29,1514.17 381.4,1514.61 382.51,1513.8 383.62,1513.14 384.74,1514.06 385.85,1514.99 386.96,1514.78 388.07,1514.93 389.18,1515.37 390.29,1513.86 391.4,1513.86 392.51,1515.04 393.63,1515.24 394.74,1515.34 395.85,1514.35 396.96,1514.32 398.07,1514.82 399.18,1514.12 400.29,1514.05 401.4,1513.51 402.52,1513.23 403.63,1514.04 404.74,1514.85 405.85,1514.55 406.96,1515 408.07,1515.53 409.18,1514.18 410.29,1513.76 411.41,1513.86 412.52,1514.44 413.63,1514.86 414.74,1514 415.85,1514.39 416.96,1513.8 418.07,1514.34 419.18,1513.28 420.3,1513.2 421.41,1513.73 422.52,1514.29 423.63,1514.56 424.74,1513.09 425.85,1512.67 426.96,1513.38 428.07,1514.61 429.19,1515.49 430.3,1515.14 431.41,1515.2 432.52,1514.29 433.63,1514.14 434.74,1514.41 435.85,1513.65 436.96,1513.61 438.08,1513.87 439.19,1514.31 440.3,1514.63 441.41,1514.08 442.52,1513.71 443.63,1512.98 444.74,1513.79 445.85,1514.32 446.97,1514.15 448.08,1514.48 449.19,1514.13 450.3,1513.5 451.41,1513.53 452.52,1513.8 453.63,1514.2 454.74,1513.95 455.86,1513.75 456.97,1513.33 458.08,1513.51 459.19,1513.12 460.3,1513.22 461.41,1514.26 462.52,1514.5 463.63,1514.19 464.75,1514.03 465.86,1514.62 466.97,1513.9 468.08,1514.03 469.19,1513.98 470.3,1514.1 471.41,1514.23 472.52,1513.87 473.64,1514.19 474.75,1513.98 475.86,1513.33 476.97,1513.52 478.08,1513.36 479.19,1513.84 480.3,1513.94 481.41,1513.32 482.53,1513.96 483.64,1514.57 484.75,1514.26 485.86,1513.99 486.97,1514.61 488.08,1514.4 489.19,1514.26 490.3,1513.7 491.42,1514.11 492.53,1514.34 493.64,1514.45 494.75,1514.26 495.86,1513.72 496.97,1513.3 498.08,1513.68 499.19,1513.9 500.31,1513.36 501.42,1514.43 502.53,1515.23 503.64,1513.49 504.75,1512.34 505.86,1512.63 506.97,1513.76 508.08,1515.73 509.2,1514.55 510.31,1513.63 511.42,1514.83 512.53,1514.44 513.64,1514.65 514.75,1515.13 515.86,1514.54 516.97,1514.69 518.09,1515.05 519.2,1513.8 520.31,1513.62 521.42,1513.82 522.53,1514.01 523.64,1513.58 524.75,1513.25 525.86,1513.89 526.98,1514.24 528.09,1514.97 529.2,1514.83 530.31,1515.07 531.42,1515.44 532.53,1515.3 533.64,1512.72 534.75,1512.53 535.87,1514.19 536.98,1513.67 538.09,1513.45 539.2,1514.38 540.31,1514.48 541.42,1514.04 542.53,1515.02 543.64,1514.6 544.76,1514.66 545.87,1514.58 546.98,1514.24 548.09,1514.05 549.2,1513.62 550.31,1513.78 551.42,1513.38 552.53,1514.04 553.65,1514.48 554.76,1514 555.87,1514.46 556.98,1513.91 558.09,1512.75 559.2,1513.7 560.31,1513.59 561.42,1512.93 562.54,1513.76 563.65,1514.76 564.76,1514.1 565.87,1513.41 566.98,1514.66 568.09,1513.94 569.2,1514.11 570.31,1514.69 571.43,1513.92 572.54,1513.81 573.65,1513.63 574.76,1513.47 575.87,1513.81 576.98,1513.69 578.09,1512.98 579.2,1513.91 580.32,1514.05 581.43,1514.32 582.54,1514.31 583.65,1515.56 584.76,1515.41 585.87,1513.56 586.98,1512.85 588.09,1513.09 589.21,1513.51 590.32,1513.01 591.43,1512.84 592.54,1513.64 593.65,1513.19 594.76,1513.4 595.87,1514.1 596.98,1513.54 598.1,1513.95 599.21,1514.24 600.32,1514.58 601.43,1514.7 602.54,1514.06 603.65,1513.75 604.76,1514.09 605.87,1514.25 606.99,1513.09 608.1,1513.74 609.21,1513.86 610.32,1514.21 611.43,1514.29 612.54,1513.47 613.65,1513.49 614.76,1514.48 615.88,1513.78 616.99,1512.44 618.1,1512.84 619.21,1514.14 620.32,1514.82 621.43,1514.59 622.54,1512.63 623.65,1512.44 624.77,1512.92 625.88,1512.91 626.99,1512.43 628.1,1512.43 629.21,1512.11 630.32,1513.53 631.43,1513.4 632.54,1512.08 633.66,1511.26 634.77,1511.93 635.88,1512.23 636.99,1512.08 638.1,1511.48 639.21,1510.32 640.32,1509.42 641.43,1508.79 642.55,1508.4 643.66,1508.49 644.77,1507.53 645.88,1506.81 646.99,1506.58 648.1,1505.27 649.21,1504.74 650.32,1504.06 651.44,1502.93 652.55,1501.78 653.66,1500.83 654.77,1499.46 655.88,1498.27 656.99,1498.12 658.1,1498.2 659.21,1497.29 660.33,1496.89 661.44,1496.53 662.55,1495.92 663.66,1496.27 664.77,1497.05 665.88,1497.06 666.99,1497.31 668.1,1498.1 669.22,1499.29 670.33,1499.49 671.44,1500.73 672.55,1502.27 673.66,1503.16 674.77,1503.63 675.88,1504.69 676.99,1505.1 678.11,1505.6 679.22,1507.32 680.33,1507.45 681.44,1507.71 682.55,1508.6 683.66,1509.84 684.77,1509.66 685.88,1509.81 687,1510.25 688.11,1511.91 689.22,1512.17 690.33,1511.61 691.44,1512.11 692.55,1512.95 693.66,1511.82 694.77,1511.46 695.89,1512.66 697,1512.79 698.11,1512.15 699.22,1512.34 700.33,1513.15 701.44,1513.63 702.55,1514.63 703.66,1513.33 704.78,1512.17 705.89,1512.42 707,1513.73 708.11,1513.55 709.22,1512.57 710.33,1513.64 711.44,1513.67 712.55,1514.13 713.67,1514.34 714.78,1513.57 715.89,1514.11 717,1514.65 718.11,1515.01 719.22,1514.24 720.33,1513.62 721.44,1514.63 722.56,1515.1 723.67,1514.52 724.78,1513.62 725.89,1513.13 727,1512.86 728.11,1512.97 729.22,1513.56 730.33,1513.32 731.45,1514.01 732.56,1512.92 733.67,1512.7 734.78,1513.41 735.89,1514.15 737,1514.57 738.11,1513.6 739.22,1513.76 740.34,1513.6 741.45,1513.86 742.56,1513.53 743.67,1513.71 744.78,1514.92 745.89,1515.7 747,1515.39 748.11,1513.9 749.23,1513.41 750.34,1513.36 751.45,1513.38 752.56,1512.87 753.67,1513.05 754.78,1514.37 755.89,1515.59 757,1514.99 758.12,1514.19 759.23,1514.33 760.34,1513.24 761.45,1512.78 762.56,1513.88 763.67,1513.85 764.78,1513.33 765.89,1513.85 767.01,1512.71 768.12,1513.26 769.23,1513.17 770.34,1513.06 771.45,1513.1 772.56,1513.12 773.67,1513.33 774.78,1512.14 775.9,1512.2 777.01,1512.45 778.12,1512.58 779.23,1511.59 780.34,1511.54 781.45,1511.64 782.56,1510.56 783.67,1510.65 784.79,1510.16 785.9,1510.11 787.01,1509.8 788.12,1509.35 789.23,1509.24 790.34,1509.62 791.45,1509.31 792.56,1509.26 793.68,1509.55 794.79,1508.87 795.9,1509.44 797.01,1510.57 798.12,1510.46 799.23,1510.3 800.34,1509.85 801.45,1510.83 802.57,1510.36 803.68,1510.53 804.79,1512.17 805.9,1511.74 807.01,1511.86 808.12,1511.87 809.23,1512.4 810.34,1511.99 811.46,1511.99 812.57,1512.42 813.68,1512.91 814.79,1512.35 815.9,1513.58 817.01,1514.21 818.12,1513.46 819.23,1514.33 820.35,1514.31 821.46,1514 822.57,1514.18 823.68,1514.95 824.79,1514.7 825.9,1513.56 827.01,1513.79 828.12,1514.42 829.24,1514.32 830.35,1513.85 831.46,1513.57 832.57,1513.05 833.68,1513.92 834.79,1514.01 835.9,1513.66 837.01,1514.37 838.13,1515.1 839.24,1514.18 840.35,1513.8 841.46,1514.03 842.57,1514.51 843.68,1514.01 844.79,1513.59 845.9,1514.34 847.02,1514.24 848.13,1513.65 849.24,1514.05 850.35,1513.94 851.46,1513.96 852.57,1515.04 853.68,1514.82 854.79,1514.32 855.91,1514.16 857.02,1513.48 858.13,1514.02 859.24,1515.09 860.35,1515.53 861.46,1516.49 862.57,1515.36 863.68,1514.5 864.8,1513.98 865.91,1515.11 867.02,1515.71 868.13,1515.39 869.24,1515.19 870.35,1514.67 871.46,1513.11 872.57,1514.29 873.69,1515.34 874.8,1514.92 875.91,1514.19 877.02,1514.71 878.13,1515.02 879.24,1514.76 880.35,1514.03 881.46,1513.55 882.58,1514.11 883.69,1514.47 884.8,1513.96 885.91,1515.13 887.02,1514.96 888.13,1514.38 889.24,1514.69 890.35,1515.46 891.47,1514.69 892.58,1514.2 893.69,1513.83 894.8,1514.69 895.91,1515.19 897.02,1514.83 898.13,1514.8 899.24,1515.68 900.36,1515.19 901.47,1514.24 902.58,1514.08 903.69,1514.95 904.8,1515.29 905.91,1515.08 907.02,1514.43 908.13,1514.67 909.25,1515.13 910.36,1514.89 911.47,1514.58 912.58,1514.82 913.69,1515 914.8,1514.5 915.91,1514.28 917.02,1513.58 918.14,1514.33 919.25,1514.78 920.36,1515.42 921.47,1514.22 922.58,1514.08 923.69,1515.01 924.8,1514.47 925.91,1514.64 927.03,1514.96 928.14,1515.02 929.25,1514.7 930.36,1512.84 931.47,1513.54 932.58,1514.72 933.69,1514.28 934.8,1513.67 935.92,1514.45 937.03,1515.05 938.14,1515.64 939.25,1514.78 940.36,1515 941.47,1515.09 942.58,1514.39 943.69,1514.74 944.81,1515.31 945.92,1514.69 947.03,1515.32 948.14,1515.23 949.25,1514 950.36,1513.6 951.47,1514.83 952.58,1514.75 953.7,1514.51 954.81,1514.75 955.92,1514.64 957.03,1515.15 958.14,1514.76 959.25,1513.89 960.36,1513.02 961.47,1513.78 962.59,1514.48 963.7,1515.24 964.81,1514.73 965.92,1514.97 967.03,1514.88 968.14,1515.5 969.25,1514.76 970.36,1514.1 971.48,1514.89 972.59,1515.56 973.7,1515.55 974.81,1514.25 975.92,1514.78 977.03,1515.06 978.14,1513.79 979.25,1513.78 980.37,1514.28 981.48,1514.11 982.59,1515.09 983.7,1515.43 984.81,1515.48 985.92,1514.6 987.03,1513.45 988.14,1514.31 989.26,1514.84 990.37,1515.14 991.48,1515.33 992.59,1514.98 993.7,1515.14 994.81,1514.98 995.92,1514.79 997.03,1515.79 998.15,1516.05 999.26,1514.54 1000.37,1513.4 1001.48,1514.79 1002.59,1514.88 1003.7,1514.39 1004.81,1514.3 1005.92,1514.61 1007.04,1514.49 1008.15,1513.8 1009.26,1513.19 1010.37,1512.63 1011.48,1513.12 1012.59,1514.82 1013.7,1514.46 1014.81,1514.15 1015.93,1515.07 1017.04,1515.55 1018.15,1514.57 1019.26,1514.52 1020.37,1514.31 1021.48,1512.98 1022.59,1513.86 1023.7,1514.28 1024.82,1513.23 1025.93,1513.21 1027.04,1513.37 1028.15,1512.97 1029.26,1511.91 1030.37,1511.5 1031.48,1511.6 1032.59,1511.59 1033.71,1510.84 1034.82,1509.73 1035.93,1510.07 1037.04,1511.05 1038.15,1510.5 1039.26,1510.72 1040.37,1511.78 1041.48,1512.41 1042.6,1513.01 1043.71,1512.96 1044.82,1513.57 1045.93,1514.29 1047.04,1513.39 1048.15,1513.47 1049.26,1514.04 1050.37,1513.67 1051.49,1513.65 1052.6,1512.96 1053.71,1513.88 1054.82,1514.98 1055.93,1515.22 1057.04,1515.45 1058.15,1514.47 1059.26,1513.99 1060.38,1515.05 1061.49,1515.37 1062.6,1514.17 1063.71,1512.56 1064.82,1513.01 1065.93,1513.18 1067.04,1513.3 1068.15,1513.96 1069.27,1512.7 1070.38,1512.42 1071.49,1511.85 1072.6,1512.9 1073.71,1512.48 1074.82,1511.4 1075.93,1510.35 1077.04,1508.91 1078.16,1508.97 1079.27,1509.37 1080.38,1510.65 1081.49,1510.43 1082.6,1511.03 1083.71,1511.95 1084.82,1511.96 1085.93,1510.91 1087.05,1511.51 1088.16,1513.38 1089.27,1514.01 1090.38,1513.9 1091.49,1513.12 1092.6,1513.56 1093.71,1514.32 1094.82,1514.07 1095.94,1514.38 1097.05,1514.15 1098.16,1513.08 1099.27,1513.38 1100.38,1513.87 1101.49,1514.9 1102.6,1515.32 1103.71,1514.73 1104.83,1514.18 1105.94,1514.59 1107.05,1515.48 1108.16,1514.47 1109.27,1513.73 1110.38,1514.77 1111.49,1515 1112.6,1514.2 1113.72,1514.66 1114.83,1514.82 1115.94,1513.71 1117.05,1513.73 1118.16,1513.92 1119.27,1514.61 1120.38,1514.56 1121.49,1514.04 1122.61,1513.76 1123.72,1513.83 1124.83,1512.95 1125.94,1512.27 1127.05,1513.31 1128.16,1514.07 1129.27,1513.73 1130.38,1512.68 1131.5,1512.7 1132.61,1514 1133.72,1514.44 1134.83,1513.96 1135.94,1513.59 1137.05,1514.19 1138.16,1514.43 1139.27,1514.31 1140.39,1514.15 1141.5,1514.4 1142.61,1514.72 1143.72,1514.29 1144.83,1515.2 1145.94,1514.81 1147.05,1514.4 1148.16,1513.74 1149.28,1513.41 1150.39,1514.63 1151.5,1515.2 1152.61,1514.84 1153.72,1514.16 1154.83,1514.37 1155.94,1513.99 1157.05,1514.59 1158.17,1513.31 1159.28,1513.15 1160.39,1513.7 1161.5,1514.63 1162.61,1514.52 1163.72,1514.69 1164.83,1515.24 1165.94,1514.68 1167.06,1513.06 1168.17,1512.62 1169.28,1512.87 1170.39,1513.19 1171.5,1513.18 1172.61,1511.84 1173.72,1511.86 1174.83,1511.04 1175.95,1510.02 1177.06,1509.73 1178.17,1508.76 1179.28,1508.45 1180.39,1507.64 1181.5,1504.9 1182.61,1502.85 1183.72,1502.92 1184.84,1502.07 1185.95,1501.09 1187.06,1500.37 1188.17,1500.6 1189.28,1500.99 1190.39,1501.42 1191.5,1501.53 1192.61,1502.8 1193.73,1503.3 1194.84,1504.51 1195.95,1506.05 1197.06,1507.03 1198.17,1507.98 1199.28,1508.33 1200.39,1510.56 1201.5,1511.68 1202.62,1511.79 1203.73,1512.68 1204.84,1513.64 1205.95,1514.32 1207.06,1513.72 1208.17,1513.63 1209.28,1513.43 1210.39,1514.05 1211.51,1514.36 1212.62,1514.67 1213.73,1515.02 1214.84,1515.03 1215.95,1514.93 1217.06,1514.65 1218.17,1513.81 1219.28,1514.21 1220.4,1515.54 1221.51,1514.92 1222.62,1514.05 1223.73,1514.69 1224.84,1515.75 1225.95,1514.68 1227.06,1512.98" fill="none" stroke="#00FFFF" stroke-width="4.6" stroke-linejoin="round" />
<polyline points="183.6,1542.12 184.71,1542.24 185.82,1542.34 186.93,1542.21 188.04,1542.07 189.16,1541.93 190.27,1541.81 191.38,1542.25 192.49,1542.66 193.6,1541.8 194.71,1542.51 195.82,1542.9 196.93,1542.62 198.05,1542.28 199.16,1542.25 200.27,1541.8 201.38,1542.53 202.49,1543.18 203.6,1542.41 204.71,1541.45 205.82,1541.53 206.94,1542.13 208.05,1541.89 209.16,1541.35 210.27,1541.5 211.38,1541.16 212.49,1541.56 213.6,1541.69 214.71,1541.03 215.83,1539.82 216.94,1539.13 218.05,1538.92 219.16,1536.85 220.27,1535.83 221.38,1535.82 222.49,1535.19 223.6,1533.15 224.72,1532.17 225.83,1532.53 226.94,1532.97 228.05,1532.34 229.16,1532.34 230.27,1534.31 231.38,1536.22 232.49,1537.17 233.61,1537.93 234.72,1539.44 235.83,1540.71 236.94,1540.5 238.05,1540.7 239.16,1540.71 240.27,1541.82 241.38,1541.51 242.5,1540.92 243.61,1541.2 244.72,1541.26 245.83,1542.26 246.94,1543.4 248.05,1542.87 249.16,1542.08 250.27,1542.39 251.39,1542.03 252.5,1542.54 253.61,1542.61 254.72,1542.44 255.83,1542.11 256.94,1542.02 258.05,1541.58 259.16,1541.88 260.28,1542.72 261.39,1541.82 262.5,1541.42 263.61,1541.89 264.72,1542.12 265.83,1542.26 266.94,1542.35 268.05,1542.51 269.17,1542.47 270.28,1541.69 271.39,1542.08 272.5,1543.01 273.61,1542.87 274.72,1541.76 275.83,1542.04 276.94,1542.7 278.06,1542.16 279.17,1542.2 280.28,1543.01 281.39,1543.49 282.5,1542.96 283.61,1542.71 284.72,1542.53 285.83,1542.24 286.95,1542.93 288.06,1543.26 289.17,1543 290.28,1542.42 291.39,1542.94 292.5,1543.32 293.61,1542.23 294.72,1542.57 295.84,1542.86 296.95,1542.65 298.06,1541.71 299.17,1541.3 300.28,1542.49 301.39,1542.44 302.5,1542.61 303.61,1542.16 304.73,1541.5 305.84,1542.88 306.95,1543.41 308.06,1542.7 309.17,1542.55 310.28,1542.26 311.39,1542.45 312.5,1543.09 313.62,1542.66 314.73,1542.59 315.84,1541.93 316.95,1542.79 318.06,1543.43 319.17,1542.77 320.28,1542.36 321.39,1543 322.51,1542.69 323.62,1542.52 324.73,1542.48 325.84,1542.03 326.95,1542.69 328.06,1542.63 329.17,1542.59 330.28,1542.5 331.4,1542.36 332.51,1542.4 333.62,1542.19 334.73,1542.64 335.84,1542.68 336.95,1542.85 338.06,1543.07 339.17,1543.24 340.29,1542.65 341.4,1542.66 342.51,1542.63 343.62,1542.46 344.73,1542.21 345.84,1542.12 346.95,1542.65 348.06,1542.55 349.18,1542.12 350.29,1542.67 351.4,1542.91 352.51,1542.11 353.62,1542.23 354.73,1543.03 355.84,1543.3 356.95,1542.61 358.07,1541.91 359.18,1542.06 360.29,1542.99 361.4,1543.21 362.51,1541.77 363.62,1542.25 364.73,1541.84 365.84,1542.72 366.96,1543.42 368.07,1542.6 369.18,1542.46 370.29,1542.84 371.4,1542.51 372.51,1542.59 373.62,1542.61 374.73,1542.39 375.85,1543.1 376.96,1542.1 378.07,1541.98 379.18,1541.96 380.29,1542.07 381.4,1542.18 382.51,1543.4 383.62,1543.03 384.74,1542.33 385.85,1542.24 386.96,1542.74 388.07,1542.57 389.18,1542.12 390.29,1543.14 391.4,1543.39 392.51,1542.87 393.63,1543.63 394.74,1542.95 395.85,1542.02 396.96,1541.98 398.07,1542.82 399.18,1542.62 400.29,1542.87 401.4,1542.61 402.52,1541.6 403.63,1541.69 404.74,1542.44 405.85,1543.12 406.96,1543.42 408.07,1543.06 409.18,1542.93 410.29,1541.62 411.41,1541.91 412.52,1542.63 413.63,1542.42 414.74,1542.18 415.85,1542.73 416.96,1543.27 418.07,1543.69 419.18,1543.01 420.3,1542.15 421.41,1543.11 422.52,1542.94 423.63,1542.24 424.74,1541.82 425.85,1542.33 426.96,1542.92 428.07,1543.07 429.19,1542.87 430.3,1542.84 431.41,1542.93 432.52,1542.92 433.63,1543.18 434.74,1543.23 435.85,1542.86 436.96,1542.37 438.08,1542.73 439.19,1542.53 440.3,1542.32 441.41,1542.2 442.52,1543.24 443.63,1542.74 444.74,1542.55 445.85,1543.02 446.97,1543.11 448.08,1542.78 449.19,1542.57 450.3,1542.49 451.41,1541.35 452.52,1541.47 453.63,1542.91 454.74,1542.59 455.86,1542.38 456.97,1543.69 458.08,1542.88 459.19,1542.07 460.3,1542.3 461.41,1541.64 462.52,1541.63 463.63,1541.71 464.75,1542.38 465.86,1542.6 466.97,1541.58 468.08,1542.29 469.19,1543.18 470.3,1542.67 471.41,1542.85 472.52,1543.06 473.64,1542.33 474.75,1542.41 475.86,1542.71 476.97,1542.25 478.08,1541.89 479.19,1542.43 480.3,1543.63 481.41,1543.18 482.53,1542.63 483.64,1542.17 484.75,1542.15 485.86,1542.39 486.97,1542.34 488.08,1542.17 489.19,1542.35 490.3,1542.3 491.42,1542.91 492.53,1543.76 493.64,1542.8 494.75,1542.18 495.86,1542.63 496.97,1542.92 498.08,1542.39 499.19,1542.1 500.31,1542.64 501.42,1542.02 502.53,1543.02 503.64,1543.3 504.75,1542.5 505.86,1542.4 506.97,1542.05 508.08,1543 509.2,1543.02 510.31,1542.34 511.42,1543.16 512.53,1543.47 513.64,1542.75 514.75,1542.67 515.86,1542.53 516.97,1542.3 518.09,1542.35 519.2,1542.61 520.31,1543.09 521.42,1543.68 522.53,1542.18 523.64,1542.91 524.75,1543.62 525.86,1542.84 526.98,1542.37 528.09,1541.64 529.2,1542.52 530.31,1542.41 531.42,1542.51 532.53,1542.55 533.64,1541.74 534.75,1542.26 535.87,1542.86 536.98,1542.28 538.09,1542.63 539.2,1543.53 540.31,1543.25 541.42,1542.85 542.53,1542.34 543.64,1541.89 544.76,1542.07 545.87,1542.44 546.98,1542.55 548.09,1542.45 549.2,1543.52 550.31,1543.46 551.42,1542.27 552.53,1541.75 553.65,1541.46 554.76,1541.61 555.87,1542.48 556.98,1542.56 558.09,1542.15 559.2,1542.57 560.31,1542.91 561.42,1542.82 562.54,1542.61 563.65,1542.49 564.76,1541.94 565.87,1541.36 566.98,1541.65 568.09,1541.94 569.2,1541.93 570.31,1542.19 571.43,1542.25 572.54,1541.81 573.65,1542.08 574.76,1542.6 575.87,1542.37 576.98,1542.69 578.09,1542.84 579.2,1542.73 580.32,1542.42 581.43,1542.54 582.54,1542.87 583.65,1541.84 584.76,1542.37 585.87,1542.54 586.98,1542.58 588.09,1541.66 589.21,1541.61 590.32,1541.6 591.43,1541.89 592.54,1542.46 593.65,1542.64 594.76,1542.54 595.87,1541.89 596.98,1542.6 598.1,1542.2 599.21,1541.87 600.32,1541.96 601.43,1541.9 602.54,1541.61 603.65,1542.42 604.76,1542.97 605.87,1542.58 606.99,1542.29 608.1,1541.87 609.21,1541.99 610.32,1541.88 611.43,1542.06 612.54,1542.46 613.65,1542.26 614.76,1542.33 615.88,1542.58 616.99,1542.7 618.1,1543.23 619.21,1542.11 620.32,1541.22 621.43,1541.25 622.54,1541.66 623.65,1541.32 624.77,1541.34 625.88,1542.17 626.99,1542.46 628.1,1542.76 629.21,1542.62 630.32,1542.4 631.43,1541.71 632.54,1541.26 633.66,1541.71 634.77,1541.92 635.88,1540.59 636.99,1539.86 638.1,1539.97 639.21,1539.9 640.32,1540.58 641.43,1541.09 642.55,1540.27 643.66,1539.48 644.77,1539.74 645.88,1539.1 646.99,1538.22 648.1,1537.64 649.21,1537.02 650.32,1536.83 651.44,1536.22 652.55,1535.14 653.66,1534.12 654.77,1533.64 655.88,1532.42 656.99,1532.23 658.1,1532.2 659.21,1531.79 660.33,1530.94 661.44,1531.04 662.55,1531.33 663.66,1531.27 664.77,1531.59 665.88,1531.53 666.99,1531.36 668.1,1532.5 669.22,1532.48 670.33,1533.52 671.44,1535.55 672.55,1535.89 673.66,1536.25 674.77,1537.32 675.88,1537.88 676.99,1538.8 678.11,1538.34 679.22,1538.17 680.33,1539.11 681.44,1538.86 682.55,1539.32 683.66,1540.12 684.77,1540.95 685.88,1541.45 687,1541.48 688.11,1541.56 689.22,1541.45 690.33,1541.51 691.44,1541.89 692.55,1542.24 693.66,1541.67 694.77,1541.76 695.89,1541.93 697,1541.99 698.11,1542.51 699.22,1542.21 700.33,1541.57 701.44,1541.43 702.55,1541.6 703.66,1542.22 704.78,1542.25 705.89,1541.88 707,1542.35 708.11,1542.5 709.22,1542.57 710.33,1543.36 711.44,1543.67 712.55,1542.95 713.67,1542.53 714.78,1542.86 715.89,1543.16 717,1542.53 718.11,1541.72 719.22,1542.36 720.33,1542.69 721.44,1542.68 722.56,1542.77 723.67,1542.24 724.78,1541.97 725.89,1542.7 727,1542.63 728.11,1542.03 729.22,1542.07 730.33,1542.5 731.45,1542.31 732.56,1543.01 733.67,1543.25 734.78,1542.03 735.89,1542.11 737,1543.16 738.11,1544.26 739.22,1543.16 740.34,1542.32 741.45,1541.88 742.56,1542.3 743.67,1542.8 744.78,1542.7 745.89,1542.07 747,1542.47 748.11,1543.43 749.23,1543.52 750.34,1542.97 751.45,1542.52 752.56,1542.79 753.67,1542.62 754.78,1541.32 755.89,1540.99 757,1542.5 758.12,1543.34 759.23,1542.71 760.34,1542 761.45,1542.01 762.56,1541.72 763.67,1541.85 764.78,1542.95 765.89,1542.49 767.01,1541.71 768.12,1541.39 769.23,1541.84 770.34,1541.73 771.45,1542.02 772.56,1541.99 773.67,1542.47 774.78,1542.48 775.9,1542.03 777.01,1541.1 778.12,1541.06 779.23,1541.45 780.34,1541.42 781.45,1541.3 782.56,1541.07 783.67,1540.33 784.79,1539.31 785.9,1539.38 787.01,1540.52 788.12,1540.92 789.23,1540.92 790.34,1540.62 791.45,1540.31 792.56,1540.19 793.68,1539.43 794.79,1539.79 795.9,1540.04 797.01,1539.92 798.12,1539.89 799.23,1540.29 800.34,1541.1 801.45,1541.46 802.57,1540.82 803.68,1540.98 804.79,1541.32 805.9,1540.54 807.01,1541.36 808.12,1541.64 809.23,1541.81 810.34,1541.68 811.46,1542.04 812.57,1542.76 813.68,1542.55 814.79,1542.45 815.9,1542.09 817.01,1541.94 818.12,1541.74 819.23,1542.47 820.35,1543.16 821.46,1542.53 822.57,1542.3 823.68,1542.17 824.79,1541.72 825.9,1541.89 827.01,1541.84 828.12,1541.35 829.24,1542.09 830.35,1542.18 831.46,1542.23 832.57,1541.41 833.68,1541.84 834.79,1542.28 835.9,1542.1 837.01,1542.75 838.13,1542.76 839.24,1542.66 840.35,1542.68 841.46,1542.79 842.57,1542.38 843.68,1542.36 844.79,1542.49 845.9,1542.82 847.02,1542.55 848.13,1542.75 849.24,1543.03 850.35,1542.51 851.46,1542.75 852.57,1542.64 853.68,1542.23 854.79,1542.1 855.91,1541.94 857.02,1542.45 858.13,1542.62 859.24,1542.44 860.35,1542.9 861.46,1543.23 862.57,1542.92 863.68,1541.85 864.8,1542.29 865.91,1541.94 867.02,1541.71 868.13,1542.32 869.24,1543.24 870.35,1542.02 871.46,1541.3 872.57,1541.91 873.69,1542.73 874.8,1542.15 875.91,1541.85 877.02,1542.93 878.13,1543.36 879.24,1542.64 880.35,1542.9 881.46,1542.97 882.58,1542.29 883.69,1542.1 884.8,1542.19 885.91,1542.02 887.02,1542.54 888.13,1543.21 889.24,1542.33 890.35,1542.53 891.47,1542.41 892.58,1542.34 893.69,1542.77 894.8,1543.17 895.91,1542.93 897.02,1542.76 898.13,1543.42 899.24,1543.8 900.36,1543.56 901.47,1543.27 902.58,1543.09 903.69,1543.5 904.8,1543.44 905.91,1542.59 907.02,1542.52 908.13,1542.87 909.25,1542.2 910.36,1542.04 911.47,1543.23 912.58,1542.67 913.69,1542.57 914.8,1542.95 915.91,1543.17 917.02,1542.62 918.14,1542.13 919.25,1542.48 920.36,1542.43 921.47,1543.15 922.58,1543.19 923.69,1543.09 924.8,1542.5 925.91,1542.65 927.03,1543.89 928.14,1543.35 929.25,1542.19 930.36,1542.84 931.47,1542.8 932.58,1542.01 933.69,1541.85 934.8,1541.87 935.92,1542.57 937.03,1542.47 938.14,1542.08 939.25,1542.28 940.36,1542.76 941.47,1543.18 942.58,1543.45 943.69,1542.89 944.81,1543.02 945.92,1542.64 947.03,1543.18 948.14,1543.42 949.25,1542.97 950.36,1542.09 951.47,1542.65 952.58,1542.76 953.7,1542.3 954.81,1542.17 955.92,1542.2 957.03,1542.72 958.14,1543 959.25,1542.83 960.36,1543.49 961.47,1542.69 962.59,1542.46 963.7,1542.21 964.81,1542.55 965.92,1543.09 967.03,1542.9 968.14,1542.94 969.25,1543.07 970.36,1543.05 971.48,1542.24 972.59,1542.67 973.7,1543.67 974.81,1543.65 975.92,1542.89 977.03,1543.44 978.14,1543.34 979.25,1543.25 980.37,1543.3 981.48,1543.48 982.59,1542.42 983.7,1541.91 984.81,1542.68 985.92,1542.73 987.03,1542.46 988.14,1543.21 989.26,1542.87 990.37,1542.65 991.48,1542.93 992.59,1542.69 993.7,1541.64 994.81,1541.25 995.92,1542.05 997.03,1543.53 998.15,1542.99 999.26,1542.46 1000.37,1543.54 1001.48,1543.27 1002.59,1542.89 1003.7,1542.94 1004.81,1542.4 1005.92,1542.06 1007.04,1542.2 1008.15,1542.51 1009.26,1542.34 1010.37,1542.23 1011.48,1542.61 1012.59,1543.21 1013.7,1543.95 1014.81,1542.98 1015.93,1542.53 1017.04,1542.26 1018.15,1542.04 1019.26,1541.66 1020.37,1542.78 1021.48,1542.8 1022.59,1542.74 1023.7,1542.22 1024.82,1541.03 1025.93,1542.27 1027.04,1541.88 1028.15,1541.04 1029.26,1541.96 1030.37,1541.92 1031.48,1541.29 1032.59,1541.64 1033.71,1541.19 1034.82,1541.04 1035.93,1540.41 1037.04,1540.95 1038.15,1540.94 1039.26,1540.84 1040.37,1540.86 1041.48,1540.77 1042.6,1541.18 1043.71,1542.03 1044.82,1542.05 1045.93,1542.06 1047.04,1542.03 1048.15,1542.7 1049.26,1542.1 1050.37,1541.29 1051.49,1542.57 1052.6,1541.97 1053.71,1542.62 1054.82,1542.99 1055.93,1542.7 1057.04,1542.78 1058.15,1542.33 1059.26,1542.54 1060.38,1543.5 1061.49,1543.56 1062.6,1542.5 1063.71,1542.74 1064.82,1542.22 1065.93,1541.88 1067.04,1542.21 1068.15,1542.65 1069.27,1541.7 1070.38,1541.8 1071.49,1541.66 1072.6,1540.49 1073.71,1540.99 1074.82,1540.87 1075.93,1539.57 1077.04,1540.1 1078.16,1539.73 1079.27,1539.56 1080.38,1539.7 1081.49,1539.79 1082.6,1540.91 1083.71,1541.51 1084.82,1540.75 1085.93,1540.94 1087.05,1541.65 1088.16,1542.47 1089.27,1542.62 1090.38,1541.8 1091.49,1541.4 1092.6,1542.28 1093.71,1542.93 1094.82,1542.43 1095.94,1542.06 1097.05,1542.56 1098.16,1542.8 1099.27,1541.52 1100.38,1541.71 1101.49,1542.83 1102.6,1542.17 1103.71,1542.52 1104.83,1542.28 1105.94,1542.31 1107.05,1542.26 1108.16,1541.62 1109.27,1542.15 1110.38,1542.51 1111.49,1543.07 1112.6,1543.19 1113.72,1541.93 1114.83,1542 1115.94,1542.75 1117.05,1542.81 1118.16,1543.12 1119.27,1543.37 1120.38,1542.21 1121.49,1541.87 1122.61,1542.99 1123.72,1543.06 1124.83,1541.94 1125.94,1541.07 1127.05,1540.87 1128.16,1541.85 1129.27,1542.22 1130.38,1542.05 1131.5,1541.93 1132.61,1541.76 1133.72,1542.36 1134.83,1542.55 1135.94,1542.6 1137.05,1541.9 1138.16,1542.78 1139.27,1543.5 1140.39,1543.3 1141.5,1541.96 1142.61,1542.33 1143.72,1542.18 1144.83,1542.31 1145.94,1543.14 1147.05,1543.3 1148.16,1543.13 1149.28,1543.5 1150.39,1543.09 1151.5,1542.2 1152.61,1542.04 1153.72,1542.33 1154.83,1542.81 1155.94,1542.23 1157.05,1542.47 1158.17,1542.62 1159.28,1542.18 1160.39,1541.83 1161.5,1541.86 1162.61,1542.28 1163.72,1542.25 1164.83,1542.45 1165.94,1541.67 1167.06,1540.99 1168.17,1541.11 1169.28,1542.01 1170.39,1541.93 1171.5,1541.46 1172.61,1541.48 1173.72,1541.33 1174.83,1540.43 1175.95,1539.21 1177.06,1538.79 1178.17,1537.86 1179.28,1537.31 1180.39,1536.48 1181.5,1535.71 1182.61,1534.91 1183.72,1533.61 1184.84,1532.92 1185.95,1533.34 1187.06,1531.47 1188.17,1531.77 1189.28,1531.73 1190.39,1531.13 1191.5,1531.97 1192.61,1533.75 1193.73,1535.05 1194.84,1535.61 1195.95,1536.41 1197.06,1537.29 1198.17,1538.65 1199.28,1540.04 1200.39,1540.22 1201.5,1540.13 1202.62,1540.56 1203.73,1540.16 1204.84,1540.83 1205.95,1541.85 1207.06,1541.81 1208.17,1541.67 1209.28,1542.41 1210.39,1542.61 1211.51,1542.47 1212.62,1542.59 1213.73,1542.52 1214.84,1542.95 1215.95,1542.18 1217.06,1542.02 1218.17,1541.48 1219.28,1541.65 1220.4,1543.21 1221.51,1542.53 1222.62,1541.7 1223.73,1542.2 1224.84,1542.9 1225.95,1543.1 1227.06,1542.54" fill="none" stroke="#0000FF" stroke-width="4.6" stroke-linejoin="round" />
<polyline points="183.6,1571.12 184.71,1570.89 185.82,1570.9 186.93,1571.35 188.04,1570.52 189.16,1569.71 190.27,1570.32 191.38,1570.67 192.49,1570.53 193.6,1570.56 194.71,1570.48 195.82,1570.98 196.93,1569.72 198.05,1570.15 199.16,1570.8 200.27,1570.4 201.38,1569.99 202.49,1570.56 203.6,1570.2 204.71,1570.05 205.82,1570.69 206.94,1569.88 208.05,1569.86 209.16,1570.24 210.27,1570.18 211.38,1569.74 212.49,1569.72 213.6,1569.9 214.71,1569.23 215.83,1569.41 216.94,1568.4 218.05,1567.31 219.16,1567.55 220.27,1566.91 221.38,1565.73 222.49,1565.17 223.6,1565.52 224.72,1565.4 225.83,1564.47 226.94,1563.79 228.05,1565.05 229.16,1565.84 230.27,1565.84 231.38,1566.09 232.49,1566.14 233.61,1566.69 234.72,1567.96 235.83,1568.51 236.94,1569.47 238.05,1570.03 239.16,1569.57 240.27,1569.29 241.38,1570.16 242.5,1570.21 243.61,1570.99 244.72,1570.87 245.83,1569.78 246.94,1569.23 248.05,1569.57 249.16,1570.7 250.27,1570.64 251.39,1569.44 252.5,1569.59 253.61,1570.18 254.72,1570.87 255.83,1570.94 256.94,1570.52 258.05,1570.55 259.16,1571.36 260.28,1571.41 261.39,1570.49 262.5,1570.58 263.61,1571.09 264.72,1571.64 265.83,1571.19 266.94,1570.49 268.05,1570.59 269.17,1570.46 270.28,1570.49 271.39,1570.3 272.5,1570.37 273.61,1570.04 274.72,1570.52 275.83,1571.06 276.94,1570.17 278.06,1570.45 279.17,1570.55 280.28,1570.95 281.39,1571.28 282.5,1571.22 283.61,1571.06 284.72,1570.35 285.83,1569.59 286.95,1570.14 288.06,1570.17 289.17,1570.36 290.28,1570.11 291.39,1570.52 292.5,1570.97 293.61,1570.26 294.72,1569.95 295.84,1570.53 296.95,1571.03 298.06,1570.9 299.17,1570.41 300.28,1570.5 301.39,1570.57 302.5,1570.36 303.61,1569.98 304.73,1570.29 305.84,1570.33 306.95,1570.37 308.06,1569.86 309.17,1570.44 310.28,1570.62 311.39,1570.51 312.5,1571.18 313.62,1571.54 314.73,1571.23 315.84,1570.41 316.95,1570.35 318.06,1570.71 319.17,1570.79 320.28,1570.74 321.39,1570.96 322.51,1571.06 323.62,1571.23 324.73,1571.22 325.84,1570.58 326.95,1570.35 328.06,1570.55 329.17,1570.78 330.28,1570.56 331.4,1570.51 332.51,1570.51 333.62,1570.36 334.73,1570.66 335.84,1571.06 336.95,1571.49 338.06,1571.43 339.17,1570.74 340.29,1571 341.4,1570.43 342.51,1570.45 343.62,1570.54 344.73,1570.31 345.84,1571.22 346.95,1570.97 348.06,1570.63 349.18,1570.92 350.29,1570.78 351.4,1570.15 352.51,1570.44 353.62,1570.6 354.73,1570.53 355.84,1570.61 356.95,1570.81 358.07,1570.91 359.18,1570.2 360.29,1570.36 361.4,1571.34 362.51,1570.39 363.62,1569.86 364.73,1570.18 365.84,1569.77 366.96,1569.52 368.07,1569.87 369.18,1570.84 370.29,1570.8 371.4,1570.23 372.51,1570.37 373.62,1570.79 374.73,1570.95 375.85,1570.79 376.96,1571.62 378.07,1571.39 379.18,1570.88 380.29,1570.57 381.4,1570.22 382.51,1570.03 383.62,1569.91 384.74,1570.55 385.85,1570.85 386.96,1570.47 388.07,1570.38 389.18,1570.96 390.29,1570.84 391.4,1570.62 392.51,1570.77 393.63,1570.91 394.74,1570.51 395.85,1569.59 396.96,1569.37 398.07,1570.32 399.18,1570.54 400.29,1570.4 401.4,1569.97 402.52,1569.97 403.63,1570.52 404.74,1570.71 405.85,1570.29 406.96,1569.99 408.07,1571.08 409.18,1571.04 410.29,1570.57 411.41,1570.16 412.52,1570.07 413.63,1570.38 414.74,1570.19 415.85,1570.43 416.96,1570.28 418.07,1570.13 419.18,1570.21 420.3,1569.88 421.41,1569.71 422.52,1570.34 423.63,1570.33 424.74,1570.36 425.85,1570.58 426.96,1570.76 428.07,1571.05 429.19,1570.64 430.3,1570.1 431.41,1570.47 432.52,1571.03 433.63,1570.76 434.74,1570.57 435.85,1570.59 436.96,1570.57 438.08,1570.87 439.19,1570.68 440.3,1570.8 441.41,1570.97 442.52,1571.55 443.63,1570.94 444.74,1570.92 445.85,1571.24 446.97,1570.43 448.08,1570.59 449.19,1571.04 450.3,1570.61 451.41,1569.65 452.52,1570.36 453.63,1570.39 454.74,1570.31 455.86,1570 456.97,1570.47 458.08,1570.16 459.19,1570.03 460.3,1570.34 461.41,1570.55 462.52,1570.15 463.63,1570.49 464.75,1570.97 465.86,1570.67 466.97,1570.5 468.08,1569.63 469.19,1570.6 470.3,1570.99 471.41,1570.86 472.52,1570.91 473.64,1570.75 474.75,1570.95 475.86,1570.62 476.97,1570.9 478.08,1571.5 479.19,1571.14 480.3,1570.68 481.41,1571 482.53,1571.07 483.64,1570.65 484.75,1570.48 485.86,1570.65 486.97,1570.99 488.08,1570.69 489.19,1570.85 490.3,1571.59 491.42,1571.37 492.53,1570.81 493.64,1570.88 494.75,1570.67 495.86,1570.18 496.97,1570.15 498.08,1570.01 499.19,1570.71 500.31,1570.75 501.42,1569.91 502.53,1570.43 503.64,1570.94 504.75,1570.89 505.86,1570.28 506.97,1569.97 508.08,1571.06 509.2,1570.9 510.31,1570.71 511.42,1570.84 512.53,1570.22 513.64,1569.83 514.75,1570.52 515.86,1570.7 516.97,1570.51 518.09,1571 519.2,1570.36 520.31,1570.28 521.42,1571.1 522.53,1571.27 523.64,1570.79 524.75,1570.79 525.86,1571.03 526.98,1570.52 528.09,1569.95 529.2,1570.65 530.31,1570.92 531.42,1571.36 532.53,1570.89 533.64,1570.89 534.75,1571.23 535.87,1571.06 536.98,1570.82 538.09,1570.35 539.2,1570.36 540.31,1570.44 541.42,1570.58 542.53,1570.31 543.64,1570.52 544.76,1571.39 545.87,1570.8 546.98,1570.66 548.09,1570.13 549.2,1570.41 550.31,1570.9 551.42,1570.42 552.53,1570.66 553.65,1570.85 554.76,1571.36 555.87,1571.15 556.98,1570.85 558.09,1570.72 559.2,1570.24 560.31,1571.34 561.42,1571.36 562.54,1570.83 563.65,1570.78 564.76,1570.16 565.87,1569.83 566.98,1569.74 568.09,1570.74 569.2,1571.16 570.31,1570.67 571.43,1570.07 572.54,1570.02 573.65,1570.42 574.76,1570.19 575.87,1570.68 576.98,1570.58 578.09,1570.36 579.2,1570.55 580.32,1569.84 581.43,1570.41 582.54,1570.85 583.65,1569.86 584.76,1569.97 585.87,1570.42 586.98,1570.18 588.09,1570.51 589.21,1571.15 590.32,1571.04 591.43,1570.2 592.54,1570.04 593.65,1569.74 594.76,1570.21 595.87,1570.3 596.98,1570.46 598.1,1570.95 599.21,1571.1 600.32,1570.88 601.43,1570.54 602.54,1569.93 603.65,1570.97 604.76,1571.89 605.87,1571.06 606.99,1570.69 608.1,1570.24 609.21,1570.12 610.32,1570.45 611.43,1570.31 612.54,1571 613.65,1571.03 614.76,1570.34 615.88,1570.18 616.99,1570.45 618.1,1569.93 619.21,1570.22 620.32,1570.51 621.43,1570.71 622.54,1570.71 623.65,1570.19 624.77,1569.91 625.88,1570.62 626.99,1570.72 628.1,1570.51 629.21,1570.5 630.32,1570.19 631.43,1569.6 632.54,1570.32 633.66,1570.21 634.77,1570.17 635.88,1569.91 636.99,1569.89 638.1,1569.32 639.21,1568.53 640.32,1568.62 641.43,1568.6 642.55,1568.75 643.66,1568.68 644.77,1567.67 645.88,1567.25 646.99,1566.92 648.1,1566.7 649.21,1566.79 650.32,1566.44 651.44,1566.64 652.55,1566.48 653.66,1565.53 654.77,1565.7 655.88,1565.79 656.99,1565.19 658.1,1564.59 659.21,1565.11 660.33,1565.12 661.44,1564.09 662.55,1564.07 663.66,1564.05 664.77,1564.53 665.88,1564.41 666.99,1564.29 668.1,1564.62 669.22,1565.29 670.33,1565.3 671.44,1565.62 672.55,1565.41 673.66,1566.29 674.77,1566.06 675.88,1566.55 676.99,1567.57 678.11,1567.61 679.22,1568.28 680.33,1568.93 681.44,1569.16 682.55,1569.39 683.66,1569.32 684.77,1569.06 685.88,1569.29 687,1569.9 688.11,1569.82 689.22,1568.82 690.33,1568.62 691.44,1570.15 692.55,1570.12 693.66,1569.64 694.77,1570.32 695.89,1570.73 697,1570.64 698.11,1570.46 699.22,1569.58 700.33,1570.63 701.44,1570.77 702.55,1570.7 703.66,1570.73 704.78,1570.28 705.89,1570.23 707,1570.35 708.11,1571.04 709.22,1570.43 710.33,1570.35 711.44,1571.27 712.55,1570.78 713.67,1570.44 714.78,1570.14 715.89,1570.87 717,1570.56 718.11,1570.54 719.22,1570.03 720.33,1569.81 721.44,1570.47 722.56,1570.25 723.67,1570.25 724.78,1570.07 725.89,1570.33 727,1570.22 728.11,1569.96 729.22,1570.47 730.33,1570.01 731.45,1570.41 732.56,1570.5 733.67,1571.02 734.78,1570.84 735.89,1570.2 737,1570.48 738.11,1571.04 739.22,1570.01 740.34,1569.84 741.45,1570.95 742.56,1570.58 743.67,1569.97 744.78,1569.79 745.89,1570.15 747,1570.12 748.11,1570.51 749.23,1570.22 750.34,1570.12 751.45,1570.46 752.56,1570.38 753.67,1570.41 754.78,1570.23 755.89,1570.08 757,1570.85 758.12,1571.06 759.23,1570.86 760.34,1571.07 761.45,1570.98 762.56,1570.55 763.67,1570.68 764.78,1570.57 765.89,1571.07 767.01,1570.96 768.12,1570.51 769.23,1570.98 770.34,1571.04 771.45,1570.27 772.56,1570.28 773.67,1569.87 774.78,1569.77 775.9,1570.11 777.01,1570.13 778.12,1569.95 779.23,1569.52 780.34,1569.75 781.45,1570.06 782.56,1569.58 783.67,1569.45 784.79,1569.72 785.9,1569.78 787.01,1569.67 788.12,1569.63 789.23,1569.67 790.34,1569.72 791.45,1569.63 792.56,1569.22 793.68,1569.3 794.79,1569.17 795.9,1568.99 797.01,1569.39 798.12,1569.57 799.23,1569.3 800.34,1569.64 801.45,1569.53 802.57,1569.73 803.68,1569.45 804.79,1570.05 805.9,1570.46 807.01,1570.32 808.12,1570.22 809.23,1569.69 810.34,1569.31 811.46,1569.91 812.57,1570.22 813.68,1570.41 814.79,1570.88 815.9,1570.87 817.01,1570.26 818.12,1570.53 819.23,1570.5 820.35,1570.59 821.46,1570.92 822.57,1570.59 823.68,1571.05 824.79,1570.89 825.9,1570.61 827.01,1571.16 828.12,1571.07 829.24,1570.46 830.35,1570.39 831.46,1570.73 832.57,1570.63 833.68,1570.45 834.79,1570.96 835.9,1570.91 837.01,1571.33 838.13,1571.12 839.24,1570.36 840.35,1570.43 841.46,1571.04 842.57,1570.79 843.68,1571.04 844.79,1571.05 845.9,1570.92 847.02,1570.62 848.13,1570.62 849.24,1570.79 850.35,1571.17 851.46,1570.88 852.57,1570.12 853.68,1570.02 854.79,1570.29 855.91,1570.86 857.02,1570.63 858.13,1570.23 859.24,1570.46 860.35,1570.73 861.46,1570.77 862.57,1570.33 863.68,1570.39 864.8,1571.08 865.91,1571.18 867.02,1571.05 868.13,1570.63 869.24,1570.53 870.35,1570.3 871.46,1570.72 872.57,1571.26 873.69,1570.94 874.8,1570.63 875.91,1570.43 877.02,1570.58 878.13,1571.4 879.24,1570.97 880.35,1570.73 881.46,1571.21 882.58,1571.01 883.69,1570.34 884.8,1570.64 885.91,1571.46 887.02,1571.25 888.13,1570.86 889.24,1570.81 890.35,1570.06 891.47,1570.44 892.58,1570.74 893.69,1570.39 894.8,1571.06 895.91,1570.79 897.02,1570.65 898.13,1570.42 899.24,1570.67 900.36,1570.42 901.47,1570.59 902.58,1570.94 903.69,1571.14 904.8,1570.55 905.91,1570.38 907.02,1570.44 908.13,1570.91 909.25,1570.4 910.36,1570.29 911.47,1570.93 912.58,1571.03 913.69,1570.34 914.8,1570.88 915.91,1571.14 917.02,1571.23 918.14,1570.94 919.25,1570.76 920.36,1570.93 921.47,1570.74 922.58,1571.55 923.69,1571.29 924.8,1570.91 925.91,1570.71 927.03,1570.5 928.14,1570.67 929.25,1570.57 930.36,1570.35 931.47,1570.64 932.58,1570.72 933.69,1571.53 934.8,1571.31 935.92,1570.58 937.03,1570.93 938.14,1571.64 939.25,1570.7 940.36,1570.92 941.47,1570.78 942.58,1570.43 943.69,1570.25 944.81,1570.36 945.92,1570.25 947.03,1570.31 948.14,1570.6 949.25,1570.73 950.36,1570.92 951.47,1571.02 952.58,1570.9 953.7,1571.32 954.81,1571.24 955.92,1571.34 957.03,1571.2 958.14,1570.67 959.25,1570.23 960.36,1569.54 961.47,1570.04 962.59,1570.35 963.7,1570.58 964.81,1571.33 965.92,1570.36 967.03,1570.57 968.14,1570.49 969.25,1569.84 970.36,1571.23 971.48,1571.68 972.59,1569.98 973.7,1570.64 974.81,1571.11 975.92,1571.35 977.03,1570.9 978.14,1570.72 979.25,1570.96 980.37,1570.15 981.48,1570.42 982.59,1571.19 983.7,1570.72 984.81,1570.83 985.92,1571.23 987.03,1571.04 988.14,1571.28 989.26,1571.37 990.37,1571.6 991.48,1571.35 992.59,1571.31 993.7,1571.07 994.81,1571.08 995.92,1571.15 997.03,1571.11 998.15,1571.24 999.26,1570.93 1000.37,1570.67 1001.48,1570.14 1002.59,1570.51 1003.7,1570.49 1004.81,1570.3 1005.92,1570.53 1007.04,1571 1008.15,1571.21 1009.26,1571.15 1010.37,1570.89 1011.48,1570.9 1012.59,1570.58 1013.7,1571.17 1014.81,1571.78 1015.93,1570.99 1017.04,1570.21 1018.15,1570.08 1019.26,1570.16 1020.37,1570.19 1021.48,1570.61 1022.59,1570.82 1023.7,1570.99 1024.82,1570.85 1025.93,1570.63 1027.04,1570.37 1028.15,1570.83 1029.26,1571.19 1030.37,1570.22 1031.48,1569.93 1032.59,1569.88 1033.71,1569.64 1034.82,1569.46 1035.93,1569.14 1037.04,1569.31 1038.15,1570 1039.26,1570.51 1040.37,1570.56 1041.48,1570.27 1042.6,1570.63 1043.71,1570.51 1044.82,1570.25 1045.93,1569.9 1047.04,1570.6 1048.15,1571.21 1049.26,1570.51 1050.37,1569.97 1051.49,1571.1 1052.6,1571.27 1053.71,1570.4 1054.82,1570.37 1055.93,1570.88 1057.04,1571.28 1058.15,1571.3 1059.26,1571.52 1060.38,1571.38 1061.49,1571.06 1062.6,1571.25 1063.71,1570.78 1064.82,1570.29 1065.93,1569.92 1067.04,1570.44 1068.15,1570.35 1069.27,1570.25 1070.38,1570.31 1071.49,1569.99 1072.6,1569.72 1073.71,1570.07 1074.82,1570.49 1075.93,1569.79 1077.04,1569.07 1078.16,1569.9 1079.27,1569.88 1080.38,1569.25 1081.49,1569.26 1082.6,1569.86 1083.71,1569.94 1084.82,1569.92 1085.93,1569.6 1087.05,1569.58 1088.16,1570.51 1089.27,1570.81 1090.38,1570.95 1091.49,1570.19 1092.6,1570 1093.71,1570.64 1094.82,1571.02 1095.94,1571.64 1097.05,1571.32 1098.16,1570.49 1099.27,1570.29 1100.38,1570.12 1101.49,1570.95 1102.6,1571.06 1103.71,1570.52 1104.83,1571.05 1105.94,1571.54 1107.05,1570.98 1108.16,1570.5 1109.27,1570.73 1110.38,1570.19 1111.49,1570.48 1112.6,1571.04 1113.72,1570.87 1114.83,1570.91 1115.94,1570.75 1117.05,1570.6 1118.16,1571.03 1119.27,1570.82 1120.38,1571.03 1121.49,1571.09 1122.61,1570.48 1123.72,1570.28 1124.83,1570.11 1125.94,1570.65 1127.05,1571.7 1128.16,1571.01 1129.27,1570.52 1130.38,1570.76 1131.5,1570.7 1132.61,1570.55 1133.72,1570.81 1134.83,1570.28 1135.94,1570.01 1137.05,1570.57 1138.16,1570.8 1139.27,1570.82 1140.39,1571 1141.5,1571.32 1142.61,1570.66 1143.72,1570.26 1144.83,1570.98 1145.94,1571.04 1147.05,1570.84 1148.16,1571.22 1149.28,1570.37 1150.39,1570.82 1151.5,1571.15 1152.61,1570.3 1153.72,1570.83 1154.83,1571.62 1155.94,1571.64 1157.05,1570.92 1158.17,1570.82 1159.28,1570.97 1160.39,1570.22 1161.5,1571.14 1162.61,1570.77 1163.72,1570.97 1164.83,1570.9 1165.94,1570.44 1167.06,1570.24 1168.17,1570.6 1169.28,1571.01 1170.39,1570.36 1171.5,1569.48 1172.61,1569.01 1173.72,1569.18 1174.83,1568.1 1175.95,1567.2 1177.06,1567.44 1178.17,1567.38 1179.28,1566.55 1180.39,1565.72 1181.5,1564.58 1182.61,1564.06 1183.72,1563.8 1184.84,1563.42 1185.95,1563.16 1187.06,1562.02 1188.17,1562.57 1189.28,1562.2 1190.39,1562.57 1191.5,1563.32 1192.61,1564.2 1193.73,1565.05 1194.84,1565.38 1195.95,1565.84 1197.06,1565.99 1198.17,1566.85 1199.28,1567.55 1200.39,1567.82 1201.5,1568.13 1202.62,1568.86 1203.73,1569.28 1204.84,1569.9 1205.95,1569.9 1207.06,1569.39 1208.17,1569.55 1209.28,1570.11 1210.39,1569.72 1211.51,1570.48 1212.62,1570.73 1213.73,1570.44 1214.84,1570.6 1215.95,1570.89 1217.06,1571.04 1218.17,1570.55 1219.28,1570.25 1220.4,1571.25 1221.51,1570.44 1222.62,1569.87 1223.73,1570.2 1224.84,1570.88 1225.95,1571.1 1227.06,1570.98" fill="none" stroke="#0000B0" stroke-width="4.6" stroke-linejoin="round" />
<polyline points="183.6,1598.24 184.71,1598.44 185.82,1598.27 186.93,1598.12 188.04,1598.14 189.16,1598.1 190.27,1598.01 191.38,1598.35 192.49,1598.64 193.6,1598.28 194.71,1598.15 195.82,1598.51 196.93,1598.6 198.05,1598.96 199.16,1598.67 200.27,1598.48 201.38,1598.7 202.49,1598.21 203.6,1597.79 204.71,1597.65 205.82,1598.14 206.94,1598.29 208.05,1598.26 209.16,1598.24 210.27,1598.15 211.38,1598.19 212.49,1597.79 213.6,1597.76 214.71,1597.74 215.83,1596.77 216.94,1596.39 218.05,1596.87 219.16,1597.54 220.27,1596.36 221.38,1595.16 222.49,1594.23 223.6,1594.11 224.72,1594.2 225.83,1593.9 226.94,1594.61 228.05,1594.81 229.16,1594.37 230.27,1594.46 231.38,1595.46 232.49,1595.83 233.61,1595.84 234.72,1595.9 235.83,1596.59 236.94,1597.46 238.05,1597.93 239.16,1597.99 240.27,1598.49 241.38,1597.99 242.5,1597.92 243.61,1598.37 244.72,1597.8 245.83,1597.88 246.94,1597.94 248.05,1598.2 249.16,1598.16 250.27,1598.44 251.39,1599.09 252.5,1598.72 253.61,1598.19 254.72,1597.92 255.83,1598.34 256.94,1598.26 258.05,1598.59 259.16,1599.25 260.28,1599.44 261.39,1599.49 262.5,1598.95 263.61,1598.7 264.72,1598.37 265.83,1597.92 266.94,1598.48 268.05,1598.23 269.17,1598.55 270.28,1598.48 271.39,1598.29 272.5,1599.08 273.61,1599.02 274.72,1598.78 275.83,1598.58 276.94,1598.78 278.06,1598.66 279.17,1598.2 280.28,1598.03 281.39,1597.83 282.5,1597.81 283.61,1598.51 284.72,1598.69 285.83,1598.24 286.95,1598.62 288.06,1598.81 289.17,1598.76 290.28,1598.35 291.39,1598.21 292.5,1598.59 293.61,1598.57 294.72,1598.85 295.84,1599.06 296.95,1599.25 298.06,1599.01 299.17,1598.44 300.28,1598.46 301.39,1599.36 302.5,1599.46 303.61,1598.77 304.73,1598.79 305.84,1598.68 306.95,1598.44 308.06,1598.89 309.17,1598.98 310.28,1598.99 311.39,1599.37 312.5,1598.81 313.62,1598.58 314.73,1598.97 315.84,1599.06 316.95,1598.64 318.06,1598.53 319.17,1599.24 320.28,1598.83 321.39,1598.62 322.51,1598.86 323.62,1598.23 324.73,1598.49 325.84,1598.29 326.95,1598.37 328.06,1599.05 329.17,1598.7 330.28,1597.99 331.4,1598.25 332.51,1598.59 333.62,1598.63 334.73,1598.7 335.84,1598.74 336.95,1598.18 338.06,1598.63 339.17,1598.12 340.29,1598 341.4,1598.79 342.51,1598.52 343.62,1597.95 344.73,1598.03 345.84,1598.27 346.95,1599.15 348.06,1598.55 349.18,1598.41 350.29,1598.63 351.4,1598.29 352.51,1597.97 353.62,1597.91 354.73,1598.45 355.84,1598.9 356.95,1599.18 358.07,1598.58 359.18,1597.69 360.29,1598.33 361.4,1598.9 362.51,1599.11 363.62,1598.24 364.73,1598.68 365.84,1598.98 366.96,1599.3 368.07,1598.98 369.18,1599.02 370.29,1598.72 371.4,1599.19 372.51,1598.91 373.62,1597.99 374.73,1598.35 375.85,1599.03 376.96,1599.27 378.07,1598.86 379.18,1598.72 380.29,1598.69 381.4,1599.05 382.51,1599.25 383.62,1598.67 384.74,1598.82 385.85,1598.81 386.96,1598.99 388.07,1598.74 389.18,1598.55 390.29,1598.44 391.4,1597.96 392.51,1597.86 393.63,1598.71 394.74,1599.06 395.85,1598.48 396.96,1598.6 398.07,1598.73 399.18,1598.87 400.29,1598.63 401.4,1598.51 402.52,1598.23 403.63,1598.73 404.74,1599.03 405.85,1598.76 406.96,1599.44 408.07,1599.53 409.18,1599.34 410.29,1599.03 411.41,1598.51 412.52,1598.65 413.63,1598.73 414.74,1598.51 415.85,1598.93 416.96,1598.77 418.07,1598.62 419.18,1598.71 420.3,1598.14 421.41,1598.46 422.52,1598.98 423.63,1598.8 424.74,1598.71 425.85,1598.56 426.96,1598.33 428.07,1598.27 429.19,1597.88 430.3,1598.39 431.41,1598.29 432.52,1598.17 433.63,1597.82 434.74,1597.93 435.85,1598.64 436.96,1598.76 438.08,1598.64 439.19,1598.69 440.3,1598.1 441.41,1598.53 442.52,1598.66 443.63,1598.53 444.74,1598.76 445.85,1597.83 446.97,1598.49 448.08,1598.81 449.19,1598.72 450.3,1598.62 451.41,1598.33 452.52,1598.91 453.63,1598.5 454.74,1598.44 455.86,1598.5 456.97,1598.66 458.08,1599.02 459.19,1599.04 460.3,1598.95 461.41,1598.53 462.52,1598.4 463.63,1598.66 464.75,1599.08 465.86,1599.03 466.97,1598.65 468.08,1598.64 469.19,1598.96 470.3,1598.96 471.41,1599.01 472.52,1598.67 473.64,1598.82 474.75,1598.69 475.86,1598.56 476.97,1598.82 478.08,1598.3 479.19,1598.23 480.3,1598.64 481.41,1598.72 482.53,1598.92 483.64,1598.02 484.75,1597.55 485.86,1598.57 486.97,1599.07 488.08,1599.41 489.19,1599 490.3,1598.98 491.42,1599.6 492.53,1598.34 493.64,1597.56 494.75,1598.08 495.86,1598.03 496.97,1598.79 498.08,1598.85 499.19,1598.32 500.31,1598.86 501.42,1599.09 502.53,1598.56 503.64,1598.7 504.75,1598.45 505.86,1598.17 506.97,1598.84 508.08,1598.58 509.2,1598.25 510.31,1598.34 511.42,1598.32 512.53,1597.64 513.64,1597.53 514.75,1598.31 515.86,1599.09 516.97,1599.13 518.09,1598.58 519.2,1598.45 520.31,1598.02 521.42,1598.15 522.53,1598.46 523.64,1598.35 524.75,1598.67 525.86,1598.86 526.98,1598.87 528.09,1599.45 529.2,1599.26 530.31,1598.07 531.42,1597.7 532.53,1598.27 533.64,1598.29 534.75,1598.32 535.87,1599.01 536.98,1598.93 538.09,1598.21 539.2,1598.8 540.31,1598.84 541.42,1598.53 542.53,1598.65 543.64,1598.81 544.76,1598.46 545.87,1598.45 546.98,1599.01 548.09,1599.27 549.2,1598.59 550.31,1598.41 551.42,1599.09 552.53,1598.84 553.65,1598.09 554.76,1598.08 555.87,1598.64 556.98,1598.68 558.09,1598.57 559.2,1598.68 560.31,1598.55 561.42,1598.68 562.54,1599.13 563.65,1599.01 564.76,1598.84 565.87,1599.06 566.98,1599.06 568.09,1599.11 569.2,1598.15 570.31,1598.14 571.43,1598.71 572.54,1598.61 573.65,1598.25 574.76,1598.33 575.87,1598.29 576.98,1598.51 578.09,1598.86 579.2,1598.63 580.32,1598.85 581.43,1598.61 582.54,1598.24 583.65,1598.44 584.76,1598.43 585.87,1598.78 586.98,1598.7 588.09,1598.68 589.21,1598.96 590.32,1598.2 591.43,1598.15 592.54,1598.56 593.65,1597.94 594.76,1598.13 595.87,1598.47 596.98,1598 598.1,1598.63 599.21,1598.84 600.32,1597.79 601.43,1597.84 602.54,1598.28 603.65,1598.38 604.76,1598.2 605.87,1597.95 606.99,1598.32 608.1,1598.2 609.21,1598.56 610.32,1598.82 611.43,1598.63 612.54,1598.3 613.65,1598.33 614.76,1598.46 615.88,1598.46 616.99,1597.89 618.1,1598.02 619.21,1597.61 620.32,1597.89 621.43,1599.17 622.54,1598.53 623.65,1597.8 624.77,1598.35 625.88,1598.13 626.99,1597.67 628.1,1597.85 629.21,1598.11 630.32,1598.38 631.43,1598.04 632.54,1597.64 633.66,1597.64 634.77,1597.49 635.88,1597.63 636.99,1598.1 638.1,1597.49 639.21,1596.77 640.32,1596.92 641.43,1596.84 642.55,1596.28 643.66,1595.95 644.77,1595.6 645.88,1595.88 646.99,1595.83 648.1,1596.3 649.21,1596.16 650.32,1595.15 651.44,1594.58 652.55,1594.54 653.66,1594.15 654.77,1594.16 655.88,1594.62 656.99,1594.22 658.1,1593.63 659.21,1592.99 660.33,1592.78 661.44,1593.35 662.55,1593.61 663.66,1593.7 664.77,1593.31 665.88,1593.82 666.99,1594.01 668.1,1593.44 669.22,1593.58 670.33,1594.11 671.44,1594.63 672.55,1594.46 673.66,1595.19 674.77,1595.69 675.88,1596.01 676.99,1596.62 678.11,1596.4 679.22,1596.11 680.33,1596.64 681.44,1596.33 682.55,1596.92 683.66,1597.32 684.77,1597.1 685.88,1596.92 687,1596.83 688.11,1597.23 689.22,1597.81 690.33,1597.91 691.44,1597.13 692.55,1597.23 693.66,1598.04 694.77,1598.8 695.89,1598.48 697,1598.26 698.11,1598.29 699.22,1598.1 700.33,1597.8 701.44,1597.73 702.55,1597.67 703.66,1598.19 704.78,1598.73 705.89,1598.49 707,1598.13 708.11,1598.58 709.22,1599.36 710.33,1598.32 711.44,1598.22 712.55,1598.6 713.67,1598.57 714.78,1598.74 715.89,1599.11 717,1598.75 718.11,1599.15 719.22,1598.55 720.33,1598.47 721.44,1598.17 722.56,1597.7 723.67,1598.31 724.78,1598.82 725.89,1598.46 727,1598.56 728.11,1598.38 729.22,1598.71 730.33,1598.26 731.45,1598.25 732.56,1598.65 733.67,1598.65 734.78,1598.56 735.89,1598.48 737,1597.64 738.11,1597.47 739.22,1598.53 740.34,1598.97 741.45,1599.12 742.56,1598.84 743.67,1599.09 744.78,1598.85 745.89,1598.83 747,1598.59 748.11,1598.23 749.23,1598.69 750.34,1598.24 751.45,1598.7 752.56,1599.45 753.67,1598.91 754.78,1598.95 755.89,1598.62 757,1598.29 758.12,1598.5 759.23,1598.34 760.34,1598.57 761.45,1598.9 762.56,1598.84 763.67,1598.39 764.78,1597.78 765.89,1598.18 767.01,1598.33 768.12,1597.71 769.23,1597.54 770.34,1597.9 771.45,1598.67 772.56,1598.65 773.67,1597.94 774.78,1597.55 775.9,1597.49 777.01,1597.45 778.12,1597.78 779.23,1598.3 780.34,1598.98 781.45,1598.96 782.56,1597.96 783.67,1597.88 784.79,1597.86 785.9,1598.17 787.01,1598.08 788.12,1597.44 789.23,1597.67 790.34,1597.39 791.45,1597.04 792.56,1597.18 793.68,1597.28 794.79,1596.7 795.9,1597.35 797.01,1598.62 798.12,1597.73 799.23,1597.78 800.34,1597.39 801.45,1597.31 802.57,1597.47 803.68,1597.7 804.79,1598.09 805.9,1597.62 807.01,1597.65 808.12,1598.25 809.23,1597.95 810.34,1598.35 811.46,1598.88 812.57,1598.36 813.68,1598.63 814.79,1597.98 815.9,1597.71 817.01,1598.41 818.12,1598.82 819.23,1598.99 820.35,1599.01 821.46,1598.69 822.57,1598.71 823.68,1598.65 824.79,1598.03 825.9,1598.49 827.01,1598.91 828.12,1598.62 829.24,1598.33 830.35,1599.07 831.46,1598.68 832.57,1598.38 833.68,1598.35 834.79,1598.4 835.9,1598.94 837.01,1598.97 838.13,1598.57 839.24,1598.79 840.35,1599.08 841.46,1598.78 842.57,1598.44 843.68,1598.26 844.79,1597.82 845.9,1598.7 847.02,1598.71 848.13,1598.07 849.24,1598.07 850.35,1598.05 851.46,1598.73 852.57,1598.83 853.68,1598.27 854.79,1598.13 855.91,1598.11 857.02,1598.77 858.13,1598.39 859.24,1598.33 860.35,1598.8 861.46,1598.85 862.57,1598.78 863.68,1598.63 864.8,1597.82 865.91,1598.1 867.02,1598.46 868.13,1598.08 869.24,1598.81 870.35,1599.36 871.46,1598.78 872.57,1598.67 873.69,1598.71 874.8,1598.01 875.91,1598.07 877.02,1598.83 878.13,1598.79 879.24,1598.28 880.35,1598.79 881.46,1599 882.58,1598.33 883.69,1598.19 884.8,1598.37 885.91,1598.22 887.02,1598.67 888.13,1598.63 889.24,1598.56 890.35,1599.26 891.47,1598.81 892.58,1598.13 893.69,1598.4 894.8,1598.49 895.91,1598.43 897.02,1598.27 898.13,1597.93 899.24,1598.17 900.36,1598.13 901.47,1598 902.58,1599.34 903.69,1600.07 904.8,1599.96 905.91,1599.07 907.02,1598.21 908.13,1598.59 909.25,1598.43 910.36,1598.33 911.47,1598.28 912.58,1598.74 913.69,1598.81 914.8,1598.73 915.91,1598.52 917.02,1598.45 918.14,1598.01 919.25,1598.22 920.36,1598.52 921.47,1598.72 922.58,1598.59 923.69,1598.22 924.8,1598.46 925.91,1599.15 927.03,1598.92 928.14,1599.21 929.25,1598.22 930.36,1597.81 931.47,1598.37 932.58,1598.15 933.69,1597.45 934.8,1598.06 935.92,1598.33 937.03,1598.17 938.14,1598.43 939.25,1598.55 940.36,1598.4 941.47,1598.72 942.58,1598.53 943.69,1598.85 944.81,1599.31 945.92,1598.4 947.03,1598.01 948.14,1598.76 949.25,1598.43 950.36,1598.18 951.47,1598.58 952.58,1599.02 953.7,1599.26 954.81,1598.86 955.92,1598.8 957.03,1598.88 958.14,1599.26 959.25,1599.01 960.36,1598.61 961.47,1598.56 962.59,1598.18 963.7,1597.94 964.81,1597.48 965.92,1598.55 967.03,1599.62 968.14,1598.52 969.25,1598.55 970.36,1598.97 971.48,1598.67 972.59,1598.81 973.7,1598.75 974.81,1599.5 975.92,1599.53 977.03,1598.59 978.14,1598.12 979.25,1598.87 980.37,1598.87 981.48,1598.52 982.59,1598.65 983.7,1598.7 984.81,1599.04 985.92,1598.59 987.03,1597.68 988.14,1597.96 989.26,1598.26 990.37,1598.26 991.48,1597.96 992.59,1597.97 993.7,1597.96 994.81,1598.64 995.92,1598.49 997.03,1598.33 998.15,1599.06 999.26,1598.84 1000.37,1598.69 1001.48,1599.05 1002.59,1599.05 1003.7,1598.57 1004.81,1598.16 1005.92,1598.83 1007.04,1598.97 1008.15,1598.43 1009.26,1598.35 1010.37,1598.52 1011.48,1598.02 1012.59,1598.38 1013.7,1599.06 1014.81,1598.61 1015.93,1598.17 1017.04,1598.26 1018.15,1598.41 1019.26,1599.17 1020.37,1599.26 1021.48,1598.75 1022.59,1598.31 1023.7,1598.32 1024.82,1598.34 1025.93,1597.9 1027.04,1597.86 1028.15,1598.23 1029.26,1597.83 1030.37,1597.33 1031.48,1597.57 1032.59,1597.65 1033.71,1597.09 1034.82,1597.7 1035.93,1598.3 1037.04,1598.6 1038.15,1597.99 1039.26,1597.82 1040.37,1598.34 1041.48,1598.34 1042.6,1598.48 1043.71,1598.38 1044.82,1598.03 1045.93,1598.28 1047.04,1598.57 1048.15,1598.69 1049.26,1598.92 1050.37,1598.74 1051.49,1598.44 1052.6,1598.84 1053.71,1598.73 1054.82,1598.23 1055.93,1598.67 1057.04,1598.04 1058.15,1598.44 1059.26,1599.06 1060.38,1598.72 1061.49,1598.9 1062.6,1598.62 1063.71,1598.49 1064.82,1598.04 1065.93,1597.69 1067.04,1598.24 1068.15,1598.27 1069.27,1597.78 1070.38,1598.22 1071.49,1598.26 1072.6,1597.76 1073.71,1597.71 1074.82,1598.28 1075.93,1598.43 1077.04,1597.94 1078.16,1597.87 1079.27,1597.59 1080.38,1598.14 1081.49,1598.55 1082.6,1597.96 1083.71,1597.87 1084.82,1598.32 1085.93,1598.58 1087.05,1598.69 1088.16,1598.67 1089.27,1598.56 1090.38,1597.91 1091.49,1598.54 1092.6,1598.66 1093.71,1598.49 1094.82,1598.55 1095.94,1598.87 1097.05,1598.63 1098.16,1598.08 1099.27,1598.79 1100.38,1599.12 1101.49,1599.23 1102.6,1598.89 1103.71,1598.67 1104.83,1598.94 1105.94,1598.42 1107.05,1597.82 1108.16,1597.93 1109.27,1598.14 1110.38,1598.96 1111.49,1599.73 1112.6,1598.97 1113.72,1598.43 1114.83,1598.33 1115.94,1598.24 1117.05,1598.42 1118.16,1598.51 1119.27,1598.25 1120.38,1598.15 1121.49,1598.02 1122.61,1597.86 1123.72,1597.93 1124.83,1598.37 1125.94,1598.55 1127.05,1598.2 1128.16,1598.49 1129.27,1598.55 1130.38,1598.67 1131.5,1598.52 1132.61,1598.96 1133.72,1599.29 1134.83,1599 1135.94,1599.11 1137.05,1598.6 1138.16,1598.94 1139.27,1598.5 1140.39,1598.29 1141.5,1598.36 1142.61,1597.78 1143.72,1597.7 1144.83,1598.12 1145.94,1598.62 1147.05,1598.54 1148.16,1598.78 1149.28,1598.65 1150.39,1598.17 1151.5,1598.78 1152.61,1599.23 1153.72,1598.71 1154.83,1597.93 1155.94,1597.8 1157.05,1598.09 1158.17,1598.4 1159.28,1598.89 1160.39,1598.75 1161.5,1598.56 1162.61,1598.63 1163.72,1598.1 1164.83,1598.48 1165.94,1599.07 1167.06,1598.78 1168.17,1598.84 1169.28,1598.39 1170.39,1597.99 1171.5,1598.38 1172.61,1598.03 1173.72,1597.37 1174.83,1597.87 1175.95,1597.52 1177.06,1596.62 1178.17,1596.44 1179.28,1595.59 1180.39,1595.83 1181.5,1596.28 1182.61,1595.14 1183.72,1594.42 1184.84,1595.09 1185.95,1595.12 1187.06,1594.34 1188.17,1594.06 1189.28,1594.33 1190.39,1594.95 1191.5,1595.19 1192.61,1595.28 1193.73,1595.31 1194.84,1596.07 1195.95,1596.5 1197.06,1596.07 1198.17,1596.26 1199.28,1597.43 1200.39,1596.99 1201.5,1596.67 1202.62,1597.57 1203.73,1597.87 1204.84,1597.53 1205.95,1596.65 1207.06,1597.27 1208.17,1598.54 1209.28,1598.22 1210.39,1597.74 1211.51,1598.38 1212.62,1599.05 1213.73,1598.46 1214.84,1598.15 1215.95,1597.9 1217.06,1598.16 1218.17,1598.26 1219.28,1598.3 1220.4,1597.69 1221.51,1598.31 1222.62,1598.15 1223.73,1597.71 1224.84,1598.19 1225.95,1597.86 1227.06,1597.61" fill="none" stroke="#000080" stroke-width="4.6" stroke-linejoin="round" />
</g>
<g id="curvesR" fill="none" stroke-linejoin="round">
<polyline points="1264,1360.97 1272.89,1360.27 1281.47,1360.97 1288.63,1364.98 1297.21,1360.97 1304.36,1362.98 1312.95,1361.83 1321.53,1360.69 1330.11,1361.55 1338.7,1363.83 1348.71,1359.54 1355.87,1360.26 1363.02,1360.97 1371.6,1352.96 1378.76,1352.96 1387.34,1344.68 1395.92,1337.8 1404.51,1337.8 1413.09,1330.07 1421.67,1327.21 1428.83,1327.78 1435.98,1334.94 1444.56,1328.64 1451.72,1327.78 1461.73,1315.77 1468.88,1328.64 1477.47,1336.65 1486.05,1336.65 1493.92,1345.51 1501.79,1352.96 1508.94,1348.67 1517.53,1355.82 1526.11,1353.82 1536.12,1358.68 1547.57,1362.98 1556.15,1362.96 1564.74,1361.55 1576.18,1363.83 1584.76,1360.11 1593.35,1362.98 1600.02,1363.39 1606.7,1362.4 1613.38,1362.12 1621.96,1363.55 1630.54,1364.98 1637.7,1362.98 1644.85,1360.97 1656.29,1363.55 1667.74,1363.55 1674.89,1358.11 1684.91,1362.98 1693.49,1363.68 1702.07,1362.98 1710.66,1360.97 1722.1,1365.26 1732.12,1358.11 1740.7,1363.55 1753.58,1360.11 1765.02,1357.25 1773.61,1358.68 1782.19,1364.41 1793.63,1364.41 1805.08,1362.98 1813.66,1355.82 1822.25,1355.82 1829.4,1362.98 1836.27,1362.2 1843.13,1361.42 1850,1360.65 1857.2,1358.7 1864.4,1358.85 1871.6,1356.9 1878.8,1355.66 1886,1354.41 1895.6,1346.25 1905.2,1345.77 1914.8,1334.25 1922,1333.51 1929.2,1331.37 1938.8,1311.21 1946,1294.91 1953.2,1280.01 1960.4,1251.21 1967.6,1222.41 1978.64,1193.61 1986.32,1136.71 1994,1078.4 2006,1001.6 2013.2,963.2 2020.4,924.8 2028.8,877.3 2037.2,831.2 2044.4,834.56 2051.6,834.56 2061.2,862.4 2070.8,910.4 2079.44,944 2087.6,992 2099.6,1088 2109.2,1172.01 2118.8,1186.41 2126,1241.61 2135.6,1277.61 2142.8,1284.81 2151.2,1304.71 2159.6,1323.21 2169.21,1325.61 2178.81,1332.81 2186.01,1345.77 2198.01,1349.61 2207.61,1357.77 2216.01,1358.47 2224.41,1357.77 2234.01,1361.61 2241.21,1356.81 2248.41,1362.57 2255.61,1360.89 2262.81,1359.21 2274.81,1364.01 2283.21,1362.31 2291.61,1359.21 2298.81,1361.11 2306,1361.61" fill="none" stroke="#000000" stroke-width="4.0" stroke-linejoin="round" />
<polyline points="1264,1397.31 1271.46,1397.74 1278.61,1398.17 1285.77,1397.04 1292.92,1397.31 1301.5,1394.45 1310.09,1395.88 1318.67,1397.31 1327.25,1398.74 1334.41,1398.01 1341.56,1395.88 1349.43,1396.6 1357.3,1397.31 1367.31,1391.59 1374.94,1391.59 1382.57,1390.89 1390.2,1391.59 1400.21,1390.16 1407.37,1384.43 1415.95,1388.15 1423.1,1383.16 1430.26,1379.57 1440.27,1381.57 1450.29,1377.85 1463.16,1379.57 1473.18,1386.44 1480.33,1386.17 1487.48,1387.3 1498.93,1389.59 1507.51,1390.16 1514.19,1392.06 1520.86,1393.97 1527.54,1395.88 1535.41,1395.39 1543.28,1396.31 1551.14,1396.52 1559.01,1396.74 1566.17,1397.1 1573.32,1396.75 1580.47,1397.11 1587.63,1398.17 1594.3,1398.65 1600.98,1398.42 1607.65,1399.6 1614.81,1397.74 1621.96,1395.88 1629.59,1396.36 1637.22,1396.83 1644.85,1397.31 1653.43,1399.6 1659.87,1398.54 1666.31,1398.88 1672.75,1398.53 1679.18,1398.17 1686.62,1397.47 1694.06,1397.47 1701.5,1398.87 1708.94,1397.47 1716.38,1398.17 1724.96,1396.45 1732.12,1395.61 1739.27,1396.17 1746.42,1395.32 1753.58,1395.88 1762.16,1398.74 1770.03,1398.38 1777.9,1397.33 1785.77,1397.67 1793.63,1397.31 1802.22,1393.59 1810.8,1397.31 1819.38,1395.02 1827.97,1398.74 1835.31,1398.04 1842.66,1398.05 1850,1396.65 1856.4,1396.01 1862.8,1395.37 1869.2,1395.43 1875.6,1394.09 1882,1393.45 1888.4,1392.81 1896.4,1389.71 1904.4,1388.01 1912.4,1385.61 1919.6,1385.11 1926.8,1383.21 1933.2,1378.51 1939.6,1375.21 1946,1371.21 1954.4,1362.11 1962.8,1354.41 1974.8,1337.61 1982,1319.11 1989.2,1299.21 1996.4,1280.71 2003.6,1260.81 2015.6,1224.81 2022.8,1220.01 2032.4,1184.01 2039.6,1172.01 2046.8,1179.21 2056.4,1172.01 2066,1179.21 2073.2,1176.81 2085.2,1203.21 2097.2,1227.21 2109.2,1275.21 2116.4,1286.51 2123.6,1299.21 2132,1320.81 2140.4,1342.41 2150,1349.61 2162,1366.41 2169.21,1373.61 2176.41,1380.81 2182.81,1382.73 2189.21,1385.35 2195.61,1386.57 2207.61,1392.81 2214.81,1388.01 2222.01,1393.77 2228.61,1393.07 2235.21,1393.07 2241.81,1393.77 2248.41,1393.77 2255.61,1396.41 2262.81,1399.05 2272.41,1396.17 2278.81,1396.17 2285.21,1396.17 2291.61,1396.17 2298.81,1397.37 2306,1398.57" fill="none" stroke="#404040" stroke-width="4.0" stroke-linejoin="round" />
<polyline points="1264,1430.21 1271.46,1430.49 1278.61,1429.36 1285.77,1428.86 1292.92,1428.35 1300.07,1427.85 1307.22,1427.35 1314.38,1427.71 1321.53,1428.77 1328.68,1427.73 1335.84,1428.78 1342.99,1429.34 1350.14,1428.5 1357.3,1428.35 1364.45,1428.21 1373.03,1425.35 1380.19,1424.22 1387.34,1424.49 1393.06,1421.63 1401.65,1421.2 1410.23,1420.77 1415.95,1418.77 1424.54,1420.18 1433.12,1420.2 1444.56,1416.48 1451.72,1417.35 1458.87,1419.63 1465.55,1418.64 1472.22,1419.06 1478.9,1418.77 1487.48,1425.35 1496.07,1426.78 1504.65,1422.2 1513.23,1422.63 1521.82,1423.06 1528.97,1424.94 1536.12,1428.21 1543.28,1428.7 1550.43,1427.08 1557.58,1428.27 1564.74,1427.35 1573.32,1429.36 1580.27,1429.19 1587.22,1429.03 1594.17,1428.87 1601.11,1428.7 1608.06,1427.84 1615.01,1428.38 1621.96,1428.21 1628.5,1428.09 1635.04,1427.97 1641.58,1427.14 1648.12,1427.02 1654.66,1427.6 1661.2,1428.18 1667.74,1427.35 1674.18,1428.07 1680.62,1429.48 1687.05,1429.5 1693.49,1430.21 1700.64,1430.53 1707.8,1429.45 1714.95,1428.37 1722.1,1429.39 1729.26,1427.61 1736.41,1427.93 1743.09,1428.4 1749.76,1428.88 1756.44,1429.36 1765.02,1425.92 1771.7,1426.15 1778.37,1425.67 1785.05,1424.49 1793.63,1427.35 1800.79,1427.14 1807.94,1427.62 1815.09,1426.71 1822.25,1426.49 1829.18,1426.83 1836.12,1427.17 1843.06,1426.81 1850,1427.85 1856.86,1428 1863.71,1427.45 1870.57,1426.2 1877.43,1424.96 1884.29,1424.41 1891.14,1424.56 1898,1424.01 1906,1422.03 1914,1421.45 1922,1420.17 1928.48,1416.71 1934.96,1414.65 1941.44,1412.59 1947.92,1409.13 1955.6,1402.41 1966.16,1393.77 1972.88,1383.21 1982,1381.77 1986.8,1371.69 1998.32,1360.17 2008.4,1344.81 2015.6,1336.41 2022.8,1328.01 2034.8,1316.01 2042,1311.21 2054,1290.57 2063.6,1293.45 2070.8,1292.71 2078,1290.57 2085.2,1311.21 2097.2,1317.45 2106.8,1340.01 2118.8,1354.41 2123.6,1366.41 2130.8,1375.31 2138,1385.61 2145.2,1392.81 2152.4,1400.01 2164.41,1400.01 2171.61,1412.01 2178.81,1416.31 2186.01,1419.21 2193.21,1420.51 2200.41,1419.71 2207.61,1421.01 2214.81,1421.61 2221.21,1423.43 2227.61,1424.55 2234.01,1424.97 2242.01,1426.15 2250.01,1425.23 2258.01,1426.41 2264.86,1425.92 2271.72,1426.82 2278.58,1426.33 2285.44,1427.93 2292.29,1428.14 2299.15,1427.64 2306,1427.85" fill="none" stroke="#808080" stroke-width="4.0" stroke-linejoin="round" />
<polyline points="1264,1457.4 1271.46,1457.38 1278.61,1455.97 1285.77,1456.68 1292.92,1456.7 1300.07,1458.11 1307.22,1458.83 1314.66,1458.83 1322.1,1459.53 1329.54,1458.83 1336.98,1459.53 1344.42,1458.83 1353,1456.27 1361.59,1455.11 1368.74,1455.97 1375.89,1456.82 1384.48,1452.82 1390.84,1453.52 1397.19,1452.12 1403.55,1452.82 1409.91,1453.52 1416.27,1452.82 1422.63,1452.82 1428.99,1452.82 1435.34,1452.12 1441.7,1452.82 1450.29,1451.1 1461.73,1455.11 1473.18,1453.96 1481.76,1454.23 1490.34,1453.1 1498.93,1453.84 1507.51,1455.97 1514.66,1456.68 1521.82,1457.4 1528.97,1456.95 1536.12,1455.11 1547.57,1458.54 1556.15,1458.38 1564.74,1456.82 1571.09,1456.95 1577.45,1456.38 1583.81,1457.21 1590.17,1456.63 1596.53,1458.16 1602.89,1457.59 1609.24,1457.71 1615.6,1457.84 1621.96,1457.97 1628.32,1457.14 1634.68,1457.71 1641.03,1456.89 1647.39,1457.46 1653.75,1458.03 1660.11,1456.51 1666.47,1457.08 1672.83,1457.65 1679.18,1456.82 1685.8,1457.42 1692.42,1456.61 1699.03,1456.5 1705.65,1456.39 1712.27,1455.59 1718.88,1455.48 1725.5,1456.77 1732.12,1455.97 1738.73,1455.86 1745.35,1455.75 1751.97,1455.64 1758.58,1455.54 1765.2,1456.13 1771.82,1456.02 1778.43,1455.91 1785.05,1455.11 1792.49,1455.57 1799.93,1456.72 1807.37,1456.48 1814.81,1457.64 1822.25,1457.4 1829.18,1456.75 1836.12,1457.5 1843.06,1456.86 1850,1457.61 1856.4,1456.97 1862.8,1456.33 1869.2,1455.69 1875.6,1454.35 1882,1454.41 1888.4,1453.77 1896.4,1452.55 1904.4,1449.93 1912.4,1448.01 1919.6,1445.11 1926.8,1440.81 1939.76,1423.05 1950.8,1422.09 1955.6,1413.93 1966.16,1390.41 1977.2,1394.73 1980.56,1388.01 1991.6,1386.09 1996.4,1388.97 2010.32,1389.93 2015.12,1392.81 2019.92,1389.45 2030,1388.01 2037.2,1390.41 2044.4,1379.85 2051.6,1383.21 2063.6,1394.25 2075.6,1384.65 2082.8,1391.13 2090,1397.61 2096.4,1399.63 2102.8,1403.75 2109.2,1405.77 2116.4,1414.89 2123.6,1424.01 2130,1427.31 2136.4,1432.71 2142.8,1436.01 2150,1440.33 2157.2,1444.65 2164.41,1445.35 2171.61,1444.65 2181.21,1449.45 2189.21,1449.87 2197.21,1450.99 2205.21,1452.81 2212.41,1453.41 2219.61,1454.01 2226.81,1455.31 2234.01,1455.21 2240.55,1455.52 2247.1,1456.52 2253.64,1456.13 2260.19,1456.43 2266.73,1456.74 2273.28,1457.04 2279.83,1456.65 2286.37,1457.65 2292.92,1457.96 2299.46,1457.57 2306,1458.57" fill="none" stroke="#C0C0C0" stroke-width="4.0" stroke-linejoin="round" />
<polyline points="1264,1484.75 1270.58,1483.94 1276.91,1484.96 1283.24,1485.51 1289.57,1487.13 1295.9,1486.38 1302.23,1483.39 1308.56,1485.41 1314.89,1484.82 1321.22,1486.01 1327.55,1485.29 1333.88,1485.92 1340.21,1486.19 1346.54,1485.25 1352.87,1484.11 1359.2,1485.23 1365.53,1486.16 1371.86,1486.11 1378.19,1485.43 1384.52,1486.2 1390.85,1485.51 1397.18,1484.44 1403.51,1485.76 1409.84,1486.35 1416.17,1486.78 1422.5,1485.07 1428.83,1485.71 1435.16,1485.39 1441.49,1484.39 1447.82,1485.89 1454.15,1484.76 1460.48,1485.66 1466.81,1485 1473.14,1485.07 1479.47,1485.54 1485.8,1485.67 1492.13,1486.05 1498.46,1485.23 1504.79,1485.35 1511.12,1485.93 1517.45,1485.22 1523.78,1485.62 1530.11,1485.08 1536.44,1485.55 1542.77,1486.34 1549.1,1486.33 1555.43,1486.34 1561.76,1486.69 1568.09,1485.74 1574.42,1486.49 1580.75,1485.31 1587.08,1486.51 1593.41,1486.28 1599.74,1487.1 1606.07,1486.35 1612.4,1486.21 1618.73,1485.88 1625.06,1485.15 1631.39,1485.02 1637.72,1486.36 1644.05,1484.45 1650.38,1487.01 1656.71,1485.79 1663.04,1486.15 1669.37,1486.47 1675.7,1485.83 1682.03,1485.53 1688.36,1483.67 1694.69,1485.92 1701.02,1486.11 1707.35,1484.28 1713.68,1485.77 1720.01,1485.51 1726.34,1486.54 1732.67,1484.07 1739,1485.1 1745.33,1485.42 1751.66,1484.82 1757.99,1485.77 1764.32,1483.75 1770.65,1483.56 1776.98,1485.58 1783.31,1486.09 1789.64,1484.86 1795.97,1485.93 1802.3,1485.87 1808.63,1486.12 1814.96,1485.67 1821.29,1484.06 1827.62,1485.6 1833.95,1485.71 1840.28,1486.95 1846.61,1484.25 1850,1484.97 1857.2,1484.61 1864.4,1484.25 1871.6,1483.19 1878.8,1483.53 1885.2,1481.99 1891.6,1479.75 1898,1476.81 1907.6,1464.81 1914.8,1467.21 1926.8,1452.81 1939.76,1426.89 1947.92,1413.93 1958.48,1407.21 1963.28,1383.69 1965.2,1381.77 1975.28,1390.41 1982.48,1392.81 1989.2,1388.01 1997.6,1399.51 2006,1409.61 2018,1438.41 2030,1452.81 2038.4,1460.71 2046.8,1467.21 2054,1466.73 2061.2,1466.25 2073.2,1463.37 2081.6,1467.69 2090,1472.01 2097.2,1473.67 2104.4,1473.93 2111.6,1474.19 2118.8,1475.85 2125.2,1476.97 2131.6,1478.79 2138,1479.21 2146,1481.03 2154,1481.45 2162,1482.57 2168.86,1482.98 2175.72,1483.39 2182.58,1484.51 2189.43,1484.92 2196.29,1484.63 2203.15,1485.74 2210.01,1485.45 2216.86,1485.73 2223.72,1485.3 2230.58,1485.57 2237.43,1485.85 2244.29,1486.12 2251.15,1486.4 2258.01,1487.37 2264.86,1487.93 2271.72,1486.4 2278.58,1487.66 2285.44,1486.12 2292.29,1487.39 2299.15,1485.85 2306,1486.41" fill="none" stroke="#00FFFF" stroke-width="4.0" stroke-linejoin="round" />
<polyline points="1264,1516.63 1270.58,1514.73 1276.91,1513.95 1283.24,1514.57 1289.57,1515.69 1295.9,1514.84 1302.23,1514.2 1308.56,1515.35 1314.89,1515.58 1321.22,1514.8 1327.55,1516.16 1333.88,1516.49 1340.21,1512.86 1346.54,1514.82 1352.87,1516.28 1359.2,1515.2 1365.53,1515.99 1371.86,1515.26 1378.19,1513.64 1384.52,1514.29 1390.85,1514.79 1397.18,1515.87 1403.51,1514.75 1409.84,1514.42 1416.17,1514.37 1422.5,1514.95 1428.83,1514.97 1435.16,1516.64 1441.49,1514.69 1447.82,1513.81 1454.15,1515.29 1460.48,1515.02 1466.81,1514.94 1473.14,1514.23 1479.47,1515.18 1485.8,1514.41 1492.13,1514.37 1498.46,1514.33 1504.79,1515.58 1511.12,1513.65 1517.45,1514.73 1523.78,1514.59 1530.11,1515.4 1536.44,1514.66 1542.77,1515.53 1549.1,1514.19 1555.43,1515.15 1561.76,1515.02 1568.09,1514.87 1574.42,1516.05 1580.75,1515.23 1587.08,1515.01 1593.41,1515.68 1599.74,1515.11 1606.07,1514.6 1612.4,1515.58 1618.73,1516.59 1625.06,1514.35 1631.39,1515.32 1637.72,1514.91 1644.05,1514.88 1650.38,1513.29 1656.71,1514.29 1663.04,1514.16 1669.37,1515.95 1675.7,1513.9 1682.03,1515.86 1688.36,1514.04 1694.69,1514.66 1701.02,1514.48 1707.35,1514.36 1713.68,1513.55 1720.01,1515.91 1726.34,1515.7 1732.67,1515.76 1739,1515.57 1745.33,1515.53 1751.66,1515.79 1757.99,1514.19 1764.32,1515.26 1770.65,1515.96 1776.98,1515.08 1783.31,1514.66 1789.64,1514.1 1795.97,1514.59 1802.3,1514.43 1808.63,1512.41 1814.96,1515.18 1821.29,1516.02 1827.62,1515.3 1833.95,1514.94 1840.28,1514.22 1846.61,1514.61 1850,1515.21 1858,1514.89 1866,1515.27 1874,1514.25 1882,1511.37 1890,1508.49 1898,1505.61 1904.4,1500.71 1910.8,1495.11 1917.2,1488.81 1925.6,1478.51 1934,1469.61 1946,1448.01 1958,1433.61 1965.2,1438.41 1976.24,1428.81 1984.4,1448.01 1991.6,1449.21 1998.8,1450.41 2008.4,1472.01 2016.8,1488.31 2025.2,1503.21 2033.6,1503.71 2042,1505.61 2049.2,1508.01 2056.4,1510.41 2062.8,1511.91 2069.2,1512.71 2075.6,1512.81 2082.54,1513.67 2089.47,1512.43 2096.4,1513.29 2103.34,1513.45 2110.27,1513.61 2117.2,1513.77 2124.14,1513.93 2131.07,1514.09 2138,1514.25 2144.86,1514.88 2151.72,1514.11 2158.58,1513.35 2165.43,1514.68 2172.29,1513.21 2179.15,1513.14 2186.01,1513.77 2192.86,1513.28 2199.72,1514.18 2206.58,1514.39 2213.43,1514.59 2220.29,1514.8 2227.15,1515.01 2234.01,1515.21 2240.55,1515.91 2247.1,1515.21 2253.64,1515.91 2260.19,1515.21 2266.73,1515.91 2273.28,1514.51 2279.83,1515.91 2286.37,1515.21 2292.92,1515.91 2299.46,1515.21 2306,1515.21" fill="none" stroke="#00FFFF" stroke-width="4.0" stroke-linejoin="round" />
<polyline points="1264,1543.44 1270.58,1541.78 1276.91,1543.96 1283.24,1541.7 1289.57,1543.12 1295.9,1542.2 1302.23,1542.33 1308.56,1541.31 1314.89,1543.17 1321.22,1542.86 1327.55,1543.25 1333.88,1542.3 1340.21,1543.4 1346.54,1542.71 1352.87,1542.5 1359.2,1542.3 1365.53,1543.34 1371.86,1542.82 1378.19,1542.85 1384.52,1541.71 1390.85,1542.56 1397.18,1542 1403.51,1542.12 1409.84,1541.49 1416.17,1542.96 1422.5,1542.54 1428.83,1542.6 1435.16,1542.01 1441.49,1542.71 1447.82,1542 1454.15,1542.55 1460.48,1542.98 1466.81,1542.83 1473.14,1542.96 1479.47,1542.19 1485.8,1541.43 1492.13,1542.77 1498.46,1541.96 1504.79,1542.41 1511.12,1541.89 1517.45,1542.46 1523.78,1543 1530.11,1542.4 1536.44,1541.87 1542.77,1542.69 1549.1,1542.76 1555.43,1542.61 1561.76,1542.77 1568.09,1543.34 1574.42,1543.6 1580.75,1543.03 1587.08,1542.39 1593.41,1542.82 1599.74,1541.77 1606.07,1542.61 1612.4,1543.72 1618.73,1542.57 1625.06,1542.59 1631.39,1542.13 1637.72,1543.27 1644.05,1542.43 1650.38,1542.78 1656.71,1542.39 1663.04,1541.87 1669.37,1542.49 1675.7,1541.99 1682.03,1542.19 1688.36,1542.26 1694.69,1543.63 1701.02,1542.99 1707.35,1542.79 1713.68,1542.22 1720.01,1542.97 1726.34,1542.52 1732.67,1543.33 1739,1542.47 1745.33,1543.63 1751.66,1542.46 1757.99,1542.65 1764.32,1542.32 1770.65,1542.58 1776.98,1542.01 1783.31,1541.91 1789.64,1541.6 1795.97,1542.1 1802.3,1542.03 1808.63,1542.77 1814.96,1542.21 1821.29,1542.51 1827.62,1543.39 1833.95,1542.96 1840.28,1541.66 1846.61,1542.84 1850,1541.61 1856.4,1542.31 1862.8,1541.61 1869.2,1541.61 1875.6,1539.21 1882,1537.51 1888.4,1534.41 1898,1530.57 1907.6,1532.01 1919.6,1520.01 1926.8,1517.61 1934,1515.21 1946,1500.81 1953.2,1494.83 1960.4,1490.25 1967.6,1490.25 1974.8,1490.25 1982,1500.81 1989.2,1495.05 1996.4,1503.21 2008.4,1520.01 2015.6,1522.91 2022.8,1527.21 2032.4,1538.25 2042,1535.85 2051.6,1541.61 2058.8,1542.31 2066,1541.61 2073.2,1541.61 2080.4,1541.61 2086.8,1541.88 2093.2,1542.15 2099.6,1541.71 2106,1541.98 2112.4,1542.25 2118.8,1543.91 2125.2,1542.78 2131.6,1543.75 2138,1544.01 2144.47,1543.27 2150.93,1543.24 2157.39,1544.6 2163.85,1543.16 2170.31,1543.83 2176.77,1544.49 2183.24,1543.75 2189.7,1543.72 2196.16,1543.68 2202.62,1543.64 2209.08,1543.61 2215.54,1543.57 2222.01,1543.53 2228.47,1544.19 2234.93,1543.46 2241.39,1542.72 2247.85,1543.38 2254.31,1542.65 2260.78,1543.31 2267.24,1542.57 2273.7,1542.54 2280.16,1542.5 2286.62,1543.86 2293.08,1542.43 2299.55,1542.39 2306,1543.05" fill="none" stroke="#0000FF" stroke-width="4.0" stroke-linejoin="round" />
<polyline points="1264,1571.36 1270.58,1570.91 1276.91,1570.43 1283.24,1571.22 1289.57,1570.85 1295.9,1571.16 1302.23,1571.35 1308.56,1571.25 1314.89,1570.7 1321.22,1570.03 1327.55,1571.06 1333.88,1570.93 1340.21,1570.9 1346.54,1571.2 1352.87,1571.32 1359.2,1570.35 1365.53,1571.51 1371.86,1571.21 1378.19,1571.1 1384.52,1571.04 1390.85,1572.31 1397.18,1571.27 1403.51,1570.95 1409.84,1570.05 1416.17,1570.84 1422.5,1571.29 1428.83,1570.24 1435.16,1570.91 1441.49,1571.09 1447.82,1571.47 1454.15,1570.1 1460.48,1570.89 1466.81,1570.86 1473.14,1571 1479.47,1571.25 1485.8,1571.53 1492.13,1571.66 1498.46,1572.56 1504.79,1571.13 1511.12,1571.27 1517.45,1570.93 1523.78,1570.95 1530.11,1570.46 1536.44,1570.89 1542.77,1570.61 1549.1,1570.23 1555.43,1571.09 1561.76,1570.66 1568.09,1571.12 1574.42,1570.83 1580.75,1571.3 1587.08,1571.86 1593.41,1571.32 1599.74,1570.79 1606.07,1570.78 1612.4,1571.13 1618.73,1570.75 1625.06,1570.79 1631.39,1571.69 1637.72,1571.17 1644.05,1570.72 1650.38,1571.11 1656.71,1570.93 1663.04,1570.7 1669.37,1571.15 1675.7,1570.76 1682.03,1570.64 1688.36,1571.43 1694.69,1570.59 1701.02,1571.83 1707.35,1570.26 1713.68,1571.28 1720.01,1571.24 1726.34,1571.21 1732.67,1571.18 1739,1571.54 1745.33,1570.85 1751.66,1570.77 1757.99,1570.8 1764.32,1572.19 1770.65,1570.38 1776.98,1571.65 1783.31,1570.5 1789.64,1571.32 1795.97,1571.66 1802.3,1570.27 1808.63,1570.47 1814.96,1571.52 1821.29,1571.72 1827.62,1570.65 1833.95,1572.05 1840.28,1570.84 1846.61,1571.23 1850,1570.41 1857.2,1569.81 1864.4,1569.21 1871.6,1568.61 1878.8,1568.01 1885.2,1566.41 1891.6,1564.11 1898,1563.21 1905.2,1561.31 1912.4,1560.81 1919.6,1556.71 1926.8,1551.21 1933.2,1545.93 1939.6,1540.65 1946,1535.37 1953.2,1536.81 1962.8,1529.61 1970,1533.91 1977.2,1536.81 1985.6,1541.63 1994,1547.85 2003.6,1547.85 2011.6,1554.47 2019.6,1558.99 2027.6,1565.61 2035.6,1567.91 2043.6,1568.11 2051.6,1570.41 2057.96,1571.11 2064.32,1569.71 2070.68,1570.41 2077.04,1571.11 2083.4,1571.11 2089.76,1570.41 2096.12,1571.11 2102.48,1570.41 2108.84,1570.41 2115.2,1570.41 2121.56,1569.71 2127.92,1570.41 2134.28,1569.71 2140.64,1569.71 2147,1570.41 2153.36,1570.41 2159.72,1571.11 2166.09,1569.71 2172.45,1570.41 2178.81,1570.41 2185.17,1569.71 2191.53,1570.41 2197.89,1569.71 2204.25,1569.71 2210.61,1570.41 2216.97,1570.41 2223.33,1570.41 2229.69,1569.71 2236.05,1570.41 2242.41,1569.71 2248.77,1570.41 2255.13,1570.41 2261.49,1570.41 2267.85,1569.71 2274.21,1570.41 2280.57,1570.41 2286.93,1570.41 2293.29,1571.11 2299.65,1570.41 2306,1570.41" fill="none" stroke="#0000B0" stroke-width="4.0" stroke-linejoin="round" />
<polyline points="1264,1599.44 1270.58,1598.43 1276.91,1599.63 1283.24,1598.43 1289.57,1598.75 1295.9,1598.61 1302.23,1599.96 1308.56,1598.82 1314.89,1599.23 1321.22,1599.39 1327.55,1598.59 1333.88,1599.25 1340.21,1598.64 1346.54,1597.94 1352.87,1598.62 1359.2,1598.83 1365.53,1597.68 1371.86,1598.2 1378.19,1598.76 1384.52,1599.01 1390.85,1599.12 1397.18,1598.79 1403.51,1598.47 1409.84,1599.09 1416.17,1598.12 1422.5,1599.15 1428.83,1598.04 1435.16,1599.26 1441.49,1598.35 1447.82,1599.58 1454.15,1598.59 1460.48,1598.49 1466.81,1598.29 1473.14,1599.09 1479.47,1598.2 1485.8,1598.67 1492.13,1599.01 1498.46,1598.36 1504.79,1598.34 1511.12,1598.55 1517.45,1598.12 1523.78,1598.44 1530.11,1598.79 1536.44,1598.02 1542.77,1598.8 1549.1,1598.84 1555.43,1598.89 1561.76,1598.8 1568.09,1597.63 1574.42,1598.35 1580.75,1598.95 1587.08,1598.72 1593.41,1598.23 1599.74,1599.59 1606.07,1599.42 1612.4,1598.11 1618.73,1598.72 1625.06,1599.07 1631.39,1599.61 1637.72,1597.74 1644.05,1599.12 1650.38,1598.61 1656.71,1598.88 1663.04,1598.65 1669.37,1599.63 1675.7,1599.77 1682.03,1598.66 1688.36,1598.33 1694.69,1600.08 1701.02,1599.01 1707.35,1598.26 1713.68,1599.36 1720.01,1598.7 1726.34,1598.63 1732.67,1599.33 1739,1597.94 1745.33,1599.27 1751.66,1598.89 1757.99,1598.98 1764.32,1598.9 1770.65,1597.97 1776.98,1598.41 1783.31,1598.99 1789.64,1599.06 1795.97,1598.77 1802.3,1597.97 1808.63,1598.67 1814.96,1598.4 1821.29,1598.41 1827.62,1599.04 1833.95,1598.95 1840.28,1598.04 1846.61,1598.73 1850,1599.21 1857.2,1597.91 1864.4,1598.01 1871.6,1597.41 1878.8,1596.81 1885.2,1595.91 1891.6,1594.31 1898,1592.01 1906,1591.91 1914,1591.11 1922,1589.61 1929.2,1581.45 1937.6,1580.01 1946,1578.57 1953.2,1571.85 1959.6,1572.17 1966,1572.49 1972.4,1572.81 1979.6,1576.01 1986.8,1579.21 1994,1582.41 2001.2,1584.31 2008.4,1584.81 2015.6,1587.71 2022.8,1592.01 2029.2,1593.93 2035.6,1595.85 2042,1597.77 2048.44,1597.81 2054.88,1598.54 2061.32,1598.58 2067.76,1598.61 2074.2,1598.65 2080.64,1597.98 2087.08,1598.02 2093.52,1597.35 2099.96,1598.79 2106.39,1598.82 2112.83,1598.16 2119.27,1598.19 2125.71,1598.23 2132.15,1597.56 2138.59,1599 2145.03,1598.33 2151.47,1597.67 2157.91,1598.4 2164.35,1599.14 2170.79,1598.48 2177.22,1598.51 2183.66,1599.25 2190.1,1597.88 2196.54,1597.92 2202.98,1598.65 2209.42,1598.69 2215.86,1599.42 2222.3,1598.76 2228.74,1598.79 2235.18,1598.83 2241.62,1598.16 2248.06,1598.9 2254.49,1598.93 2260.93,1598.97 2267.37,1599 2273.81,1599.04 2280.25,1598.37 2286.69,1598.41 2293.13,1599.14 2299.57,1598.48 2306,1599.21" fill="none" stroke="#000080" stroke-width="4.0" stroke-linejoin="round" />
</g>
<g id="inset1">
<rect x="400.1" y="398" width="70.6" height="87.6" fill="#FF9C9C" stroke="#FF0000" stroke-width="1.2"/>
<line x1="820.5" y1="123" x2="820.5" y2="529" stroke="#000" stroke-width="5" />
<line x1="181" y1="526.5" x2="823" y2="526.5" stroke="#000" stroke-width="5" />
<line x1="820.5" y1="525" x2="829.5" y2="525" stroke="#000" stroke-width="5" />
<line x1="820.5" y1="500" x2="826" y2="500" stroke="#000" stroke-width="5" />
<line x1="820.5" y1="475" x2="826" y2="475" stroke="#000" stroke-width="5" />
<line x1="820.5" y1="450" x2="826" y2="450" stroke="#000" stroke-width="5" />
<line x1="820.5" y1="425" x2="829.5" y2="425" stroke="#000" stroke-width="5" />
<line x1="820.5" y1="400" x2="826" y2="400" stroke="#000" stroke-width="5" />
<line x1="820.5" y1="375" x2="826" y2="375" stroke="#000" stroke-width="5" />
<line x1="820.5" y1="350" x2="826" y2="350" stroke="#000" stroke-width="5" />
<line x1="820.5" y1="325" x2="829.5" y2="325" stroke="#000" stroke-width="5" />
<line x1="820.5" y1="300" x2="826" y2="300" stroke="#000" stroke-width="5" />
<line x1="820.5" y1="275" x2="826" y2="275" stroke="#000" stroke-width="5" />
<line x1="820.5" y1="250" x2="826" y2="250" stroke="#000" stroke-width="5" />
<line x1="820.5" y1="225" x2="829.5" y2="225" stroke="#000" stroke-width="5" />
<line x1="820.5" y1="200" x2="826" y2="200" stroke="#000" stroke-width="5" />
<line x1="820.5" y1="175" x2="826" y2="175" stroke="#000" stroke-width="5" />
<line x1="820.5" y1="150" x2="826" y2="150" stroke="#000" stroke-width="5" />
<text transform="translate(834.3 538) scale(1 1.058)" font-family="'Liberation Sans', sans-serif" font-size="43.7" text-anchor="start">0</text>
<text transform="translate(834.3 438) scale(1 1.058)" font-family="'Liberation Sans', sans-serif" font-size="43.7" text-anchor="start">100</text>
<text transform="translate(834.3 338) scale(1 1.058)" font-family="'Liberation Sans', sans-serif" font-size="43.7" text-anchor="start">200</text>
<text transform="translate(834.3 238) scale(1 1.058)" font-family="'Liberation Sans', sans-serif" font-size="43.7" text-anchor="start">300</text>
<text transform="translate(948 324.7) rotate(-90)" font-family="'Liberation Sans', sans-serif" font-size="44.6" font-weight="bold" text-anchor="middle">Intensity / a.u.</text>
<line x1="233.5" y1="526.5" x2="233.5" y2="534.5" stroke="#000" stroke-width="5" />
<text x="233.5" y="571.5" font-family="'Liberation Sans', sans-serif" font-size="42" font-weight="bold" text-anchor="middle" >RT</text>
<line x1="300.5" y1="526.5" x2="300.5" y2="534.5" stroke="#000" stroke-width="5" />
<text x="300.5" y="571.5" font-family="'Liberation Sans', sans-serif" font-size="42" font-weight="bold" text-anchor="middle" >60</text>
<line x1="367.5" y1="526.5" x2="367.5" y2="534.5" stroke="#000" stroke-width="5" />
<text x="367.5" y="571.5" font-family="'Liberation Sans', sans-serif" font-size="42" font-weight="bold" text-anchor="middle" >65</text>
<line x1="434.5" y1="526.5" x2="434.5" y2="534.5" stroke="#000" stroke-width="5" />
<text x="434.5" y="571.5" font-family="'Liberation Sans', sans-serif" font-size="42" font-weight="bold" text-anchor="middle" >70</text>
<line x1="501.5" y1="526.5" x2="501.5" y2="534.5" stroke="#000" stroke-width="5" />
<text x="501.5" y="571.5" font-family="'Liberation Sans', sans-serif" font-size="42" font-weight="bold" text-anchor="middle" >75</text>
<line x1="568.5" y1="526.5" x2="568.5" y2="534.5" stroke="#000" stroke-width="5" />
<text x="568.5" y="571.5" font-family="'Liberation Sans', sans-serif" font-size="42" font-weight="bold" text-anchor="middle" >80</text>
<line x1="635.5" y1="526.5" x2="635.5" y2="534.5" stroke="#000" stroke-width="5" />
<text x="635.5" y="571.5" font-family="'Liberation Sans', sans-serif" font-size="42" font-weight="bold" text-anchor="middle" >85</text>
<line x1="702.5" y1="526.5" x2="702.5" y2="534.5" stroke="#000" stroke-width="5" />
<text x="702.5" y="571.5" font-family="'Liberation Sans', sans-serif" font-size="42" font-weight="bold" text-anchor="middle" >90</text>
<line x1="769.5" y1="526.5" x2="769.5" y2="534.5" stroke="#000" stroke-width="5" />
<text x="769.5" y="571.5" font-family="'Liberation Sans', sans-serif" font-size="42" font-weight="bold" text-anchor="middle" >95</text>
<text x="502" y="643" font-family="'Liberation Sans', sans-serif" font-size="42" font-weight="bold" text-anchor="middle" >Temperature / °C</text>
<path d="M233 159.9 L251.6 178.5 L233 197.1 L214.4 178.5 Z" fill="none" stroke="#0000FF" stroke-width="5" stroke-linejoin="round"/>
<path d="M300.3 344.6 L318.9 363.2 L300.3 381.8 L281.7 363.2 Z" fill="none" stroke="#00FF00" stroke-width="5" stroke-linejoin="round"/>
<path d="M368.1 410 L386.7 428.6 L368.1 447.2 L349.5 428.6 Z" fill="none" stroke="#FFFF00" stroke-width="5" stroke-linejoin="round"/>
<path d="M435.1 425.8 L453.7 444.4 L435.1 463 L416.5 444.4 Z" fill="#FFFFFF" stroke="#FF8000" stroke-width="5" stroke-linejoin="round"/>
<path d="M502.1 459.9 L520.7 478.5 L502.1 497.1 L483.5 478.5 Z" fill="none" stroke="#FF0000" stroke-width="5" stroke-linejoin="round"/>
<path d="M568.5 468.2 L587.1 486.8 L568.5 505.4 L549.9 486.8 Z" fill="none" stroke="#FF0000" stroke-width="5" stroke-linejoin="round"/>
<path d="M635.4 482.1 L654 500.7 L635.4 519.3 L616.8 500.7 Z" fill="none" stroke="#FF0000" stroke-width="5" stroke-linejoin="round"/>
<path d="M702.4 489 L721 507.6 L702.4 526.2 L683.8 507.6 Z" fill="none" stroke="#FF0000" stroke-width="5" stroke-linejoin="round"/>
<path d="M769.3 493.6 L787.9 512.2 L769.3 530.8 L750.7 512.2 Z" fill="none" stroke="#FF0000" stroke-width="5" stroke-linejoin="round"/>
</g>
<g id="inset2">
<rect x="1388" y="127" width="350" height="397" fill="#FFFF80"/>
<line x1="1100" y1="238.5" x2="1737" y2="238.5" stroke="#FF0000" stroke-width="4.6" />
<line x1="1100" y1="413.6" x2="1737" y2="413.6" stroke="#FF0000" stroke-width="4.6" />
<defs>
<linearGradient id="g0" x1="0" y1="0" x2="0" y2="1"><stop offset="0" stop-color="#0A8CFF"/><stop offset="0.06" stop-color="#0A8CFF"/><stop offset="0.42" stop-color="#84C5FF"/><stop offset="0.78" stop-color="#F2F2F4"/><stop offset="0.88" stop-color="#FFFFFF"/><stop offset="1" stop-color="#FFFFFF"/></linearGradient>
<clipPath id="c0"><rect x="1128.15" y="220" width="53.5" height="306.4"/></clipPath>
<linearGradient id="g1" x1="0" y1="0" x2="0" y2="1"><stop offset="0" stop-color="#0000FF"/><stop offset="0.06" stop-color="#0000FF"/><stop offset="0.42" stop-color="#7F7FFF"/><stop offset="0.78" stop-color="#F2F2F4"/><stop offset="0.88" stop-color="#FFFFFF"/><stop offset="1" stop-color="#FFFFFF"/></linearGradient>
<clipPath id="c1"><rect x="1195.26" y="193.3" width="53.5" height="333.1"/></clipPath>
<linearGradient id="g2" x1="0" y1="0" x2="0" y2="1"><stop offset="0" stop-color="#0000FF"/><stop offset="0.06" stop-color="#0000FF"/><stop offset="0.42" stop-color="#7F7FFF"/><stop offset="0.78" stop-color="#F2F2F4"/><stop offset="0.88" stop-color="#FFFFFF"/><stop offset="1" stop-color="#FFFFFF"/></linearGradient>
<clipPath id="c2"><rect x="1262.37" y="183.1" width="53.5" height="343.3"/></clipPath>
<linearGradient id="g3" x1="0" y1="0" x2="0" y2="1"><stop offset="0" stop-color="#00FFFF"/><stop offset="0.06" stop-color="#00FFFF"/><stop offset="0.42" stop-color="#7FFFFF"/><stop offset="0.78" stop-color="#F2F2F4"/><stop offset="0.88" stop-color="#FFFFFF"/><stop offset="1" stop-color="#FFFFFF"/></linearGradient>
<clipPath id="c3"><rect x="1329.48" y="253.4" width="53.5" height="273"/></clipPath>
<linearGradient id="g4" x1="0" y1="0" x2="0" y2="1"><stop offset="0" stop-color="#FF8000"/><stop offset="0.06" stop-color="#FF8000"/><stop offset="0.42" stop-color="#FFBF7F"/><stop offset="0.78" stop-color="#F2F2F4"/><stop offset="0.88" stop-color="#FFFFFF"/><stop offset="1" stop-color="#FFFFFF"/></linearGradient>
<clipPath id="c4"><rect x="1396.59" y="405.5" width="53.5" height="120.9"/></clipPath>
<linearGradient id="g5" x1="0" y1="0" x2="0" y2="1"><stop offset="0" stop-color="#FF0000"/><stop offset="0.06" stop-color="#FF0000"/><stop offset="0.42" stop-color="#FF7F7F"/><stop offset="0.78" stop-color="#F2F2F4"/><stop offset="0.88" stop-color="#FFFFFF"/><stop offset="1" stop-color="#FFFFFF"/></linearGradient>
<clipPath id="c5"><rect x="1463.7" y="431.5" width="53.5" height="94.9"/></clipPath>
<linearGradient id="g6" x1="0" y1="0" x2="0" y2="1"><stop offset="0" stop-color="#FF0000"/><stop offset="0.06" stop-color="#FF0000"/><stop offset="0.42" stop-color="#FF7F7F"/><stop offset="0.78" stop-color="#F2F2F4"/><stop offset="0.88" stop-color="#FFFFFF"/><stop offset="1" stop-color="#FFFFFF"/></linearGradient>
<clipPath id="c6"><rect x="1530.81" y="438.3" width="53.5" height="88.1"/></clipPath>
<linearGradient id="g7" x1="0" y1="0" x2="0" y2="1"><stop offset="0" stop-color="#FF0000"/><stop offset="0.06" stop-color="#FF0000"/><stop offset="0.42" stop-color="#FF7F7F"/><stop offset="0.78" stop-color="#F2F2F4"/><stop offset="0.88" stop-color="#FFFFFF"/><stop offset="1" stop-color="#FFFFFF"/></linearGradient>
<clipPath id="c7"><rect x="1597.92" y="447.3" width="53.5" height="79.1"/></clipPath>
<linearGradient id="g8" x1="0" y1="0" x2="0" y2="1"><stop offset="0" stop-color="#1A1A1A"/><stop offset="0.06" stop-color="#1A1A1A"/><stop offset="0.42" stop-color="#8C8C8C"/><stop offset="0.78" stop-color="#F2F2F4"/><stop offset="0.88" stop-color="#FFFFFF"/><stop offset="1" stop-color="#FFFFFF"/></linearGradient>
<clipPath id="c8"><rect x="1665.03" y="450.5" width="53.5" height="75.9"/></clipPath>
</defs>
<rect x="1128.15" y="220" width="53.5" height="306.4" fill="url(#g0)"/>
<path d="M1128.15 182.3 l54 -54 M1128.15 201.15 l54 -54 M1128.15 220 l54 -54 M1128.15 238.85 l54 -54 M1128.15 257.7 l54 -54 M1128.15 276.55 l54 -54 M1128.15 295.4 l54 -54 M1128.15 314.25 l54 -54 M1128.15 333.1 l54 -54 M1128.15 351.95 l54 -54 M1128.15 370.8 l54 -54 M1128.15 389.65 l54 -54 M1128.15 408.5 l54 -54 M1128.15 427.35 l54 -54 M1128.15 446.2 l54 -54 M1128.15 465.05 l54 -54 M1128.15 483.9 l54 -54 M1128.15 502.75 l54 -54 M1128.15 521.6 l54 -54 M1128.15 540.45 l54 -54 M1128.15 559.3 l54 -54 M1128.15 578.15 l54 -54" stroke="#000080" stroke-width="1" fill="none" clip-path="url(#c0)"/>
<rect x="1128.15" y="220" width="53.5" height="306.4" fill="none" stroke="#000080" stroke-width="1.3"/>
<rect x="1195.26" y="193.3" width="53.5" height="333.1" fill="url(#g1)"/>
<path d="M1195.26 155.6 l54 -54 M1195.26 174.45 l54 -54 M1195.26 193.3 l54 -54 M1195.26 212.15 l54 -54 M1195.26 231 l54 -54 M1195.26 249.85 l54 -54 M1195.26 268.7 l54 -54 M1195.26 287.55 l54 -54 M1195.26 306.4 l54 -54 M1195.26 325.25 l54 -54 M1195.26 344.1 l54 -54 M1195.26 362.95 l54 -54 M1195.26 381.8 l54 -54 M1195.26 400.65 l54 -54 M1195.26 419.5 l54 -54 M1195.26 438.35 l54 -54 M1195.26 457.2 l54 -54 M1195.26 476.05 l54 -54 M1195.26 494.9 l54 -54 M1195.26 513.75 l54 -54 M1195.26 532.6 l54 -54 M1195.26 551.45 l54 -54 M1195.26 570.3 l54 -54" stroke="#000080" stroke-width="1" fill="none" clip-path="url(#c1)"/>
<rect x="1195.26" y="193.3" width="53.5" height="333.1" fill="none" stroke="#000080" stroke-width="1.3"/>
<rect x="1262.37" y="183.1" width="53.5" height="343.3" fill="url(#g2)"/>
<path d="M1262.37 145.4 l54 -54 M1262.37 164.25 l54 -54 M1262.37 183.1 l54 -54 M1262.37 201.95 l54 -54 M1262.37 220.8 l54 -54 M1262.37 239.65 l54 -54 M1262.37 258.5 l54 -54 M1262.37 277.35 l54 -54 M1262.37 296.2 l54 -54 M1262.37 315.05 l54 -54 M1262.37 333.9 l54 -54 M1262.37 352.75 l54 -54 M1262.37 371.6 l54 -54 M1262.37 390.45 l54 -54 M1262.37 409.3 l54 -54 M1262.37 428.15 l54 -54 M1262.37 447 l54 -54 M1262.37 465.85 l54 -54 M1262.37 484.7 l54 -54 M1262.37 503.55 l54 -54 M1262.37 522.4 l54 -54 M1262.37 541.25 l54 -54 M1262.37 560.1 l54 -54 M1262.37 578.95 l54 -54" stroke="#000080" stroke-width="1" fill="none" clip-path="url(#c2)"/>
<rect x="1262.37" y="183.1" width="53.5" height="343.3" fill="none" stroke="#000080" stroke-width="1.3"/>
<rect x="1329.48" y="253.4" width="53.5" height="273" fill="url(#g3)"/>
<path d="M1329.48 215.7 l54 -54 M1329.48 234.55 l54 -54 M1329.48 253.4 l54 -54 M1329.48 272.25 l54 -54 M1329.48 291.1 l54 -54 M1329.48 309.95 l54 -54 M1329.48 328.8 l54 -54 M1329.48 347.65 l54 -54 M1329.48 366.5 l54 -54 M1329.48 385.35 l54 -54 M1329.48 404.2 l54 -54 M1329.48 423.05 l54 -54 M1329.48 441.9 l54 -54 M1329.48 460.75 l54 -54 M1329.48 479.6 l54 -54 M1329.48 498.45 l54 -54 M1329.48 517.3 l54 -54 M1329.48 536.15 l54 -54 M1329.48 555 l54 -54 M1329.48 573.85 l54 -54" stroke="#000080" stroke-width="1" fill="none" clip-path="url(#c3)"/>
<rect x="1329.48" y="253.4" width="53.5" height="273" fill="none" stroke="#000080" stroke-width="1.3"/>
<rect x="1396.59" y="405.5" width="53.5" height="120.9" fill="url(#g4)"/>
<path d="M1396.59 367.8 l54 -54 M1396.59 386.65 l54 -54 M1396.59 405.5 l54 -54 M1396.59 424.35 l54 -54 M1396.59 443.2 l54 -54 M1396.59 462.05 l54 -54 M1396.59 480.9 l54 -54 M1396.59 499.75 l54 -54 M1396.59 518.6 l54 -54 M1396.59 537.45 l54 -54 M1396.59 556.3 l54 -54 M1396.59 575.15 l54 -54" stroke="#000080" stroke-width="1" fill="none" clip-path="url(#c4)"/>
<rect x="1396.59" y="405.5" width="53.5" height="120.9" fill="none" stroke="#000080" stroke-width="1.3"/>
<rect x="1463.7" y="431.5" width="53.5" height="94.9" fill="url(#g5)"/>
<path d="M1463.7 393.8 l54 -54 M1463.7 412.65 l54 -54 M1463.7 431.5 l54 -54 M1463.7 450.35 l54 -54 M1463.7 469.2 l54 -54 M1463.7 488.05 l54 -54 M1463.7 506.9 l54 -54 M1463.7 525.75 l54 -54 M1463.7 544.6 l54 -54 M1463.7 563.45 l54 -54 M1463.7 582.3 l54 -54" stroke="#000080" stroke-width="1" fill="none" clip-path="url(#c5)"/>
<rect x="1463.7" y="431.5" width="53.5" height="94.9" fill="none" stroke="#000080" stroke-width="1.3"/>
<rect x="1530.81" y="438.3" width="53.5" height="88.1" fill="url(#g6)"/>
<path d="M1530.81 400.6 l54 -54 M1530.81 419.45 l54 -54 M1530.81 438.3 l54 -54 M1530.81 457.15 l54 -54 M1530.81 476 l54 -54 M1530.81 494.85 l54 -54 M1530.81 513.7 l54 -54 M1530.81 532.55 l54 -54 M1530.81 551.4 l54 -54 M1530.81 570.25 l54 -54" stroke="#000080" stroke-width="1" fill="none" clip-path="url(#c6)"/>
<rect x="1530.81" y="438.3" width="53.5" height="88.1" fill="none" stroke="#000080" stroke-width="1.3"/>
<rect x="1597.92" y="447.3" width="53.5" height="79.1" fill="url(#g7)"/>
<path d="M1597.92 409.6 l54 -54 M1597.92 428.45 l54 -54 M1597.92 447.3 l54 -54 M1597.92 466.15 l54 -54 M1597.92 485 l54 -54 M1597.92 503.85 l54 -54 M1597.92 522.7 l54 -54 M1597.92 541.55 l54 -54 M1597.92 560.4 l54 -54 M1597.92 579.25 l54 -54" stroke="#000080" stroke-width="1" fill="none" clip-path="url(#c7)"/>
<rect x="1597.92" y="447.3" width="53.5" height="79.1" fill="none" stroke="#000080" stroke-width="1.3"/>
<rect x="1665.03" y="450.5" width="53.5" height="75.9" fill="url(#g8)"/>
<path d="M1665.03 412.8 l54 -54 M1665.03 431.65 l54 -54 M1665.03 450.5 l54 -54 M1665.03 469.35 l54 -54 M1665.03 488.2 l54 -54 M1665.03 507.05 l54 -54 M1665.03 525.9 l54 -54 M1665.03 544.75 l54 -54 M1665.03 563.6 l54 -54 M1665.03 582.45 l54 -54" stroke="#000080" stroke-width="1" fill="none" clip-path="url(#c8)"/>
<rect x="1665.03" y="450.5" width="53.5" height="75.9" fill="none" stroke="#000080" stroke-width="1.3"/>
<line x1="1105" y1="125.5" x2="1105" y2="528.9" stroke="#000" stroke-width="5" />
<line x1="1102.5" y1="526.4" x2="1743.8" y2="526.4" stroke="#000" stroke-width="5" />
<line x1="1741.3" y1="123" x2="1741.3" y2="528.9" stroke="#000" stroke-width="5" />
<line x1="1741.3" y1="525.78" x2="1746.8" y2="525.78" stroke="#000" stroke-width="5" />
<line x1="1741.3" y1="508.36" x2="1746.8" y2="508.36" stroke="#000" stroke-width="5" />
<line x1="1741.3" y1="490.94" x2="1746.8" y2="490.94" stroke="#000" stroke-width="5" />
<line x1="1741.3" y1="473.52" x2="1746.8" y2="473.52" stroke="#000" stroke-width="5" />
<line x1="1741.3" y1="456.1" x2="1750.8" y2="456.1" stroke="#000" stroke-width="5" />
<line x1="1741.3" y1="438.68" x2="1746.8" y2="438.68" stroke="#000" stroke-width="5" />
<line x1="1741.3" y1="421.26" x2="1746.8" y2="421.26" stroke="#000" stroke-width="5" />
<line x1="1741.3" y1="403.84" x2="1746.8" y2="403.84" stroke="#000" stroke-width="5" />
<line x1="1741.3" y1="386.42" x2="1746.8" y2="386.42" stroke="#000" stroke-width="5" />
<line x1="1741.3" y1="369" x2="1750.8" y2="369" stroke="#000" stroke-width="5" />
<line x1="1741.3" y1="351.58" x2="1746.8" y2="351.58" stroke="#000" stroke-width="5" />
<line x1="1741.3" y1="334.16" x2="1746.8" y2="334.16" stroke="#000" stroke-width="5" />
<line x1="1741.3" y1="316.74" x2="1746.8" y2="316.74" stroke="#000" stroke-width="5" />
<line x1="1741.3" y1="299.32" x2="1746.8" y2="299.32" stroke="#000" stroke-width="5" />
<line x1="1741.3" y1="281.9" x2="1750.8" y2="281.9" stroke="#000" stroke-width="5" />
<line x1="1741.3" y1="264.48" x2="1746.8" y2="264.48" stroke="#000" stroke-width="5" />
<line x1="1741.3" y1="247.06" x2="1746.8" y2="247.06" stroke="#000" stroke-width="5" />
<line x1="1741.3" y1="229.64" x2="1746.8" y2="229.64" stroke="#000" stroke-width="5" />
<line x1="1741.3" y1="212.22" x2="1746.8" y2="212.22" stroke="#000" stroke-width="5" />
<line x1="1741.3" y1="194.8" x2="1750.8" y2="194.8" stroke="#000" stroke-width="5" />
<line x1="1741.3" y1="177.38" x2="1746.8" y2="177.38" stroke="#000" stroke-width="5" />
<line x1="1741.3" y1="159.96" x2="1746.8" y2="159.96" stroke="#000" stroke-width="5" />
<line x1="1741.3" y1="142.54" x2="1746.8" y2="142.54" stroke="#000" stroke-width="5" />
<text transform="translate(1755 208) scale(1 1.058)" font-family="'Liberation Sans', sans-serif" font-size="43.7" text-anchor="start">28.00</text>
<text transform="translate(1755 295.1) scale(1 1.058)" font-family="'Liberation Sans', sans-serif" font-size="43.7" text-anchor="start">27.95</text>
<text transform="translate(1755 382.2) scale(1 1.058)" font-family="'Liberation Sans', sans-serif" font-size="43.7" text-anchor="start">27.90</text>
<text transform="translate(1755 469.3) scale(1 1.058)" font-family="'Liberation Sans', sans-serif" font-size="43.7" text-anchor="start">27.85</text>
<text transform="translate(1906.5 286) rotate(-90)" font-family="'Liberation Sans', sans-serif" font-size="44.6" font-weight="bold" text-anchor="middle">Shift / °2<tspan font-family="'Liberation Serif', serif" font-weight="normal">θ</tspan></text>
<line x1="1154.5" y1="526.4" x2="1154.5" y2="533.8" stroke="#000" stroke-width="5" />
<text x="1154.5" y="571.5" font-family="'Liberation Sans', sans-serif" font-size="42" font-weight="bold" text-anchor="middle" >RT</text>
<line x1="1221.61" y1="526.4" x2="1221.61" y2="533.8" stroke="#000" stroke-width="5" />
<text x="1221.61" y="571.5" font-family="'Liberation Sans', sans-serif" font-size="42" font-weight="bold" text-anchor="middle" >60</text>
<line x1="1288.72" y1="526.4" x2="1288.72" y2="533.8" stroke="#000" stroke-width="5" />
<text x="1288.72" y="571.5" font-family="'Liberation Sans', sans-serif" font-size="42" font-weight="bold" text-anchor="middle" >65</text>
<line x1="1355.83" y1="526.4" x2="1355.83" y2="533.8" stroke="#000" stroke-width="5" />
<text x="1355.83" y="571.5" font-family="'Liberation Sans', sans-serif" font-size="42" font-weight="bold" text-anchor="middle" >70</text>
<line x1="1422.94" y1="526.4" x2="1422.94" y2="533.8" stroke="#000" stroke-width="5" />
<text x="1422.94" y="571.5" font-family="'Liberation Sans', sans-serif" font-size="42" font-weight="bold" text-anchor="middle" >75</text>
<line x1="1490.05" y1="526.4" x2="1490.05" y2="533.8" stroke="#000" stroke-width="5" />
<text x="1490.05" y="571.5" font-family="'Liberation Sans', sans-serif" font-size="42" font-weight="bold" text-anchor="middle" >80</text>
<line x1="1557.16" y1="526.4" x2="1557.16" y2="533.8" stroke="#000" stroke-width="5" />
<text x="1557.16" y="571.5" font-family="'Liberation Sans', sans-serif" font-size="42" font-weight="bold" text-anchor="middle" >85</text>
<line x1="1624.27" y1="526.4" x2="1624.27" y2="533.8" stroke="#000" stroke-width="5" />
<text x="1624.27" y="571.5" font-family="'Liberation Sans', sans-serif" font-size="42" font-weight="bold" text-anchor="middle" >90</text>
<line x1="1691.38" y1="526.4" x2="1691.38" y2="533.8" stroke="#000" stroke-width="5" />
<text x="1691.38" y="571.5" font-family="'Liberation Sans', sans-serif" font-size="42" font-weight="bold" text-anchor="middle" >95</text>
<text x="1422.8" y="641.4" font-family="'Liberation Sans', sans-serif" font-size="42" font-weight="bold" text-anchor="middle" >Temperature / °C</text>
<text x="1419.5" y="194.7" font-family="'Liberation Sans', sans-serif" font-size="56">Δ</text>
<text x="1456.5" y="194.7" font-family="'Liberation Sans', sans-serif" font-size="54.5" font-weight="bold" textLength="31" lengthAdjust="spacingAndGlyphs">T</text>
<text x="1489" y="215.9" font-family="'Liberation Sans', sans-serif" font-size="39.5" font-weight="bold" textLength="31" lengthAdjust="spacingAndGlyphs">m</text>
<text x="1521.7" y="224.2" font-family="'DejaVu Sans', sans-serif" font-weight="200" font-size="58" textLength="46.5" lengthAdjust="spacingAndGlyphs">→</text>
<text x="1575" y="215.9" font-family="'Liberation Sans', sans-serif" font-size="39.5" font-weight="bold" textLength="14.5" lengthAdjust="spacingAndGlyphs">t</text>
<text x="1604.5" y="194.7" font-family="'Liberation Sans', sans-serif" font-size="54.5" font-weight="bold" textLength="75" lengthAdjust="spacingAndGlyphs">(V)</text>
<text x="1443" y="297.6" font-family="'Liberation Sans', sans-serif" font-size="54.5" font-weight="bold" textLength="228" lengthAdjust="spacingAndGlyphs">70 - 75°C</text>
</g>
<g id="legend">
<line x1="250" y1="728.7" x2="350" y2="728.7" stroke="#000000" stroke-width="3.6" />
<text x="358.5" y="743" font-family="'Liberation Sans', sans-serif" font-size="36" font-weight="bold" textLength="319" lengthAdjust="spacingAndGlyphs">V blade40 RT 1.5° 1</text>
<line x1="250" y1="782.05" x2="350" y2="782.05" stroke="#404040" stroke-width="3.6" />
<text x="358.5" y="796.35" font-family="'Liberation Sans', sans-serif" font-size="36" font-weight="bold" textLength="350.5" lengthAdjust="spacingAndGlyphs">V blade40 60°C 1.5° 1</text>
<line x1="250" y1="835.4" x2="350" y2="835.4" stroke="#808080" stroke-width="3.6" />
<text x="358.5" y="849.7" font-family="'Liberation Sans', sans-serif" font-size="36" font-weight="bold" textLength="350.5" lengthAdjust="spacingAndGlyphs">V blade40 65°C 1.5° 1</text>
<line x1="250" y1="888.75" x2="350" y2="888.75" stroke="#C0C0C0" stroke-width="3.6" />
<text x="358.5" y="903.05" font-family="'Liberation Sans', sans-serif" font-size="36" font-weight="bold" textLength="350.5" lengthAdjust="spacingAndGlyphs">V blade40 70°C 1.5° 1</text>
<line x1="250" y1="942.1" x2="350" y2="942.1" stroke="#00FFFF" stroke-width="3.6" />
<text x="358.5" y="956.4" font-family="'Liberation Sans', sans-serif" font-size="36" font-weight="bold" textLength="350.5" lengthAdjust="spacingAndGlyphs">V blade40 75°C 1.5° 1</text>
<line x1="250" y1="995.45" x2="350" y2="995.45" stroke="#00FFFF" stroke-width="3.6" />
<text x="358.5" y="1009.75" font-family="'Liberation Sans', sans-serif" font-size="36" font-weight="bold" textLength="350.5" lengthAdjust="spacingAndGlyphs">V blade40 80°C 1.5° 1</text>
<line x1="250" y1="1048.8" x2="350" y2="1048.8" stroke="#0000FF" stroke-width="3.6" />
<text x="358.5" y="1063.1" font-family="'Liberation Sans', sans-serif" font-size="36" font-weight="bold" textLength="350.5" lengthAdjust="spacingAndGlyphs">V blade40 85°C 1.5° 1</text>
<line x1="250" y1="1102.15" x2="350" y2="1102.15" stroke="#0000B0" stroke-width="3.6" />
<text x="358.5" y="1116.45" font-family="'Liberation Sans', sans-serif" font-size="36" font-weight="bold" textLength="350.5" lengthAdjust="spacingAndGlyphs">V blade40 90°C 1.5° 1</text>
<line x1="250" y1="1155.5" x2="350" y2="1155.5" stroke="#000080" stroke-width="3.6" />
<text x="358.5" y="1169.8" font-family="'Liberation Sans', sans-serif" font-size="36" font-weight="bold" textLength="350.5" lengthAdjust="spacingAndGlyphs">V blade40 95°C 1.5° 1</text>
</g>
<g id="inset3">
<defs><clipPath id="tclip"><path d="M1200.58 1126.6 L1200.58 1126.6 L1200.77 1092.44 L1200.96 1077.36 L1201.15 1078.31 L1201.34 1075.21 L1201.53 1071.97 L1201.72 1069.53 L1201.91 1068.3 L1202.1 1066.04 L1202.29 1064.41 L1202.48 1065.48 L1202.67 1060.73 L1202.85 1061.72 L1203.04 1058.55 L1203.23 1058.14 L1203.42 1061.2 L1203.61 1059.64 L1203.8 1057.16 L1203.99 1057.06 L1204.18 1058.38 L1204.37 1055.66 L1204.56 1057.02 L1204.75 1052.21 L1204.94 1057.22 L1205.12 1055.74 L1205.31 1043.6 L1205.5 1056.71 L1205.69 1051.84 L1205.88 1050.26 L1206.07 1051.98 L1206.26 1051.12 L1206.45 1053.15 L1206.64 1053.48 L1206.83 1052.28 L1207.02 1052.69 L1207.21 1051.41 L1207.4 1052.92 L1207.58 1050.32 L1207.77 1050.3 L1207.96 1042 L1208.15 1047.77 L1208.34 1048.65 L1208.53 1051.71 L1208.72 1047.32 L1208.91 1046.17 L1209.1 1051.07 L1209.29 1049.83 L1209.48 1043.86 L1209.67 1046.11 L1209.86 1045.22 L1210.04 1049.35 L1210.23 1047.63 L1210.42 1044.84 L1210.61 1046.38 L1210.8 1047.48 L1210.99 1041.12 L1211.18 1043.45 L1211.37 1044.05 L1211.56 1047.32 L1211.75 1044.06 L1211.94 1042.88 L1212.13 1043.76 L1212.31 1044.24 L1212.5 1043.07 L1212.69 1044.06 L1212.88 1043.76 L1213.07 1043.51 L1213.26 1041.92 L1213.45 1043.63 L1213.64 1040.9 L1213.83 1041.09 L1214.02 1041.78 L1214.21 1041.48 L1214.4 1035.83 L1214.59 1046.85 L1214.77 1042.33 L1214.96 1041.36 L1215.15 1039.22 L1215.34 1044.26 L1215.53 1041.49 L1215.72 1038.53 L1215.91 1045.77 L1216.1 1039.06 L1216.29 1043.18 L1216.48 1039.59 L1216.67 1040.3 L1216.86 1038.41 L1217.05 1044.12 L1217.23 1038.17 L1217.42 1040.45 L1217.61 1038.4 L1217.8 1038.55 L1217.99 1036.6 L1218.18 1041.93 L1218.37 1043.77 L1218.56 1042.53 L1218.75 1038.8 L1218.94 1040.93 L1219.13 1040.35 L1219.32 1035.47 L1219.5 1042.28 L1219.69 1035.59 L1219.88 1037.47 L1220.07 1037.36 L1220.26 1035.86 L1220.45 1035.09 L1220.64 1039.36 L1220.83 1029.59 L1221.02 1038.27 L1221.21 1035.77 L1221.4 1038.45 L1221.59 1037.17 L1221.78 1036.01 L1221.96 1038.68 L1222.15 1038.1 L1222.34 1035.71 L1222.53 1038.16 L1222.72 1035.43 L1222.91 1038.21 L1223.1 1040.38 L1223.29 1037.06 L1223.48 1036.5 L1223.67 1037.95 L1223.86 1038.38 L1224.05 1037.3 L1224.24 1036.44 L1224.42 1037.49 L1224.61 1037.09 L1224.8 1033.17 L1224.99 1036.16 L1225.18 1040.68 L1225.37 1038.66 L1225.56 1036.36 L1225.75 1038.41 L1225.94 1036.65 L1226.13 1032.81 L1226.32 1039.36 L1226.51 1032.55 L1226.69 1037.31 L1226.88 1036.67 L1227.07 1039.38 L1227.26 1038.87 L1227.45 1034.09 L1227.64 1033.25 L1227.83 1031.98 L1228.02 1039.16 L1228.21 1037.5 L1228.4 1034.31 L1228.59 1034.53 L1228.78 1033.82 L1228.97 1034.98 L1229.15 1038.37 L1229.34 1039.2 L1229.53 1033.08 L1229.72 1030.22 L1229.91 1033.17 L1230.1 1032.04 L1230.29 1035.05 L1230.48 1036.83 L1230.67 1032.21 L1230.86 1037.16 L1231.05 1033 L1231.24 1030.16 L1231.43 1034.12 L1231.61 1031 L1231.8 1033.09 L1231.99 1027.43 L1232.18 1033.67 L1232.37 1036.68 L1232.56 1033.64 L1232.75 1035.69 L1232.94 1034.91 L1233.13 1032.89 L1233.32 1033.32 L1233.51 1034.82 L1233.7 1036.51 L1233.88 1035.09 L1234.07 1035.14 L1234.26 1037.29 L1234.45 1037.7 L1234.64 1033.93 L1234.83 1036.66 L1235.02 1036.58 L1235.21 1033.3 L1235.4 1036.76 L1235.59 1031.63 L1235.78 1033.9 L1235.97 1034.17 L1236.16 1034.12 L1236.34 1034.22 L1236.53 1033.93 L1236.72 1035.38 L1236.91 1036 L1237.1 1035.69 L1237.29 1034.29 L1237.48 1029.47 L1237.67 1035.79 L1237.86 1032.89 L1238.05 1038.55 L1238.24 1033.01 L1238.43 1028.83 L1238.62 1034.56 L1238.8 1029.92 L1238.99 1034.23 L1239.18 1036.51 L1239.37 1035.66 L1239.56 1035.28 L1239.75 1038.34 L1239.94 1033.3 L1240.13 1034.5 L1240.32 1030.82 L1240.51 1033.37 L1240.7 1034.73 L1240.89 1037.91 L1241.07 1038.05 L1241.26 1034.44 L1241.45 1037.89 L1241.64 1036.4 L1241.83 1034.25 L1242.02 1033.81 L1242.21 1031.36 L1242.4 1032.01 L1242.59 1036.35 L1242.78 1034.22 L1242.97 1037.36 L1243.16 1038.46 L1243.35 1037.71 L1243.53 1034.55 L1243.72 1031.09 L1243.91 1031.97 L1244.1 1034.56 L1244.29 1035.56 L1244.48 1034.2 L1244.67 1034.2 L1244.86 1032.75 L1245.05 1027.83 L1245.24 1022.91 L1245.43 1017.99 L1245.62 1013.07 L1245.81 1008.15 L1245.99 1003.23 L1246.18 996.78 L1246.37 996.72 L1246.56 999.72 L1246.75 995.64 L1246.94 996.05 L1247.13 992 L1247.32 995.03 L1247.51 995.84 L1247.7 997.09 L1247.89 997.76 L1248.08 997.23 L1248.26 996.02 L1248.45 993.05 L1248.64 999.62 L1248.83 995.16 L1249.02 996.2 L1249.21 994.67 L1249.4 996.89 L1249.59 996.44 L1249.78 993.44 L1249.97 993.15 L1250.16 996.2 L1250.35 997.1 L1250.54 995.54 L1250.72 995.64 L1250.91 995.97 L1251.1 994.57 L1251.29 995.49 L1251.48 995.61 L1251.67 992.23 L1251.86 992.39 L1252.05 995.87 L1252.24 993.55 L1252.43 996.9 L1252.62 996.29 L1252.81 994.41 L1253 994.97 L1253.18 993.85 L1253.37 995.75 L1253.56 994.44 L1253.75 993.36 L1253.94 994.03 L1254.13 997.6 L1254.32 1000.11 L1254.51 995.22 L1254.7 997.08 L1254.89 995.07 L1255.08 994.3 L1255.27 996.64 L1255.45 994.53 L1255.64 993.32 L1255.83 995.02 L1256.02 996.6 L1256.21 995.43 L1256.4 993.6 L1256.59 990.59 L1256.78 989.21 L1256.97 998.28 L1257.16 994.31 L1257.35 993.56 L1257.54 993.06 L1257.73 992.08 L1257.91 996.63 L1258.1 996.37 L1258.29 996.74 L1258.48 989.42 L1258.67 997.18 L1258.86 994.47 L1259.05 994.58 L1259.24 992.91 L1259.43 990.71 L1259.62 988.64 L1259.81 993.69 L1260 995.87 L1260.19 997.73 L1260.37 991.44 L1260.56 993.35 L1260.75 992.87 L1260.94 992.24 L1261.13 994.67 L1261.32 996.93 L1261.51 994.66 L1261.7 994.3 L1261.89 991.64 L1262.08 995.44 L1262.27 994.1 L1262.46 986.44 L1262.64 993.02 L1262.83 995.08 L1263.02 994.66 L1263.21 991.93 L1263.4 996.47 L1263.59 997.15 L1263.78 993.85 L1263.97 988.97 L1264.16 991.65 L1264.35 993.59 L1264.54 994.02 L1264.73 990.98 L1264.92 992.13 L1265.1 993.47 L1265.29 992.72 L1265.48 990.52 L1265.67 992.37 L1265.86 988.83 L1266.05 993.62 L1266.24 992.4 L1266.43 991.58 L1266.62 994.42 L1266.81 996.24 L1267 992.28 L1267.19 994.77 L1267.38 992.86 L1267.56 993.04 L1267.75 993.46 L1267.94 991.31 L1268.13 995.77 L1268.32 994.24 L1268.51 992.53 L1268.7 990.8 L1268.89 993.04 L1269.08 991.86 L1269.27 993.93 L1269.46 991.8 L1269.65 992.28 L1269.83 993.86 L1270.02 996.85 L1270.21 995.4 L1270.4 993.22 L1270.59 989.21 L1270.78 996.54 L1270.97 990.07 L1271.16 993.35 L1271.35 993.63 L1271.54 990.25 L1271.73 994.16 L1271.92 988.61 L1272.11 993.81 L1272.29 994.77 L1272.48 997.79 L1272.67 993.03 L1272.86 993.58 L1273.05 988.76 L1273.24 994.71 L1273.43 995.47 L1273.62 992.43 L1273.81 992.35 L1274 996.41 L1274.19 994.74 L1274.38 994.46 L1274.57 993.2 L1274.75 994.13 L1274.94 991.73 L1275.13 994.98 L1275.32 993.9 L1275.51 992.07 L1275.7 991.44 L1275.89 992.01 L1276.08 993.11 L1276.27 991.29 L1276.46 993.35 L1276.65 997.08 L1276.84 992.41 L1277.02 994.65 L1277.21 993.38 L1277.4 994.57 L1277.59 990.96 L1277.78 989.94 L1277.97 998.1 L1278.16 989.55 L1278.35 992.23 L1278.54 1003.91 L1278.73 992.67 L1278.92 992.75 L1279.11 989.14 L1279.3 988.35 L1279.48 991.51 L1279.67 994.01 L1279.86 993.42 L1280.05 994.85 L1280.24 994.74 L1280.43 993.93 L1280.62 992.4 L1280.81 995.49 L1281 997.93 L1281.19 990.58 L1281.38 993.68 L1281.57 991.95 L1281.76 992.34 L1281.94 992.81 L1282.13 993.71 L1282.32 993.81 L1282.51 994.5 L1282.7 992.29 L1282.89 994.11 L1283.08 990.81 L1283.27 988.81 L1283.46 998.09 L1283.65 996.25 L1283.84 991.46 L1284.03 994.31 L1284.21 991.51 L1284.4 1000.53 L1284.59 994 L1284.78 990.8 L1284.97 991.66 L1285.16 992.14 L1285.35 991.84 L1285.54 991.34 L1285.73 991.66 L1285.92 992.76 L1286.11 992.13 L1286.3 993.73 L1286.49 993.02 L1286.67 990.84 L1286.86 994.62 L1287.05 992.77 L1287.24 994.42 L1287.43 992.48 L1287.62 994.16 L1287.81 994.97 L1288 993.28 L1288.19 1002.97 L1288.38 998.92 L1288.57 992.54 L1288.76 993.89 L1288.95 994.22 L1289.13 994.25 L1289.32 995.6 L1289.51 991.76 L1289.7 990.36 L1289.89 992.64 L1290.08 992.75 L1290.27 996.42 L1290.46 993.95 L1290.65 992.88 L1290.84 991.26 L1291.03 993.07 L1291.22 993.64 L1291.4 997.8 L1291.59 994.92 L1291.78 993.07 L1291.97 988.97 L1292.16 998.11 L1292.35 991.1 L1292.54 987.83 L1292.73 992 L1292.92 993.6 L1293.11 991.35 L1293.3 992.28 L1293.49 991.76 L1293.68 993.95 L1293.86 997.39 L1294.05 993.06 L1294.24 994.85 L1294.43 992.52 L1294.62 991.94 L1294.81 992.05 L1295 999.85 L1295.19 993.52 L1295.38 991.26 L1295.57 994.77 L1295.76 988.12 L1295.95 989.23 L1296.14 992.53 L1296.32 994.45 L1296.51 995.1 L1296.7 990.43 L1296.89 993 L1297.08 993.59 L1297.27 996.58 L1297.46 997.29 L1297.65 992.78 L1297.84 991.38 L1298.03 990.79 L1298.22 992.15 L1298.41 993.6 L1298.59 992.83 L1298.78 994.9 L1298.97 991.88 L1299.16 994.08 L1299.35 993.66 L1299.54 989.93 L1299.73 989.53 L1299.92 990.67 L1300.11 991.38 L1300.3 992.22 L1300.49 994.5 L1300.68 994.94 L1300.87 997.26 L1301.05 991.37 L1301.24 992.47 L1301.43 993.29 L1301.62 992.9 L1301.81 1002.19 L1302 994.41 L1302.19 992.12 L1302.38 990.41 L1302.57 992.48 L1302.76 994.06 L1302.95 989.04 L1303.14 991.72 L1303.32 989.18 L1303.51 992.79 L1303.7 993.05 L1303.89 994.94 L1304.08 992.4 L1304.27 992.95 L1304.46 995.95 L1304.65 993.19 L1304.84 990.47 L1305.03 994.45 L1305.22 993.16 L1305.41 983.26 L1305.6 993.03 L1305.78 991.51 L1305.97 992.98 L1306.16 994.67 L1306.35 992.64 L1306.54 988.68 L1306.73 995.69 L1306.92 997.61 L1307.11 994.18 L1307.3 996.58 L1307.49 994.44 L1307.68 993.65 L1307.87 989.14 L1308.06 983 L1308.24 990.14 L1308.43 991.81 L1308.62 993.9 L1308.81 995.52 L1309 990.54 L1309.19 991.88 L1309.38 999.57 L1309.57 990 L1309.76 995.53 L1309.95 987.38 L1310.14 995.84 L1310.33 991.67 L1310.51 989.34 L1310.7 991.03 L1310.89 989.6 L1311.08 992.99 L1311.27 991.33 L1311.46 995.09 L1311.65 988.38 L1311.84 993.28 L1312.03 993.25 L1312.22 992.66 L1312.41 994.7 L1312.6 983.55 L1312.79 994.84 L1312.97 991.93 L1313.16 994.86 L1313.35 992.78 L1313.54 992 L1313.73 990.82 L1313.92 993.22 L1314.11 988.24 L1314.3 998.53 L1314.49 993.44 L1314.68 993.52 L1314.87 992.28 L1315.06 995.58 L1315.25 990.47 L1315.43 992.57 L1315.62 993.2 L1315.81 991.04 L1316 994.25 L1316.19 992.69 L1316.38 990.75 L1316.57 992.86 L1316.76 995.72 L1316.95 990.8 L1317.14 989.8 L1317.33 991.89 L1317.52 991.07 L1317.7 991.38 L1317.89 991.36 L1318.08 992.31 L1318.27 991.36 L1318.46 992.27 L1318.65 991.97 L1318.84 994.05 L1319.03 993.07 L1319.22 990.89 L1319.41 992.03 L1319.6 993.12 L1319.79 992.02 L1319.98 995.95 L1320.16 993.5 L1320.35 993.61 L1320.54 990.98 L1320.73 992.49 L1320.92 995.66 L1321.11 992.91 L1321.3 994.48 L1321.49 994.11 L1321.68 995.21 L1321.87 991.82 L1322.06 992.48 L1322.25 989.81 L1322.44 994.08 L1322.62 996.53 L1322.81 994.52 L1323 999.13 L1323.19 991.25 L1323.38 993.92 L1323.57 993.98 L1323.76 994.35 L1323.95 994.29 L1324.14 991.74 L1324.33 990.3 L1324.52 997.42 L1324.71 994.01 L1324.89 993.21 L1325.08 993.79 L1325.27 993.01 L1325.46 993.38 L1325.65 995.19 L1325.84 994.89 L1326.03 993.17 L1326.22 993.68 L1326.41 994.68 L1326.6 991.48 L1326.79 988.81 L1326.98 994.68 L1327.17 991.9 L1327.35 993.03 L1327.54 991.51 L1327.73 994.25 L1327.92 993.13 L1328.11 992.65 L1328.3 991.9 L1328.49 994.36 L1328.68 994.54 L1328.87 991.12 L1329.06 993.31 L1329.25 992.01 L1329.44 994.9 L1329.63 990.28 L1329.81 990.28 L1330 993.1 L1330.19 991.01 L1330.38 992.84 L1330.57 992.76 L1330.76 992.84 L1330.95 991.24 L1331.14 994.76 L1331.33 995.07 L1331.52 992.49 L1331.71 993.43 L1331.9 992.67 L1332.08 993.94 L1332.27 992.6 L1332.46 992.87 L1332.65 992.89 L1332.84 991.99 L1333.03 992.6 L1333.22 994.67 L1333.41 992.59 L1333.6 994.04 L1333.79 992.33 L1333.98 995.74 L1334.17 992.21 L1334.36 993.99 L1334.54 993 L1334.73 994.99 L1334.92 993.02 L1335.11 991.47 L1335.3 990.85 L1335.49 992.11 L1335.68 995.32 L1335.87 990.2 L1336.06 994.74 L1336.25 994.79 L1336.44 996.12 L1336.63 992.14 L1336.82 993.08 L1337 990.26 L1337.19 992.42 L1337.38 995.57 L1337.57 988.06 L1337.76 992.48 L1337.95 993.2 L1338.14 994.94 L1338.33 989.6 L1338.52 996.2 L1338.71 993.43 L1338.9 995.08 L1339.09 991.73 L1339.27 991.96 L1339.46 994.64 L1339.65 998.19 L1339.84 993.11 L1340.03 993.72 L1340.22 991.4 L1340.41 1000.92 L1340.6 993.59 L1340.79 997.05 L1340.98 992.68 L1341.17 990.54 L1341.36 994.16 L1341.55 990.63 L1341.73 994.33 L1341.92 993.76 L1342.11 995.37 L1342.3 993.97 L1342.49 994.26 L1342.68 992.4 L1342.87 990.45 L1343.06 994.36 L1343.25 992.32 L1343.44 995.33 L1343.63 994.4 L1343.82 992.08 L1344.01 992.29 L1344.19 987.28 L1344.38 990.47 L1344.57 993.38 L1344.76 994.87 L1344.95 991.19 L1345.14 994.18 L1345.33 993.72 L1345.52 987.29 L1345.71 992.8 L1345.9 992.07 L1346.09 993.07 L1346.28 989.8 L1346.46 992.54 L1346.65 992.65 L1346.84 992.31 L1347.03 996.55 L1347.22 995.01 L1347.41 995.11 L1347.6 993.02 L1347.79 981.51 L1347.98 992.63 L1348.17 991.41 L1348.36 992.08 L1348.55 995.33 L1348.74 994.61 L1348.92 991 L1349.11 990.75 L1349.3 990.14 L1349.49 994.28 L1349.68 994.37 L1349.87 989.67 L1350.06 994.05 L1350.25 988 L1350.44 990.93 L1350.63 994.2 L1350.82 990.57 L1351.01 994.24 L1351.2 993.89 L1351.38 995.01 L1351.57 990.81 L1351.76 995.68 L1351.95 993.06 L1352.14 990.85 L1352.33 992.45 L1352.52 993.26 L1352.71 991.18 L1352.9 994.77 L1353.09 991.85 L1353.28 995.67 L1353.47 990.76 L1353.65 991.63 L1353.84 992.88 L1354.03 997.41 L1354.22 993.85 L1354.41 994.85 L1354.6 992.86 L1354.79 993.72 L1354.98 996.04 L1355.17 996.54 L1355.36 994.88 L1355.55 995.47 L1355.74 992.51 L1355.93 991.61 L1356.11 990.14 L1356.3 994.82 L1356.49 987.28 L1356.68 998.12 L1356.87 995.43 L1357.06 994.36 L1357.25 980.83 L1357.44 991.64 L1357.63 995.41 L1357.82 992.67 L1358.01 997.11 L1358.2 990.77 L1358.39 992.2 L1358.57 989.87 L1358.76 990.52 L1358.95 992.1 L1359.14 991.98 L1359.33 997.05 L1359.52 991.43 L1359.71 993.27 L1359.9 990.09 L1360.09 993.67 L1360.28 990.16 L1360.47 988.61 L1360.66 991.43 L1360.84 992.53 L1361.03 994.54 L1361.22 992.19 L1361.41 995.88 L1361.6 991.86 L1361.79 992.51 L1361.98 993.62 L1362.17 994.36 L1362.36 991.53 L1362.55 991.83 L1362.74 994.07 L1362.93 992.75 L1363.12 993.03 L1363.3 993.17 L1363.49 988.53 L1363.68 991.88 L1363.87 990.15 L1364.06 995.93 L1364.25 989.21 L1364.44 990.32 L1364.63 994.59 L1364.82 992.36 L1365.01 993.64 L1365.2 994.93 L1365.39 995.3 L1365.58 991.83 L1365.76 994 L1365.95 993.38 L1366.14 989.19 L1366.33 994.59 L1366.52 991.3 L1366.71 992.98 L1366.9 993.55 L1367.09 994.06 L1367.28 992.95 L1367.47 991.58 L1367.66 988.57 L1367.85 984.84 L1368.03 993.13 L1368.22 993.09 L1368.41 994.56 L1368.6 989.2 L1368.79 992.84 L1368.98 996.84 L1369.17 991.19 L1369.36 992.09 L1369.55 991.95 L1369.74 990.94 L1369.93 994.66 L1370.12 994.33 L1370.31 995.22 L1370.49 994.88 L1370.68 992.68 L1370.87 992.2 L1371.06 993.01 L1371.25 993.54 L1371.44 990.76 L1371.63 991.93 L1371.82 994.08 L1372.01 993.02 L1372.2 991.64 L1372.39 991.92 L1372.58 996.01 L1372.77 993.15 L1372.95 990.65 L1373.14 990.76 L1373.33 994.22 L1373.52 990.11 L1373.71 989.21 L1373.9 991.4 L1374.09 995.28 L1374.28 990.03 L1374.47 993.17 L1374.66 991.7 L1374.85 986.4 L1375.04 991.17 L1375.22 990.26 L1375.41 992.6 L1375.6 993.15 L1375.79 993.76 L1375.98 991.93 L1376.17 992.61 L1376.36 993.07 L1376.55 991.91 L1376.74 996.14 L1376.93 995 L1377.12 992.91 L1377.31 994.06 L1377.5 994.45 L1377.68 991.58 L1377.87 996.57 L1378.06 990.05 L1378.25 992.78 L1378.44 991.13 L1378.63 991.44 L1378.82 996.95 L1379.01 990.66 L1379.2 992.11 L1379.39 992.88 L1379.58 990.84 L1379.77 993.61 L1379.96 993.03 L1380.14 991.83 L1380.33 992.75 L1380.52 990.34 L1380.71 993.96 L1380.9 992.5 L1381.09 993.23 L1381.28 993.57 L1381.47 994.29 L1381.66 993.96 L1381.85 993.91 L1382.04 991.36 L1382.23 993.38 L1382.41 990.98 L1382.6 991.09 L1382.79 993.14 L1382.98 990.71 L1383.17 992.15 L1383.36 992.16 L1383.55 990.05 L1383.74 996.47 L1383.93 993.96 L1384.12 993.65 L1384.31 993.95 L1384.5 995.46 L1384.69 993.69 L1384.87 992.82 L1385.06 991.51 L1385.25 993.15 L1385.44 993.04 L1385.63 992.71 L1385.82 990.4 L1386.01 991.26 L1386.2 993.02 L1386.39 989.28 L1386.58 994.88 L1386.77 991.53 L1386.96 991.81 L1387.15 992 L1387.33 991.89 L1387.52 991.43 L1387.71 995.72 L1387.9 995.43 L1388.09 993.12 L1388.28 996.1 L1388.47 992.22 L1388.66 995.88 L1388.85 992.76 L1389.04 993.02 L1389.23 997.89 L1389.42 992.82 L1389.6 992.06 L1389.79 996.76 L1389.98 994.95 L1390.17 992.25 L1390.36 994.81 L1390.55 991.31 L1390.74 992.01 L1390.93 996.58 L1391.12 992.22 L1391.31 991.37 L1391.5 993.62 L1391.69 993.3 L1391.88 990.83 L1392.06 995.99 L1392.25 992.42 L1392.44 990.48 L1392.63 992.15 L1392.82 992.53 L1393.01 995.29 L1393.2 995.84 L1393.39 993.21 L1393.58 994.39 L1393.77 993.91 L1393.96 993.77 L1394.15 993.03 L1394.33 995.25 L1394.52 993.85 L1394.71 994.98 L1394.9 992.71 L1395.09 994.22 L1395.28 990.89 L1395.47 995.13 L1395.66 987.97 L1395.85 989.71 L1396.04 990.24 L1396.23 988.81 L1396.42 993.14 L1396.61 993.47 L1396.79 990.62 L1396.98 991.75 L1397.17 990.38 L1397.36 990.36 L1397.55 995.81 L1397.74 991.07 L1397.93 991.23 L1398.12 992.85 L1398.31 993.52 L1398.5 994.01 L1398.69 993.17 L1398.88 990.09 L1399.07 994.68 L1399.25 993.79 L1399.44 994.91 L1399.63 991.75 L1399.82 990.8 L1400.01 994.12 L1400.2 992.67 L1400.39 994.6 L1400.58 989.12 L1400.77 990.77 L1400.96 994.35 L1401.15 993.38 L1401.34 992.46 L1401.52 990.85 L1401.71 993.42 L1401.9 988.55 L1402.09 991.66 L1402.28 990 L1402.47 995.02 L1402.66 990.68 L1402.85 993.46 L1403.04 995.28 L1403.23 990.9 L1403.42 991.3 L1403.61 994.47 L1403.8 992.04 L1403.98 991.26 L1404.17 988.07 L1404.36 994.77 L1404.55 987.43 L1404.74 990.34 L1404.93 992.85 L1405.12 991.62 L1405.31 990.07 L1405.5 992.26 L1405.69 993.12 L1405.88 993.72 L1406.07 991.42 L1406.26 991.37 L1406.44 991.9 L1406.63 991.36 L1406.82 991.6 L1407.01 993.23 L1407.2 992.58 L1407.39 990.77 L1407.58 993.17 L1407.77 988.71 L1407.96 992.83 L1408.15 990.22 L1408.34 991.21 L1408.53 991.26 L1408.71 992.63 L1408.9 994.79 L1409.09 989.56 L1409.28 991.2 L1409.47 989.47 L1409.66 990.95 L1409.85 991.3 L1410.04 993.1 L1410.23 992.2 L1410.42 990.71 L1410.61 990.68 L1410.8 990.05 L1410.99 994.71 L1411.17 989.22 L1411.36 994.12 L1411.55 995.49 L1411.74 994.52 L1411.93 995.43 L1412.12 994.53 L1412.31 984.59 L1412.5 994.54 L1412.69 992.35 L1412.88 992.75 L1413.07 989.45 L1413.26 993.93 L1413.45 990.31 L1413.63 995.69 L1413.82 994.21 L1414.01 997.34 L1414.2 991.18 L1414.39 992.15 L1414.58 994.93 L1414.77 991.94 L1414.96 991.82 L1415.15 990.19 L1415.34 994.72 L1415.53 995.28 L1415.72 990.95 L1415.9 993.57 L1416.09 993.15 L1416.28 996.55 L1416.47 990.04 L1416.66 991.88 L1416.85 991.97 L1417.04 995.66 L1417.23 996.27 L1417.42 997.83 L1417.61 994.37 L1417.8 992.89 L1417.99 992.2 L1418.18 992.38 L1418.36 991.28 L1418.55 993.58 L1418.74 994.15 L1418.93 997.19 L1419.12 991.34 L1419.31 992.08 L1419.5 993.6 L1419.69 991.91 L1419.88 995.14 L1420.07 994.21 L1420.26 995.17 L1420.45 992.42 L1420.64 993.73 L1420.82 992.7 L1421.01 992.23 L1421.2 998.09 L1421.39 993.88 L1421.58 990.93 L1421.77 992.63 L1421.96 992.76 L1422.15 990.21 L1422.34 991.33 L1422.53 991.13 L1422.72 991.46 L1422.91 993.13 L1423.09 992.96 L1423.28 996.06 L1423.47 996.17 L1423.66 990.46 L1423.85 992.32 L1424.04 996.58 L1424.23 995.33 L1424.42 995.77 L1424.61 992.09 L1424.8 996.48 L1424.99 991.43 L1425.18 989.55 L1425.37 994.67 L1425.55 992.89 L1425.74 992.89 L1425.93 991.72 L1426.12 987.62 L1426.31 983.52 L1426.5 979.42 L1426.69 975.32 L1426.88 971.22 L1427.07 967.12 L1427.26 963.58 L1427.45 963.42 L1427.64 963.26 L1427.83 963.69 L1428.01 960.51 L1428.2 962.16 L1428.39 963.83 L1428.58 966.6 L1428.77 963.54 L1428.96 962.27 L1429.15 959.54 L1429.34 960.59 L1429.53 961.45 L1429.72 962.99 L1429.91 956.57 L1430.1 964.83 L1430.28 962.92 L1430.47 960.69 L1430.66 962.88 L1430.85 960.38 L1431.04 959.2 L1431.23 964.81 L1431.42 963.33 L1431.61 960.02 L1431.8 959.34 L1431.99 959.87 L1432.18 957.4 L1432.37 962.74 L1432.56 968.63 L1432.74 961.68 L1432.93 962.82 L1433.12 958.23 L1433.31 960.97 L1433.5 954.9 L1433.69 959.1 L1433.88 959.69 L1434.07 961.7 L1434.26 962.13 L1434.45 958.81 L1434.64 959.04 L1434.83 959.12 L1435.02 956.93 L1435.2 960.61 L1435.39 960.09 L1435.58 961.09 L1435.77 966.03 L1435.96 961.35 L1436.15 959.25 L1436.34 958.02 L1436.53 961.47 L1436.72 955.09 L1436.91 953.49 L1437.1 961.22 L1437.29 957.05 L1437.47 960.09 L1437.66 959.33 L1437.85 960.08 L1438.04 956.78 L1438.23 959.12 L1438.42 959.89 L1438.61 961.31 L1438.8 957.56 L1438.99 961.09 L1439.18 957.67 L1439.37 956.44 L1439.56 960.77 L1439.75 962.52 L1439.93 959.57 L1440.12 965.51 L1440.31 959.7 L1440.5 958.83 L1440.69 960.04 L1440.88 959.16 L1441.07 957.83 L1441.26 960.98 L1441.45 956.38 L1441.64 956.83 L1441.83 959.8 L1442.02 956.16 L1442.21 957.31 L1442.39 960.74 L1442.58 958.7 L1442.77 959.11 L1442.96 962.96 L1443.15 955.68 L1443.34 955.69 L1443.53 960.7 L1443.72 957.57 L1443.91 962.06 L1444.1 957.95 L1444.29 957.74 L1444.48 959.42 L1444.66 959.23 L1444.85 961.42 L1445.04 958.39 L1445.23 956.34 L1445.42 971.26 L1445.61 953.46 L1445.8 956.58 L1445.99 959.22 L1446.18 956.6 L1446.37 963.69 L1446.56 966.73 L1446.75 960.11 L1446.94 958.44 L1447.12 961.58 L1447.31 959.53 L1447.5 955.43 L1447.69 959.53 L1447.88 960.34 L1448.07 961.6 L1448.26 958.98 L1448.45 959.4 L1448.64 958.44 L1448.83 956.59 L1449.02 958.98 L1449.21 958.64 L1449.4 953.68 L1449.58 960.36 L1449.77 960.31 L1449.96 960.69 L1450.15 957.21 L1450.34 963.16 L1450.53 960.25 L1450.72 959.48 L1450.91 959.19 L1451.1 956.96 L1451.29 958.93 L1451.48 958.29 L1451.67 959.32 L1451.85 955.68 L1452.04 957.99 L1452.23 957.45 L1452.42 959.83 L1452.61 958 L1452.8 959.54 L1452.99 959.81 L1453.18 959.41 L1453.37 959.24 L1453.56 959.34 L1453.75 957.87 L1453.94 956.78 L1454.13 960.73 L1454.31 960.27 L1454.5 955.88 L1454.69 963.12 L1454.88 959.27 L1455.07 958.45 L1455.26 961.39 L1455.45 958.66 L1455.64 954.32 L1455.83 958.37 L1456.02 956.22 L1456.21 957.82 L1456.4 957.8 L1456.59 958.12 L1456.77 955.72 L1456.96 956.83 L1457.15 960.86 L1457.34 960.06 L1457.53 960.31 L1457.72 955.94 L1457.91 958.46 L1458.1 962.11 L1458.29 956.62 L1458.48 959.05 L1458.67 958.62 L1458.86 961.56 L1459.04 958.31 L1459.23 957.34 L1459.42 956.51 L1459.61 964.15 L1459.8 958.77 L1459.99 957.01 L1460.18 959.43 L1460.37 959.08 L1460.56 962.55 L1460.75 960.17 L1460.94 961.51 L1461.13 958.72 L1461.32 960.41 L1461.5 958.48 L1461.69 959.45 L1461.88 956.84 L1462.07 960.58 L1462.26 959.52 L1462.45 959.71 L1462.64 959.73 L1462.83 960.03 L1463.02 958.16 L1463.21 959.76 L1463.4 960.02 L1463.59 959.77 L1463.78 959.22 L1463.96 959.09 L1464.15 955.49 L1464.34 959.84 L1464.53 956.77 L1464.72 959.81 L1464.91 961.13 L1465.1 957.74 L1465.29 959.63 L1465.48 958.73 L1465.67 958.73 L1465.86 955.6 L1466.05 950.14 L1466.23 944.67 L1466.42 939.21 L1466.61 933.74 L1466.8 928.28 L1466.99 922.81 L1467.18 919.63 L1467.37 919.5 L1467.56 918.64 L1467.75 923.07 L1467.94 917.61 L1468.13 907.31 L1468.32 917.95 L1468.51 916.13 L1468.69 921.36 L1468.88 914.89 L1469.07 922.76 L1469.26 918.07 L1469.45 918.05 L1469.64 918.27 L1469.83 917.83 L1470.02 917.82 L1470.21 917.27 L1470.4 918.59 L1470.59 918.94 L1470.78 917.23 L1470.97 923.03 L1471.15 919.01 L1471.34 915.75 L1471.53 916.39 L1471.72 912.46 L1471.91 917.56 L1472.1 911.08 L1472.29 916.65 L1472.48 920.42 L1472.67 918.25 L1472.86 919.76 L1473.05 919.12 L1473.24 922.2 L1473.42 918.37 L1473.61 915.94 L1473.8 918.38 L1473.99 915.62 L1474.18 916.64 L1474.37 916.8 L1474.56 916.84 L1474.75 914.05 L1474.94 916.39 L1475.13 915.75 L1475.32 916.12 L1475.51 916.95 L1475.7 918.07 L1475.88 918.51 L1476.07 913.29 L1476.26 916.48 L1476.45 921.77 L1476.64 919.92 L1476.83 916.51 L1477.02 918.31 L1477.21 919.04 L1477.4 916.81 L1477.59 918.03 L1477.78 918.1 L1477.97 916.71 L1478.16 912.04 L1478.34 918.47 L1478.53 916.56 L1478.72 914.09 L1478.91 917.28 L1479.1 915.65 L1479.29 917.52 L1479.48 918.89 L1479.67 915.48 L1479.86 915.76 L1480.05 916.57 L1480.24 915.71 L1480.43 917.03 L1480.61 914.64 L1480.8 914.99 L1480.99 916.88 L1481.18 915.83 L1481.37 916.78 L1481.56 918.06 L1481.75 915.98 L1481.94 917.15 L1482.13 917.45 L1482.32 916.2 L1482.51 916.28 L1482.7 915.75 L1482.89 914.85 L1483.07 915.55 L1483.26 916.63 L1483.45 920.38 L1483.64 918.88 L1483.83 919.03 L1484.02 914.35 L1484.21 913.92 L1484.4 915.37 L1484.59 916.5 L1484.78 914.01 L1484.97 917.08 L1485.16 914.38 L1485.34 914.05 L1485.53 911.06 L1485.72 920.18 L1485.91 915.83 L1486.1 917.81 L1486.29 917.52 L1486.48 917.71 L1486.67 917.09 L1486.86 917.79 L1487.05 914.75 L1487.24 918.21 L1487.43 915.75 L1487.62 920.43 L1487.8 916.93 L1487.99 918.11 L1488.18 912.75 L1488.37 917.34 L1488.56 921.47 L1488.75 917.15 L1488.94 920.3 L1489.13 917.74 L1489.32 912.25 L1489.51 915.89 L1489.7 912.46 L1489.89 914.28 L1490.08 915.95 L1490.26 915.96 L1490.45 911.97 L1490.64 916.39 L1490.83 915.53 L1491.02 914.6 L1491.21 919.47 L1491.4 913.53 L1491.59 915.05 L1491.78 918.4 L1491.97 915.64 L1492.16 914.48 L1492.35 913.78 L1492.53 913.6 L1492.72 917.4 L1492.91 916.5 L1493.1 916.61 L1493.29 912.85 L1493.48 920.19 L1493.67 914.53 L1493.86 913.87 L1494.05 913.97 L1494.24 916.38 L1494.43 913.93 L1494.62 911.81 L1494.81 918.73 L1494.99 915.77 L1495.18 914.9 L1495.37 912.19 L1495.56 913.61 L1495.75 914.78 L1495.94 920.48 L1496.13 916 L1496.32 911.56 L1496.51 910.62 L1496.7 914.96 L1496.89 917.19 L1497.08 916.85 L1497.27 913.53 L1497.45 917.49 L1497.64 912.45 L1497.83 914.41 L1498.02 917.83 L1498.21 913.88 L1498.4 913.98 L1498.59 914.59 L1498.78 916.21 L1498.97 916.66 L1499.16 910.03 L1499.35 918.81 L1499.54 916.25 L1499.72 914.05 L1499.91 915.01 L1500.1 916.16 L1500.29 920.94 L1500.48 914.8 L1500.67 914.6 L1500.86 905.27 L1501.05 919.95 L1501.24 918.76 L1501.43 916.14 L1501.62 916.31 L1501.81 915.74 L1502 912.58 L1502.18 916.01 L1502.37 922.42 L1502.56 915.79 L1502.75 915.79 L1502.94 915.04 L1503.13 909.85 L1503.32 904.66 L1503.51 899.47 L1503.7 894.27 L1503.89 889.08 L1504.08 883.89 L1504.27 878.7 L1504.46 878.46 L1504.64 878.23 L1504.83 879.11 L1505.02 878.3 L1505.21 878.89 L1505.4 878.23 L1505.59 878.35 L1505.78 875.52 L1505.97 874.6 L1506.16 872.61 L1506.35 874.95 L1506.54 876.36 L1506.73 876.87 L1506.91 877 L1507.1 876.12 L1507.29 878.03 L1507.48 876.15 L1507.67 876.59 L1507.86 874.63 L1508.05 873.66 L1508.24 872.04 L1508.43 875.82 L1508.62 877.61 L1508.81 876.09 L1509 871.01 L1509.19 876.46 L1509.37 873.05 L1509.56 872.21 L1509.75 873.04 L1509.94 880.36 L1510.13 874.1 L1510.32 876.42 L1510.51 876.04 L1510.7 875.89 L1510.89 870.89 L1511.08 869.18 L1511.27 873.42 L1511.46 872.43 L1511.65 872.84 L1511.83 872.51 L1512.02 872.03 L1512.21 873.1 L1512.4 871.66 L1512.59 872.75 L1512.78 875.43 L1512.97 870.5 L1513.16 874.96 L1513.35 875.8 L1513.54 876.59 L1513.73 874.82 L1513.92 870.16 L1514.1 873.59 L1514.29 870.76 L1514.48 876.94 L1514.67 871.12 L1514.86 875.88 L1515.05 871.24 L1515.24 875.81 L1515.43 870.4 L1515.62 865.71 L1515.81 873.35 L1516 871.9 L1516.19 873.82 L1516.38 872.4 L1516.56 870.3 L1516.75 873.02 L1516.94 874.41 L1517.13 874.4 L1517.32 876.72 L1517.51 870.03 L1517.7 870.96 L1517.89 875.49 L1518.08 875.28 L1518.27 870.6 L1518.46 874.24 L1518.65 874.04 L1518.84 871.86 L1519.02 870.79 L1519.21 875.44 L1519.4 869.27 L1519.59 874.14 L1519.78 875.25 L1519.97 868.73 L1520.16 871.29 L1520.35 870.43 L1520.54 872.69 L1520.73 875.37 L1520.92 874.82 L1521.11 869.94 L1521.29 872.79 L1521.48 871.58 L1521.67 868.37 L1521.86 867.93 L1522.05 871.58 L1522.24 881.76 L1522.43 873.36 L1522.62 875.3 L1522.81 868.95 L1523 869.65 L1523.19 870.82 L1523.38 873.92 L1523.57 869.86 L1523.75 874.95 L1523.94 872.45 L1524.13 866.46 L1524.32 870.53 L1524.51 874.58 L1524.7 871.99 L1524.89 876.13 L1525.08 870.32 L1525.27 871.63 L1525.46 871.15 L1525.65 872.68 L1525.84 870.13 L1526.03 871.42 L1526.21 872.62 L1526.4 868.73 L1526.59 876.72 L1526.78 869.39 L1526.97 872.82 L1527.16 873.67 L1527.35 872.53 L1527.54 873.42 L1527.73 870.36 L1527.92 875.03 L1528.11 875.93 L1528.3 872.35 L1528.48 867.8 L1528.67 872.5 L1528.86 870.1 L1529.05 871.29 L1529.24 870.38 L1529.43 868.58 L1529.62 872.05 L1529.81 869.98 L1530 872.06 L1530.19 870.61 L1530.38 870.47 L1530.57 874.29 L1530.76 870.02 L1530.94 869.23 L1531.13 873.47 L1531.32 874.77 L1531.51 869.83 L1531.7 873.09 L1531.89 864.58 L1532.08 870.73 L1532.27 874.14 L1532.46 868.78 L1532.65 875.02 L1532.84 872.88 L1533.03 871.56 L1533.22 872.78 L1533.4 869.19 L1533.59 872.46 L1533.78 875.55 L1533.97 869.04 L1534.16 874.65 L1534.35 869.68 L1534.54 870.23 L1534.73 873.62 L1534.92 871.04 L1535.11 876.93 L1535.3 870.69 L1535.49 873.15 L1535.67 874.11 L1535.86 872.45 L1536.05 868.16 L1536.24 870.19 L1536.43 869.51 L1536.62 868.53 L1536.81 874.37 L1537 874.26 L1537.19 875.11 L1537.38 872.65 L1537.57 880.98 L1537.76 874.08 L1537.95 868.51 L1538.13 874.25 L1538.32 876.61 L1538.51 872.11 L1538.7 872.59 L1538.89 869.13 L1539.08 871.87 L1539.27 871.87 L1539.46 870.89 L1539.65 867.47 L1539.84 864.06 L1540.03 860.64 L1540.22 857.22 L1540.41 853.81 L1540.59 850.39 L1540.78 847.39 L1540.97 846.91 L1541.16 846.44 L1541.35 845.91 L1541.54 842.97 L1541.73 844.11 L1541.92 838.05 L1542.11 843.71 L1542.3 840.35 L1542.49 845.11 L1542.68 843.86 L1542.86 840.3 L1543.05 846.12 L1543.24 842.65 L1543.43 842.53 L1543.62 840.97 L1543.81 843.28 L1544 842.07 L1544.19 839.71 L1544.38 835.13 L1544.57 837.69 L1544.76 842.49 L1544.95 839.16 L1545.14 840.72 L1545.32 842.46 L1545.51 837.64 L1545.7 835.95 L1545.89 838.38 L1546.08 840.93 L1546.27 838.15 L1546.46 839.06 L1546.65 839.3 L1546.84 843.54 L1547.03 833.28 L1547.22 838.41 L1547.41 836.07 L1547.6 836.91 L1547.78 839.63 L1547.97 834.08 L1548.16 832.69 L1548.35 834.09 L1548.54 835.02 L1548.73 838.91 L1548.92 834 L1549.11 834.09 L1549.3 829.28 L1549.49 835.05 L1549.68 836.08 L1549.87 837.24 L1550.05 835.51 L1550.24 828.71 L1550.43 833.35 L1550.62 831.28 L1550.81 834.19 L1551 831.91 L1551.19 836.85 L1551.38 830.26 L1551.57 828.67 L1551.76 833.07 L1551.95 828.12 L1552.14 834.46 L1552.33 829.89 L1552.51 836.59 L1552.7 832.54 L1552.89 833.15 L1553.08 833.84 L1553.27 833.37 L1553.46 835.68 L1553.65 834.35 L1553.84 825.81 L1554.03 834.88 L1554.22 831.82 L1554.41 831.99 L1554.6 828.49 L1554.79 828.61 L1554.97 826.79 L1555.16 824.53 L1555.35 835.41 L1555.54 829.07 L1555.73 833.07 L1555.92 828.42 L1556.11 829.91 L1556.3 831.09 L1556.49 834.37 L1556.68 836.73 L1556.87 829.11 L1557.06 831.42 L1557.24 832.61 L1557.43 829.61 L1557.62 827.1 L1557.81 827.79 L1558 828.51 L1558.19 826.27 L1558.38 831.12 L1558.57 834.68 L1558.76 831.17 L1558.95 830.34 L1559.14 830.66 L1559.33 831.27 L1559.52 826.95 L1559.7 835.03 L1559.89 828.28 L1560.08 828.35 L1560.27 825.53 L1560.46 826.4 L1560.65 827.41 L1560.84 828.51 L1561.03 828.82 L1561.22 829.3 L1561.41 828.65 L1561.6 827.92 L1561.79 829.6 L1561.98 831.87 L1562.16 833.84 L1562.35 833.53 L1562.54 828.68 L1562.73 831.07 L1562.92 835.06 L1563.11 830.67 L1563.3 831.14 L1563.49 835.23 L1563.68 828.29 L1563.87 834.18 L1564.06 829.03 L1564.25 828.57 L1564.43 837.11 L1564.62 827.9 L1564.81 830.02 L1565 835.2 L1565.19 830.66 L1565.38 827.35 L1565.57 825.09 L1565.76 832.4 L1565.95 826.49 L1566.14 834.64 L1566.33 829.29 L1566.52 832.3 L1566.71 836.88 L1566.89 832.12 L1567.08 832.58 L1567.27 833.4 L1567.46 827.65 L1567.65 832.26 L1567.84 829.2 L1568.03 829.4 L1568.22 831.32 L1568.41 830.4 L1568.6 829.31 L1568.79 831.98 L1568.98 836.24 L1569.17 828.3 L1569.35 831.59 L1569.54 828.84 L1569.73 833.33 L1569.92 835.84 L1570.11 834.35 L1570.3 832.73 L1570.49 832.26 L1570.68 832.2 L1570.87 834.08 L1571.06 835.31 L1571.25 831.82 L1571.44 832.43 L1571.62 835.28 L1571.81 831.84 L1572 833.44 L1572.19 835.57 L1572.38 832.73 L1572.57 834.02 L1572.76 828.84 L1572.95 835.77 L1573.14 836.79 L1573.33 833.23 L1573.52 833.04 L1573.71 835.83 L1573.9 828.07 L1574.08 833.47 L1574.27 831.58 L1574.46 834.47 L1574.65 833.46 L1574.84 835.79 L1575.03 832.44 L1575.22 832.67 L1575.41 837.07 L1575.6 830.96 L1575.79 833.42 L1575.98 831.44 L1576.17 837.37 L1576.36 836.38 L1576.54 840.04 L1576.73 833.41 L1576.92 836.04 L1577.11 835.44 L1577.3 833.68 L1577.49 833.18 L1577.68 833.23 L1577.87 833.06 L1578.06 833.15 L1578.25 833.87 L1578.44 833.87 L1578.63 833.18 L1578.81 828.8 L1579 824.43 L1579.19 820.06 L1579.38 815.69 L1579.57 811.31 L1579.76 806.94 L1579.95 802.57 L1580.14 802.3 L1580.33 802.05 L1580.52 797.68 L1580.71 798.72 L1580.9 798.45 L1581.09 802.21 L1581.27 802.06 L1581.46 801.3 L1581.65 794.82 L1581.84 797.9 L1582.03 798.96 L1582.22 804.86 L1582.41 797.01 L1582.6 803.07 L1582.79 809.21 L1582.98 798.71 L1583.17 799.06 L1583.36 796.27 L1583.54 796.32 L1583.73 795.4 L1583.92 797.39 L1584.11 800.71 L1584.3 798.22 L1584.49 794.99 L1584.68 797.86 L1584.87 797.4 L1585.06 797.09 L1585.25 795.91 L1585.44 796.15 L1585.63 798.75 L1585.82 804.25 L1586 798.48 L1586.19 799.25 L1586.38 799.13 L1586.57 795.05 L1586.76 797.81 L1586.95 798.88 L1587.14 795.37 L1587.33 795.23 L1587.52 797.26 L1587.71 794.11 L1587.9 797.53 L1588.09 801.2 L1588.28 798.98 L1588.46 792.75 L1588.65 792.97 L1588.84 800.68 L1589.03 797.54 L1589.22 795.78 L1589.41 799.77 L1589.6 796.49 L1589.79 793.17 L1589.98 802.1 L1590.17 797.87 L1590.36 793.1 L1590.55 796.91 L1590.73 792.1 L1590.92 798.16 L1591.11 794.41 L1591.3 800.81 L1591.49 795.64 L1591.68 795.77 L1591.87 795.31 L1592.06 802.16 L1592.25 792.18 L1592.44 794.49 L1592.63 797.66 L1592.82 798.78 L1593.01 801.71 L1593.19 797.13 L1593.38 800.47 L1593.57 796.81 L1593.76 797.24 L1593.95 797.83 L1594.14 800.43 L1594.33 796.47 L1594.52 798.67 L1594.71 796.17 L1594.9 794.35 L1595.09 796.4 L1595.28 792.73 L1595.47 796.7 L1595.65 798.15 L1595.84 796.9 L1596.03 796.14 L1596.22 797.72 L1596.41 796.33 L1596.6 798.91 L1596.79 797.91 L1596.98 790.99 L1597.17 797.47 L1597.36 798.14 L1597.55 796.28 L1597.74 801.58 L1597.92 798.63 L1598.11 803.12 L1598.3 797.39 L1598.49 794.92 L1598.68 793.74 L1598.87 800.96 L1599.06 793.64 L1599.25 796.47 L1599.44 796.54 L1599.63 796.65 L1599.82 794.92 L1600.01 796.71 L1600.2 796.32 L1600.38 790.59 L1600.57 799.43 L1600.76 798.95 L1600.95 797.06 L1601.14 795.31 L1601.33 796.16 L1601.52 795.79 L1601.71 797.1 L1601.9 792.26 L1602.09 798.37 L1602.28 796.65 L1602.47 795.34 L1602.66 796.27 L1602.84 797.11 L1603.03 798.52 L1603.22 793.93 L1603.41 794.85 L1603.6 795.23 L1603.79 803.9 L1603.98 799.53 L1604.17 790.11 L1604.36 797.98 L1604.55 798.13 L1604.74 802.17 L1604.93 797.01 L1605.11 798.49 L1605.3 797.99 L1605.49 799.99 L1605.68 798.12 L1605.87 793.25 L1606.06 796.07 L1606.25 792.41 L1606.44 792.36 L1606.63 797.88 L1606.82 796.87 L1607.01 792.54 L1607.2 795.79 L1607.39 791.99 L1607.57 798.88 L1607.76 794.51 L1607.95 794.66 L1608.14 797.37 L1608.33 795.83 L1608.52 795.65 L1608.71 796.78 L1608.9 792.95 L1609.09 800.68 L1609.28 796.14 L1609.47 802.21 L1609.66 794.81 L1609.85 794.5 L1610.03 795 L1610.22 789.76 L1610.41 795.05 L1610.6 800.16 L1610.79 795.93 L1610.98 801.07 L1611.17 792.28 L1611.36 795.91 L1611.55 796.9 L1611.74 794.35 L1611.93 795.11 L1612.12 794.03 L1612.3 794.72 L1612.49 792.88 L1612.68 795.36 L1612.87 795.82 L1613.06 792.55 L1613.25 794.35 L1613.44 798.34 L1613.63 797.4 L1613.82 793.96 L1614.01 795.57 L1614.2 793.95 L1614.39 798.84 L1614.58 796.81 L1614.76 793.86 L1614.95 795.35 L1615.14 798.54 L1615.33 797.88 L1615.52 795.84 L1615.71 799.62 L1615.9 797.36 L1616.09 801.32 L1616.28 800.38 L1616.47 793.94 L1616.66 800.16 L1616.85 796.91 L1617.04 797.56 L1617.22 798.02 L1617.41 802.88 L1617.6 803.61 L1617.79 795.83 L1617.98 802.27 L1618.17 800.13 L1618.36 805.14 L1618.55 803.06 L1618.74 793.6 L1618.93 794.31 L1619.12 791.71 L1619.31 789.12 L1619.49 786.52 L1619.68 783.93 L1619.87 781.33 L1620.06 778.73 L1620.25 776.14 L1620.44 773.54 L1620.63 770.95 L1620.82 768.35 L1621.01 767.62 L1621.2 760.39 L1621.39 760.91 L1621.58 766.25 L1621.77 762.84 L1621.95 761.64 L1622.14 764.07 L1622.33 763.88 L1622.52 758.98 L1622.71 761.28 L1622.9 760.23 L1623.09 760.92 L1623.28 759.38 L1623.47 761.07 L1623.66 762.14 L1623.85 759.13 L1624.04 765.15 L1624.23 758.69 L1624.41 761.66 L1624.6 761.68 L1624.79 763.43 L1624.98 761.88 L1625.17 761.87 L1625.36 759.55 L1625.55 759.18 L1625.74 757.78 L1625.93 759.82 L1626.12 764.28 L1626.31 760.44 L1626.5 760.02 L1626.68 758.81 L1626.87 758.66 L1627.06 760.82 L1627.25 758.54 L1627.44 760.22 L1627.63 760.61 L1627.82 758.03 L1628.01 758.26 L1628.2 757.13 L1628.39 757.71 L1628.58 756.35 L1628.77 755.53 L1628.96 754.7 L1629.14 758.14 L1629.33 759.65 L1629.52 758.18 L1629.71 762.31 L1629.9 758.24 L1630.09 757.91 L1630.28 754.35 L1630.47 761.11 L1630.66 759.25 L1630.85 758.61 L1631.04 760.54 L1631.23 756.94 L1631.42 760.19 L1631.6 752.99 L1631.79 758.03 L1631.98 758.09 L1632.17 759.5 L1632.36 756.85 L1632.55 755.66 L1632.74 760.69 L1632.93 759.59 L1633.12 758.36 L1633.31 759.48 L1633.5 753.52 L1633.69 749.32 L1633.87 756.45 L1634.06 756.56 L1634.25 756.22 L1634.44 759.61 L1634.63 755.03 L1634.82 756.81 L1635.01 756.16 L1635.2 754.51 L1635.39 757.25 L1635.58 756.25 L1635.77 759.92 L1635.96 757.56 L1636.15 755.74 L1636.33 758.56 L1636.52 754.96 L1636.71 759.33 L1636.9 762.65 L1637.09 759.41 L1637.28 756.96 L1637.47 755.53 L1637.66 750.43 L1637.85 760.32 L1638.04 760.77 L1638.23 760.96 L1638.42 758.5 L1638.61 755.38 L1638.79 756.71 L1638.98 758.09 L1639.17 757.08 L1639.36 760.26 L1639.55 755.42 L1639.74 758.57 L1639.93 754.61 L1640.12 757.19 L1640.31 755.73 L1640.5 760.43 L1640.69 754.58 L1640.88 755.2 L1641.06 758.91 L1641.25 759.74 L1641.44 755.97 L1641.63 759.04 L1641.82 756.3 L1642.01 759.23 L1642.2 758.08 L1642.39 750.43 L1642.58 757.46 L1642.77 757.06 L1642.96 757.61 L1643.15 757.03 L1643.34 758.5 L1643.52 761.91 L1643.71 756.95 L1643.9 758.09 L1644.09 756.56 L1644.28 754.66 L1644.47 754.39 L1644.66 755.5 L1644.85 757.33 L1645.04 757.4 L1645.23 757.4 L1645.42 756.8 L1645.61 756.93 L1645.8 760.1 L1645.98 762.24 L1646.17 759.47 L1646.36 756.91 L1646.55 751.42 L1646.74 758.69 L1646.93 757.2 L1647.12 756.67 L1647.31 755.44 L1647.5 764.03 L1647.69 756.4 L1647.88 761.53 L1648.07 756.47 L1648.25 761.39 L1648.44 754.83 L1648.63 758.68 L1648.82 758.08 L1649.01 757.75 L1649.2 757.85 L1649.39 757.88 L1649.58 757.7 L1649.77 758.91 L1649.96 759.89 L1650.15 752.96 L1650.34 758.89 L1650.53 758.44 L1650.71 755.94 L1650.9 756.77 L1651.09 760.99 L1651.28 758.32 L1651.47 759.26 L1651.66 758.55 L1651.85 758.41 L1652.04 748.55 L1652.23 754.7 L1652.42 759.07 L1652.61 761.49 L1652.8 759.57 L1652.99 756.91 L1653.17 758.37 L1653.36 756.73 L1653.55 760.61 L1653.74 756.55 L1653.93 758.2 L1654.12 758.39 L1654.31 757.04 L1654.5 754.9 L1654.69 753.58 L1654.88 759.93 L1655.07 760.87 L1655.26 759.22 L1655.44 756.38 L1655.63 759.17 L1655.82 755.29 L1656.01 755.47 L1656.2 752.18 L1656.39 755.75 L1656.58 755.79 L1656.77 755.63 L1656.96 757.47 L1657.15 752.61 L1657.34 765.81 L1657.53 757.19 L1657.72 757.91 L1657.9 759.45 L1658.09 755.33 L1658.28 754.96 L1658.47 759.44 L1658.66 757.67 L1658.85 761.05 L1659.04 757.11 L1659.23 756.91 L1659.42 753.49 L1659.61 757.31 L1659.8 760.4 L1659.99 758.51 L1660.18 757.36 L1660.36 759.01 L1660.55 760.61 L1660.74 755.46 L1660.93 762.15 L1661.12 759.66 L1661.8 776.26 L1662.47 792.73 L1663.15 808.35 L1663.82 823.9 L1664.5 839.03 L1665.18 854.04 L1665.85 868.19 L1666.53 882.32 L1667.2 896.22 L1667.88 910.13 L1668.55 924.04 L1669.23 937.8 L1669.91 950.49 L1670.58 963.18 L1671.26 975.87 L1671.93 988.55 L1672.61 1000.79 L1673.28 1009.71 L1673.96 1018.64 L1674.64 1027.56 L1675.31 1036.48 L1675.99 1045.41 L1676.66 1054.33 L1677.34 1063.01 L1678.01 1069.86 L1678.69 1076.71 L1679.37 1083.56 L1680.04 1090.42 L1680.72 1097.27 L1681.39 1104.12 L1682.07 1110.98 L1682.75 1117.83 L1683.42 1124.68 L1683.61 1126.6 Z"/></clipPath></defs>
<path d="M1180 1112.5 H1740 M1180 1099.5 H1740 M1180 1085.5 H1740 M1180 1072.5 H1740 M1180 1059.5 H1740 M1180 1045.5 H1740 M1180 1032.5 H1740 M1180 1018.5 H1740 M1180 1005.5 H1740 M1180 992.5 H1740 M1180 978.5 H1740 M1180 965.5 H1740 M1180 952.5 H1740 M1180 938.5 H1740 M1180 925.5 H1740 M1180 912.5 H1740 M1180 898.5 H1740 M1180 885.5 H1740 M1180 872.5 H1740 M1180 858.5 H1740 M1180 845.5 H1740 M1180 831.5 H1740 M1180 818.5 H1740 M1180 805.5 H1740 M1180 791.5 H1740 M1180 778.5 H1740 M1180 765.5 H1740 M1180 751.5 H1740" stroke="#000" stroke-width="1" clip-path="url(#tclip)"/>
<polyline points="1200.58,1126.6 1200.77,1092.44 1200.96,1077.36 1201.15,1078.31 1201.34,1075.21 1201.53,1071.97 1201.72,1069.53 1201.91,1068.3 1202.1,1066.04 1202.29,1064.41 1202.48,1065.48 1202.67,1060.73 1202.85,1061.72 1203.04,1058.55 1203.23,1058.14 1203.42,1061.2 1203.61,1059.64 1203.8,1057.16 1203.99,1057.06 1204.18,1058.38 1204.37,1055.66 1204.56,1057.02 1204.75,1052.21 1204.94,1057.22 1205.12,1055.74 1205.31,1043.6 1205.5,1056.71 1205.69,1051.84 1205.88,1050.26 1206.07,1051.98 1206.26,1051.12 1206.45,1053.15 1206.64,1053.48 1206.83,1052.28 1207.02,1052.69 1207.21,1051.41 1207.4,1052.92 1207.58,1050.32 1207.77,1050.3 1207.96,1042 1208.15,1047.77 1208.34,1048.65 1208.53,1051.71 1208.72,1047.32 1208.91,1046.17 1209.1,1051.07 1209.29,1049.83 1209.48,1043.86 1209.67,1046.11 1209.86,1045.22 1210.04,1049.35 1210.23,1047.63 1210.42,1044.84 1210.61,1046.38 1210.8,1047.48 1210.99,1041.12 1211.18,1043.45 1211.37,1044.05 1211.56,1047.32 1211.75,1044.06 1211.94,1042.88 1212.13,1043.76 1212.31,1044.24 1212.5,1043.07 1212.69,1044.06 1212.88,1043.76 1213.07,1043.51 1213.26,1041.92 1213.45,1043.63 1213.64,1040.9 1213.83,1041.09 1214.02,1041.78 1214.21,1041.48 1214.4,1035.83 1214.59,1046.85 1214.77,1042.33 1214.96,1041.36 1215.15,1039.22 1215.34,1044.26 1215.53,1041.49 1215.72,1038.53 1215.91,1045.77 1216.1,1039.06 1216.29,1043.18 1216.48,1039.59 1216.67,1040.3 1216.86,1038.41 1217.05,1044.12 1217.23,1038.17 1217.42,1040.45 1217.61,1038.4 1217.8,1038.55 1217.99,1036.6 1218.18,1041.93 1218.37,1043.77 1218.56,1042.53 1218.75,1038.8 1218.94,1040.93 1219.13,1040.35 1219.32,1035.47 1219.5,1042.28 1219.69,1035.59 1219.88,1037.47 1220.07,1037.36 1220.26,1035.86 1220.45,1035.09 1220.64,1039.36 1220.83,1029.59 1221.02,1038.27 1221.21,1035.77 1221.4,1038.45 1221.59,1037.17 1221.78,1036.01 1221.96,1038.68 1222.15,1038.1 1222.34,1035.71 1222.53,1038.16 1222.72,1035.43 1222.91,1038.21 1223.1,1040.38 1223.29,1037.06 1223.48,1036.5 1223.67,1037.95 1223.86,1038.38 1224.05,1037.3 1224.24,1036.44 1224.42,1037.49 1224.61,1037.09 1224.8,1033.17 1224.99,1036.16 1225.18,1040.68 1225.37,1038.66 1225.56,1036.36 1225.75,1038.41 1225.94,1036.65 1226.13,1032.81 1226.32,1039.36 1226.51,1032.55 1226.69,1037.31 1226.88,1036.67 1227.07,1039.38 1227.26,1038.87 1227.45,1034.09 1227.64,1033.25 1227.83,1031.98 1228.02,1039.16 1228.21,1037.5 1228.4,1034.31 1228.59,1034.53 1228.78,1033.82 1228.97,1034.98 1229.15,1038.37 1229.34,1039.2 1229.53,1033.08 1229.72,1030.22 1229.91,1033.17 1230.1,1032.04 1230.29,1035.05 1230.48,1036.83 1230.67,1032.21 1230.86,1037.16 1231.05,1033 1231.24,1030.16 1231.43,1034.12 1231.61,1031 1231.8,1033.09 1231.99,1027.43 1232.18,1033.67 1232.37,1036.68 1232.56,1033.64 1232.75,1035.69 1232.94,1034.91 1233.13,1032.89 1233.32,1033.32 1233.51,1034.82 1233.7,1036.51 1233.88,1035.09 1234.07,1035.14 1234.26,1037.29 1234.45,1037.7 1234.64,1033.93 1234.83,1036.66 1235.02,1036.58 1235.21,1033.3 1235.4,1036.76 1235.59,1031.63 1235.78,1033.9 1235.97,1034.17 1236.16,1034.12 1236.34,1034.22 1236.53,1033.93 1236.72,1035.38 1236.91,1036 1237.1,1035.69 1237.29,1034.29 1237.48,1029.47 1237.67,1035.79 1237.86,1032.89 1238.05,1038.55 1238.24,1033.01 1238.43,1028.83 1238.62,1034.56 1238.8,1029.92 1238.99,1034.23 1239.18,1036.51 1239.37,1035.66 1239.56,1035.28 1239.75,1038.34 1239.94,1033.3 1240.13,1034.5 1240.32,1030.82 1240.51,1033.37 1240.7,1034.73 1240.89,1037.91 1241.07,1038.05 1241.26,1034.44 1241.45,1037.89 1241.64,1036.4 1241.83,1034.25 1242.02,1033.81 1242.21,1031.36 1242.4,1032.01 1242.59,1036.35 1242.78,1034.22 1242.97,1037.36 1243.16,1038.46 1243.35,1037.71 1243.53,1034.55 1243.72,1031.09 1243.91,1031.97 1244.1,1034.56 1244.29,1035.56 1244.48,1034.2 1244.67,1034.2 1244.86,1032.75 1245.05,1027.83 1245.24,1022.91 1245.43,1017.99 1245.62,1013.07 1245.81,1008.15 1245.99,1003.23 1246.18,996.78 1246.37,996.72 1246.56,999.72 1246.75,995.64 1246.94,996.05 1247.13,992 1247.32,995.03 1247.51,995.84 1247.7,997.09 1247.89,997.76 1248.08,997.23 1248.26,996.02 1248.45,993.05 1248.64,999.62 1248.83,995.16 1249.02,996.2 1249.21,994.67 1249.4,996.89 1249.59,996.44 1249.78,993.44 1249.97,993.15 1250.16,996.2 1250.35,997.1 1250.54,995.54 1250.72,995.64 1250.91,995.97 1251.1,994.57 1251.29,995.49 1251.48,995.61 1251.67,992.23 1251.86,992.39 1252.05,995.87 1252.24,993.55 1252.43,996.9 1252.62,996.29 1252.81,994.41 1253,994.97 1253.18,993.85 1253.37,995.75 1253.56,994.44 1253.75,993.36 1253.94,994.03 1254.13,997.6 1254.32,1000.11 1254.51,995.22 1254.7,997.08 1254.89,995.07 1255.08,994.3 1255.27,996.64 1255.45,994.53 1255.64,993.32 1255.83,995.02 1256.02,996.6 1256.21,995.43 1256.4,993.6 1256.59,990.59 1256.78,989.21 1256.97,998.28 1257.16,994.31 1257.35,993.56 1257.54,993.06 1257.73,992.08 1257.91,996.63 1258.1,996.37 1258.29,996.74 1258.48,989.42 1258.67,997.18 1258.86,994.47 1259.05,994.58 1259.24,992.91 1259.43,990.71 1259.62,988.64 1259.81,993.69 1260,995.87 1260.19,997.73 1260.37,991.44 1260.56,993.35 1260.75,992.87 1260.94,992.24 1261.13,994.67 1261.32,996.93 1261.51,994.66 1261.7,994.3 1261.89,991.64 1262.08,995.44 1262.27,994.1 1262.46,986.44 1262.64,993.02 1262.83,995.08 1263.02,994.66 1263.21,991.93 1263.4,996.47 1263.59,997.15 1263.78,993.85 1263.97,988.97 1264.16,991.65 1264.35,993.59 1264.54,994.02 1264.73,990.98 1264.92,992.13 1265.1,993.47 1265.29,992.72 1265.48,990.52 1265.67,992.37 1265.86,988.83 1266.05,993.62 1266.24,992.4 1266.43,991.58 1266.62,994.42 1266.81,996.24 1267,992.28 1267.19,994.77 1267.38,992.86 1267.56,993.04 1267.75,993.46 1267.94,991.31 1268.13,995.77 1268.32,994.24 1268.51,992.53 1268.7,990.8 1268.89,993.04 1269.08,991.86 1269.27,993.93 1269.46,991.8 1269.65,992.28 1269.83,993.86 1270.02,996.85 1270.21,995.4 1270.4,993.22 1270.59,989.21 1270.78,996.54 1270.97,990.07 1271.16,993.35 1271.35,993.63 1271.54,990.25 1271.73,994.16 1271.92,988.61 1272.11,993.81 1272.29,994.77 1272.48,997.79 1272.67,993.03 1272.86,993.58 1273.05,988.76 1273.24,994.71 1273.43,995.47 1273.62,992.43 1273.81,992.35 1274,996.41 1274.19,994.74 1274.38,994.46 1274.57,993.2 1274.75,994.13 1274.94,991.73 1275.13,994.98 1275.32,993.9 1275.51,992.07 1275.7,991.44 1275.89,992.01 1276.08,993.11 1276.27,991.29 1276.46,993.35 1276.65,997.08 1276.84,992.41 1277.02,994.65 1277.21,993.38 1277.4,994.57 1277.59,990.96 1277.78,989.94 1277.97,998.1 1278.16,989.55 1278.35,992.23 1278.54,1003.91 1278.73,992.67 1278.92,992.75 1279.11,989.14 1279.3,988.35 1279.48,991.51 1279.67,994.01 1279.86,993.42 1280.05,994.85 1280.24,994.74 1280.43,993.93 1280.62,992.4 1280.81,995.49 1281,997.93 1281.19,990.58 1281.38,993.68 1281.57,991.95 1281.76,992.34 1281.94,992.81 1282.13,993.71 1282.32,993.81 1282.51,994.5 1282.7,992.29 1282.89,994.11 1283.08,990.81 1283.27,988.81 1283.46,998.09 1283.65,996.25 1283.84,991.46 1284.03,994.31 1284.21,991.51 1284.4,1000.53 1284.59,994 1284.78,990.8 1284.97,991.66 1285.16,992.14 1285.35,991.84 1285.54,991.34 1285.73,991.66 1285.92,992.76 1286.11,992.13 1286.3,993.73 1286.49,993.02 1286.67,990.84 1286.86,994.62 1287.05,992.77 1287.24,994.42 1287.43,992.48 1287.62,994.16 1287.81,994.97 1288,993.28 1288.19,1002.97 1288.38,998.92 1288.57,992.54 1288.76,993.89 1288.95,994.22 1289.13,994.25 1289.32,995.6 1289.51,991.76 1289.7,990.36 1289.89,992.64 1290.08,992.75 1290.27,996.42 1290.46,993.95 1290.65,992.88 1290.84,991.26 1291.03,993.07 1291.22,993.64 1291.4,997.8 1291.59,994.92 1291.78,993.07 1291.97,988.97 1292.16,998.11 1292.35,991.1 1292.54,987.83 1292.73,992 1292.92,993.6 1293.11,991.35 1293.3,992.28 1293.49,991.76 1293.68,993.95 1293.86,997.39 1294.05,993.06 1294.24,994.85 1294.43,992.52 1294.62,991.94 1294.81,992.05 1295,999.85 1295.19,993.52 1295.38,991.26 1295.57,994.77 1295.76,988.12 1295.95,989.23 1296.14,992.53 1296.32,994.45 1296.51,995.1 1296.7,990.43 1296.89,993 1297.08,993.59 1297.27,996.58 1297.46,997.29 1297.65,992.78 1297.84,991.38 1298.03,990.79 1298.22,992.15 1298.41,993.6 1298.59,992.83 1298.78,994.9 1298.97,991.88 1299.16,994.08 1299.35,993.66 1299.54,989.93 1299.73,989.53 1299.92,990.67 1300.11,991.38 1300.3,992.22 1300.49,994.5 1300.68,994.94 1300.87,997.26 1301.05,991.37 1301.24,992.47 1301.43,993.29 1301.62,992.9 1301.81,1002.19 1302,994.41 1302.19,992.12 1302.38,990.41 1302.57,992.48 1302.76,994.06 1302.95,989.04 1303.14,991.72 1303.32,989.18 1303.51,992.79 1303.7,993.05 1303.89,994.94 1304.08,992.4 1304.27,992.95 1304.46,995.95 1304.65,993.19 1304.84,990.47 1305.03,994.45 1305.22,993.16 1305.41,983.26 1305.6,993.03 1305.78,991.51 1305.97,992.98 1306.16,994.67 1306.35,992.64 1306.54,988.68 1306.73,995.69 1306.92,997.61 1307.11,994.18 1307.3,996.58 1307.49,994.44 1307.68,993.65 1307.87,989.14 1308.06,983 1308.24,990.14 1308.43,991.81 1308.62,993.9 1308.81,995.52 1309,990.54 1309.19,991.88 1309.38,999.57 1309.57,990 1309.76,995.53 1309.95,987.38 1310.14,995.84 1310.33,991.67 1310.51,989.34 1310.7,991.03 1310.89,989.6 1311.08,992.99 1311.27,991.33 1311.46,995.09 1311.65,988.38 1311.84,993.28 1312.03,993.25 1312.22,992.66 1312.41,994.7 1312.6,983.55 1312.79,994.84 1312.97,991.93 1313.16,994.86 1313.35,992.78 1313.54,992 1313.73,990.82 1313.92,993.22 1314.11,988.24 1314.3,998.53 1314.49,993.44 1314.68,993.52 1314.87,992.28 1315.06,995.58 1315.25,990.47 1315.43,992.57 1315.62,993.2 1315.81,991.04 1316,994.25 1316.19,992.69 1316.38,990.75 1316.57,992.86 1316.76,995.72 1316.95,990.8 1317.14,989.8 1317.33,991.89 1317.52,991.07 1317.7,991.38 1317.89,991.36 1318.08,992.31 1318.27,991.36 1318.46,992.27 1318.65,991.97 1318.84,994.05 1319.03,993.07 1319.22,990.89 1319.41,992.03 1319.6,993.12 1319.79,992.02 1319.98,995.95 1320.16,993.5 1320.35,993.61 1320.54,990.98 1320.73,992.49 1320.92,995.66 1321.11,992.91 1321.3,994.48 1321.49,994.11 1321.68,995.21 1321.87,991.82 1322.06,992.48 1322.25,989.81 1322.44,994.08 1322.62,996.53 1322.81,994.52 1323,999.13 1323.19,991.25 1323.38,993.92 1323.57,993.98 1323.76,994.35 1323.95,994.29 1324.14,991.74 1324.33,990.3 1324.52,997.42 1324.71,994.01 1324.89,993.21 1325.08,993.79 1325.27,993.01 1325.46,993.38 1325.65,995.19 1325.84,994.89 1326.03,993.17 1326.22,993.68 1326.41,994.68 1326.6,991.48 1326.79,988.81 1326.98,994.68 1327.17,991.9 1327.35,993.03 1327.54,991.51 1327.73,994.25 1327.92,993.13 1328.11,992.65 1328.3,991.9 1328.49,994.36 1328.68,994.54 1328.87,991.12 1329.06,993.31 1329.25,992.01 1329.44,994.9 1329.63,990.28 1329.81,990.28 1330,993.1 1330.19,991.01 1330.38,992.84 1330.57,992.76 1330.76,992.84 1330.95,991.24 1331.14,994.76 1331.33,995.07 1331.52,992.49 1331.71,993.43 1331.9,992.67 1332.08,993.94 1332.27,992.6 1332.46,992.87 1332.65,992.89 1332.84,991.99 1333.03,992.6 1333.22,994.67 1333.41,992.59 1333.6,994.04 1333.79,992.33 1333.98,995.74 1334.17,992.21 1334.36,993.99 1334.54,993 1334.73,994.99 1334.92,993.02 1335.11,991.47 1335.3,990.85 1335.49,992.11 1335.68,995.32 1335.87,990.2 1336.06,994.74 1336.25,994.79 1336.44,996.12 1336.63,992.14 1336.82,993.08 1337,990.26 1337.19,992.42 1337.38,995.57 1337.57,988.06 1337.76,992.48 1337.95,993.2 1338.14,994.94 1338.33,989.6 1338.52,996.2 1338.71,993.43 1338.9,995.08 1339.09,991.73 1339.27,991.96 1339.46,994.64 1339.65,998.19 1339.84,993.11 1340.03,993.72 1340.22,991.4 1340.41,1000.92 1340.6,993.59 1340.79,997.05 1340.98,992.68 1341.17,990.54 1341.36,994.16 1341.55,990.63 1341.73,994.33 1341.92,993.76 1342.11,995.37 1342.3,993.97 1342.49,994.26 1342.68,992.4 1342.87,990.45 1343.06,994.36 1343.25,992.32 1343.44,995.33 1343.63,994.4 1343.82,992.08 1344.01,992.29 1344.19,987.28 1344.38,990.47 1344.57,993.38 1344.76,994.87 1344.95,991.19 1345.14,994.18 1345.33,993.72 1345.52,987.29 1345.71,992.8 1345.9,992.07 1346.09,993.07 1346.28,989.8 1346.46,992.54 1346.65,992.65 1346.84,992.31 1347.03,996.55 1347.22,995.01 1347.41,995.11 1347.6,993.02 1347.79,981.51 1347.98,992.63 1348.17,991.41 1348.36,992.08 1348.55,995.33 1348.74,994.61 1348.92,991 1349.11,990.75 1349.3,990.14 1349.49,994.28 1349.68,994.37 1349.87,989.67 1350.06,994.05 1350.25,988 1350.44,990.93 1350.63,994.2 1350.82,990.57 1351.01,994.24 1351.2,993.89 1351.38,995.01 1351.57,990.81 1351.76,995.68 1351.95,993.06 1352.14,990.85 1352.33,992.45 1352.52,993.26 1352.71,991.18 1352.9,994.77 1353.09,991.85 1353.28,995.67 1353.47,990.76 1353.65,991.63 1353.84,992.88 1354.03,997.41 1354.22,993.85 1354.41,994.85 1354.6,992.86 1354.79,993.72 1354.98,996.04 1355.17,996.54 1355.36,994.88 1355.55,995.47 1355.74,992.51 1355.93,991.61 1356.11,990.14 1356.3,994.82 1356.49,987.28 1356.68,998.12 1356.87,995.43 1357.06,994.36 1357.25,980.83 1357.44,991.64 1357.63,995.41 1357.82,992.67 1358.01,997.11 1358.2,990.77 1358.39,992.2 1358.57,989.87 1358.76,990.52 1358.95,992.1 1359.14,991.98 1359.33,997.05 1359.52,991.43 1359.71,993.27 1359.9,990.09 1360.09,993.67 1360.28,990.16 1360.47,988.61 1360.66,991.43 1360.84,992.53 1361.03,994.54 1361.22,992.19 1361.41,995.88 1361.6,991.86 1361.79,992.51 1361.98,993.62 1362.17,994.36 1362.36,991.53 1362.55,991.83 1362.74,994.07 1362.93,992.75 1363.12,993.03 1363.3,993.17 1363.49,988.53 1363.68,991.88 1363.87,990.15 1364.06,995.93 1364.25,989.21 1364.44,990.32 1364.63,994.59 1364.82,992.36 1365.01,993.64 1365.2,994.93 1365.39,995.3 1365.58,991.83 1365.76,994 1365.95,993.38 1366.14,989.19 1366.33,994.59 1366.52,991.3 1366.71,992.98 1366.9,993.55 1367.09,994.06 1367.28,992.95 1367.47,991.58 1367.66,988.57 1367.85,984.84 1368.03,993.13 1368.22,993.09 1368.41,994.56 1368.6,989.2 1368.79,992.84 1368.98,996.84 1369.17,991.19 1369.36,992.09 1369.55,991.95 1369.74,990.94 1369.93,994.66 1370.12,994.33 1370.31,995.22 1370.49,994.88 1370.68,992.68 1370.87,992.2 1371.06,993.01 1371.25,993.54 1371.44,990.76 1371.63,991.93 1371.82,994.08 1372.01,993.02 1372.2,991.64 1372.39,991.92 1372.58,996.01 1372.77,993.15 1372.95,990.65 1373.14,990.76 1373.33,994.22 1373.52,990.11 1373.71,989.21 1373.9,991.4 1374.09,995.28 1374.28,990.03 1374.47,993.17 1374.66,991.7 1374.85,986.4 1375.04,991.17 1375.22,990.26 1375.41,992.6 1375.6,993.15 1375.79,993.76 1375.98,991.93 1376.17,992.61 1376.36,993.07 1376.55,991.91 1376.74,996.14 1376.93,995 1377.12,992.91 1377.31,994.06 1377.5,994.45 1377.68,991.58 1377.87,996.57 1378.06,990.05 1378.25,992.78 1378.44,991.13 1378.63,991.44 1378.82,996.95 1379.01,990.66 1379.2,992.11 1379.39,992.88 1379.58,990.84 1379.77,993.61 1379.96,993.03 1380.14,991.83 1380.33,992.75 1380.52,990.34 1380.71,993.96 1380.9,992.5 1381.09,993.23 1381.28,993.57 1381.47,994.29 1381.66,993.96 1381.85,993.91 1382.04,991.36 1382.23,993.38 1382.41,990.98 1382.6,991.09 1382.79,993.14 1382.98,990.71 1383.17,992.15 1383.36,992.16 1383.55,990.05 1383.74,996.47 1383.93,993.96 1384.12,993.65 1384.31,993.95 1384.5,995.46 1384.69,993.69 1384.87,992.82 1385.06,991.51 1385.25,993.15 1385.44,993.04 1385.63,992.71 1385.82,990.4 1386.01,991.26 1386.2,993.02 1386.39,989.28 1386.58,994.88 1386.77,991.53 1386.96,991.81 1387.15,992 1387.33,991.89 1387.52,991.43 1387.71,995.72 1387.9,995.43 1388.09,993.12 1388.28,996.1 1388.47,992.22 1388.66,995.88 1388.85,992.76 1389.04,993.02 1389.23,997.89 1389.42,992.82 1389.6,992.06 1389.79,996.76 1389.98,994.95 1390.17,992.25 1390.36,994.81 1390.55,991.31 1390.74,992.01 1390.93,996.58 1391.12,992.22 1391.31,991.37 1391.5,993.62 1391.69,993.3 1391.88,990.83 1392.06,995.99 1392.25,992.42 1392.44,990.48 1392.63,992.15 1392.82,992.53 1393.01,995.29 1393.2,995.84 1393.39,993.21 1393.58,994.39 1393.77,993.91 1393.96,993.77 1394.15,993.03 1394.33,995.25 1394.52,993.85 1394.71,994.98 1394.9,992.71 1395.09,994.22 1395.28,990.89 1395.47,995.13 1395.66,987.97 1395.85,989.71 1396.04,990.24 1396.23,988.81 1396.42,993.14 1396.61,993.47 1396.79,990.62 1396.98,991.75 1397.17,990.38 1397.36,990.36 1397.55,995.81 1397.74,991.07 1397.93,991.23 1398.12,992.85 1398.31,993.52 1398.5,994.01 1398.69,993.17 1398.88,990.09 1399.07,994.68 1399.25,993.79 1399.44,994.91 1399.63,991.75 1399.82,990.8 1400.01,994.12 1400.2,992.67 1400.39,994.6 1400.58,989.12 1400.77,990.77 1400.96,994.35 1401.15,993.38 1401.34,992.46 1401.52,990.85 1401.71,993.42 1401.9,988.55 1402.09,991.66 1402.28,990 1402.47,995.02 1402.66,990.68 1402.85,993.46 1403.04,995.28 1403.23,990.9 1403.42,991.3 1403.61,994.47 1403.8,992.04 1403.98,991.26 1404.17,988.07 1404.36,994.77 1404.55,987.43 1404.74,990.34 1404.93,992.85 1405.12,991.62 1405.31,990.07 1405.5,992.26 1405.69,993.12 1405.88,993.72 1406.07,991.42 1406.26,991.37 1406.44,991.9 1406.63,991.36 1406.82,991.6 1407.01,993.23 1407.2,992.58 1407.39,990.77 1407.58,993.17 1407.77,988.71 1407.96,992.83 1408.15,990.22 1408.34,991.21 1408.53,991.26 1408.71,992.63 1408.9,994.79 1409.09,989.56 1409.28,991.2 1409.47,989.47 1409.66,990.95 1409.85,991.3 1410.04,993.1 1410.23,992.2 1410.42,990.71 1410.61,990.68 1410.8,990.05 1410.99,994.71 1411.17,989.22 1411.36,994.12 1411.55,995.49 1411.74,994.52 1411.93,995.43 1412.12,994.53 1412.31,984.59 1412.5,994.54 1412.69,992.35 1412.88,992.75 1413.07,989.45 1413.26,993.93 1413.45,990.31 1413.63,995.69 1413.82,994.21 1414.01,997.34 1414.2,991.18 1414.39,992.15 1414.58,994.93 1414.77,991.94 1414.96,991.82 1415.15,990.19 1415.34,994.72 1415.53,995.28 1415.72,990.95 1415.9,993.57 1416.09,993.15 1416.28,996.55 1416.47,990.04 1416.66,991.88 1416.85,991.97 1417.04,995.66 1417.23,996.27 1417.42,997.83 1417.61,994.37 1417.8,992.89 1417.99,992.2 1418.18,992.38 1418.36,991.28 1418.55,993.58 1418.74,994.15 1418.93,997.19 1419.12,991.34 1419.31,992.08 1419.5,993.6 1419.69,991.91 1419.88,995.14 1420.07,994.21 1420.26,995.17 1420.45,992.42 1420.64,993.73 1420.82,992.7 1421.01,992.23 1421.2,998.09 1421.39,993.88 1421.58,990.93 1421.77,992.63 1421.96,992.76 1422.15,990.21 1422.34,991.33 1422.53,991.13 1422.72,991.46 1422.91,993.13 1423.09,992.96 1423.28,996.06 1423.47,996.17 1423.66,990.46 1423.85,992.32 1424.04,996.58 1424.23,995.33 1424.42,995.77 1424.61,992.09 1424.8,996.48 1424.99,991.43 1425.18,989.55 1425.37,994.67 1425.55,992.89 1425.74,992.89 1425.93,991.72 1426.12,987.62 1426.31,983.52 1426.5,979.42 1426.69,975.32 1426.88,971.22 1427.07,967.12 1427.26,963.58 1427.45,963.42 1427.64,963.26 1427.83,963.69 1428.01,960.51 1428.2,962.16 1428.39,963.83 1428.58,966.6 1428.77,963.54 1428.96,962.27 1429.15,959.54 1429.34,960.59 1429.53,961.45 1429.72,962.99 1429.91,956.57 1430.1,964.83 1430.28,962.92 1430.47,960.69 1430.66,962.88 1430.85,960.38 1431.04,959.2 1431.23,964.81 1431.42,963.33 1431.61,960.02 1431.8,959.34 1431.99,959.87 1432.18,957.4 1432.37,962.74 1432.56,968.63 1432.74,961.68 1432.93,962.82 1433.12,958.23 1433.31,960.97 1433.5,954.9 1433.69,959.1 1433.88,959.69 1434.07,961.7 1434.26,962.13 1434.45,958.81 1434.64,959.04 1434.83,959.12 1435.02,956.93 1435.2,960.61 1435.39,960.09 1435.58,961.09 1435.77,966.03 1435.96,961.35 1436.15,959.25 1436.34,958.02 1436.53,961.47 1436.72,955.09 1436.91,953.49 1437.1,961.22 1437.29,957.05 1437.47,960.09 1437.66,959.33 1437.85,960.08 1438.04,956.78 1438.23,959.12 1438.42,959.89 1438.61,961.31 1438.8,957.56 1438.99,961.09 1439.18,957.67 1439.37,956.44 1439.56,960.77 1439.75,962.52 1439.93,959.57 1440.12,965.51 1440.31,959.7 1440.5,958.83 1440.69,960.04 1440.88,959.16 1441.07,957.83 1441.26,960.98 1441.45,956.38 1441.64,956.83 1441.83,959.8 1442.02,956.16 1442.21,957.31 1442.39,960.74 1442.58,958.7 1442.77,959.11 1442.96,962.96 1443.15,955.68 1443.34,955.69 1443.53,960.7 1443.72,957.57 1443.91,962.06 1444.1,957.95 1444.29,957.74 1444.48,959.42 1444.66,959.23 1444.85,961.42 1445.04,958.39 1445.23,956.34 1445.42,971.26 1445.61,953.46 1445.8,956.58 1445.99,959.22 1446.18,956.6 1446.37,963.69 1446.56,966.73 1446.75,960.11 1446.94,958.44 1447.12,961.58 1447.31,959.53 1447.5,955.43 1447.69,959.53 1447.88,960.34 1448.07,961.6 1448.26,958.98 1448.45,959.4 1448.64,958.44 1448.83,956.59 1449.02,958.98 1449.21,958.64 1449.4,953.68 1449.58,960.36 1449.77,960.31 1449.96,960.69 1450.15,957.21 1450.34,963.16 1450.53,960.25 1450.72,959.48 1450.91,959.19 1451.1,956.96 1451.29,958.93 1451.48,958.29 1451.67,959.32 1451.85,955.68 1452.04,957.99 1452.23,957.45 1452.42,959.83 1452.61,958 1452.8,959.54 1452.99,959.81 1453.18,959.41 1453.37,959.24 1453.56,959.34 1453.75,957.87 1453.94,956.78 1454.13,960.73 1454.31,960.27 1454.5,955.88 1454.69,963.12 1454.88,959.27 1455.07,958.45 1455.26,961.39 1455.45,958.66 1455.64,954.32 1455.83,958.37 1456.02,956.22 1456.21,957.82 1456.4,957.8 1456.59,958.12 1456.77,955.72 1456.96,956.83 1457.15,960.86 1457.34,960.06 1457.53,960.31 1457.72,955.94 1457.91,958.46 1458.1,962.11 1458.29,956.62 1458.48,959.05 1458.67,958.62 1458.86,961.56 1459.04,958.31 1459.23,957.34 1459.42,956.51 1459.61,964.15 1459.8,958.77 1459.99,957.01 1460.18,959.43 1460.37,959.08 1460.56,962.55 1460.75,960.17 1460.94,961.51 1461.13,958.72 1461.32,960.41 1461.5,958.48 1461.69,959.45 1461.88,956.84 1462.07,960.58 1462.26,959.52 1462.45,959.71 1462.64,959.73 1462.83,960.03 1463.02,958.16 1463.21,959.76 1463.4,960.02 1463.59,959.77 1463.78,959.22 1463.96,959.09 1464.15,955.49 1464.34,959.84 1464.53,956.77 1464.72,959.81 1464.91,961.13 1465.1,957.74 1465.29,959.63 1465.48,958.73 1465.67,958.73 1465.86,955.6 1466.05,950.14 1466.23,944.67 1466.42,939.21 1466.61,933.74 1466.8,928.28 1466.99,922.81 1467.18,919.63 1467.37,919.5 1467.56,918.64 1467.75,923.07 1467.94,917.61 1468.13,907.31 1468.32,917.95 1468.51,916.13 1468.69,921.36 1468.88,914.89 1469.07,922.76 1469.26,918.07 1469.45,918.05 1469.64,918.27 1469.83,917.83 1470.02,917.82 1470.21,917.27 1470.4,918.59 1470.59,918.94 1470.78,917.23 1470.97,923.03 1471.15,919.01 1471.34,915.75 1471.53,916.39 1471.72,912.46 1471.91,917.56 1472.1,911.08 1472.29,916.65 1472.48,920.42 1472.67,918.25 1472.86,919.76 1473.05,919.12 1473.24,922.2 1473.42,918.37 1473.61,915.94 1473.8,918.38 1473.99,915.62 1474.18,916.64 1474.37,916.8 1474.56,916.84 1474.75,914.05 1474.94,916.39 1475.13,915.75 1475.32,916.12 1475.51,916.95 1475.7,918.07 1475.88,918.51 1476.07,913.29 1476.26,916.48 1476.45,921.77 1476.64,919.92 1476.83,916.51 1477.02,918.31 1477.21,919.04 1477.4,916.81 1477.59,918.03 1477.78,918.1 1477.97,916.71 1478.16,912.04 1478.34,918.47 1478.53,916.56 1478.72,914.09 1478.91,917.28 1479.1,915.65 1479.29,917.52 1479.48,918.89 1479.67,915.48 1479.86,915.76 1480.05,916.57 1480.24,915.71 1480.43,917.03 1480.61,914.64 1480.8,914.99 1480.99,916.88 1481.18,915.83 1481.37,916.78 1481.56,918.06 1481.75,915.98 1481.94,917.15 1482.13,917.45 1482.32,916.2 1482.51,916.28 1482.7,915.75 1482.89,914.85 1483.07,915.55 1483.26,916.63 1483.45,920.38 1483.64,918.88 1483.83,919.03 1484.02,914.35 1484.21,913.92 1484.4,915.37 1484.59,916.5 1484.78,914.01 1484.97,917.08 1485.16,914.38 1485.34,914.05 1485.53,911.06 1485.72,920.18 1485.91,915.83 1486.1,917.81 1486.29,917.52 1486.48,917.71 1486.67,917.09 1486.86,917.79 1487.05,914.75 1487.24,918.21 1487.43,915.75 1487.62,920.43 1487.8,916.93 1487.99,918.11 1488.18,912.75 1488.37,917.34 1488.56,921.47 1488.75,917.15 1488.94,920.3 1489.13,917.74 1489.32,912.25 1489.51,915.89 1489.7,912.46 1489.89,914.28 1490.08,915.95 1490.26,915.96 1490.45,911.97 1490.64,916.39 1490.83,915.53 1491.02,914.6 1491.21,919.47 1491.4,913.53 1491.59,915.05 1491.78,918.4 1491.97,915.64 1492.16,914.48 1492.35,913.78 1492.53,913.6 1492.72,917.4 1492.91,916.5 1493.1,916.61 1493.29,912.85 1493.48,920.19 1493.67,914.53 1493.86,913.87 1494.05,913.97 1494.24,916.38 1494.43,913.93 1494.62,911.81 1494.81,918.73 1494.99,915.77 1495.18,914.9 1495.37,912.19 1495.56,913.61 1495.75,914.78 1495.94,920.48 1496.13,916 1496.32,911.56 1496.51,910.62 1496.7,914.96 1496.89,917.19 1497.08,916.85 1497.27,913.53 1497.45,917.49 1497.64,912.45 1497.83,914.41 1498.02,917.83 1498.21,913.88 1498.4,913.98 1498.59,914.59 1498.78,916.21 1498.97,916.66 1499.16,910.03 1499.35,918.81 1499.54,916.25 1499.72,914.05 1499.91,915.01 1500.1,916.16 1500.29,920.94 1500.48,914.8 1500.67,914.6 1500.86,905.27 1501.05,919.95 1501.24,918.76 1501.43,916.14 1501.62,916.31 1501.81,915.74 1502,912.58 1502.18,916.01 1502.37,922.42 1502.56,915.79 1502.75,915.79 1502.94,915.04 1503.13,909.85 1503.32,904.66 1503.51,899.47 1503.7,894.27 1503.89,889.08 1504.08,883.89 1504.27,878.7 1504.46,878.46 1504.64,878.23 1504.83,879.11 1505.02,878.3 1505.21,878.89 1505.4,878.23 1505.59,878.35 1505.78,875.52 1505.97,874.6 1506.16,872.61 1506.35,874.95 1506.54,876.36 1506.73,876.87 1506.91,877 1507.1,876.12 1507.29,878.03 1507.48,876.15 1507.67,876.59 1507.86,874.63 1508.05,873.66 1508.24,872.04 1508.43,875.82 1508.62,877.61 1508.81,876.09 1509,871.01 1509.19,876.46 1509.37,873.05 1509.56,872.21 1509.75,873.04 1509.94,880.36 1510.13,874.1 1510.32,876.42 1510.51,876.04 1510.7,875.89 1510.89,870.89 1511.08,869.18 1511.27,873.42 1511.46,872.43 1511.65,872.84 1511.83,872.51 1512.02,872.03 1512.21,873.1 1512.4,871.66 1512.59,872.75 1512.78,875.43 1512.97,870.5 1513.16,874.96 1513.35,875.8 1513.54,876.59 1513.73,874.82 1513.92,870.16 1514.1,873.59 1514.29,870.76 1514.48,876.94 1514.67,871.12 1514.86,875.88 1515.05,871.24 1515.24,875.81 1515.43,870.4 1515.62,865.71 1515.81,873.35 1516,871.9 1516.19,873.82 1516.38,872.4 1516.56,870.3 1516.75,873.02 1516.94,874.41 1517.13,874.4 1517.32,876.72 1517.51,870.03 1517.7,870.96 1517.89,875.49 1518.08,875.28 1518.27,870.6 1518.46,874.24 1518.65,874.04 1518.84,871.86 1519.02,870.79 1519.21,875.44 1519.4,869.27 1519.59,874.14 1519.78,875.25 1519.97,868.73 1520.16,871.29 1520.35,870.43 1520.54,872.69 1520.73,875.37 1520.92,874.82 1521.11,869.94 1521.29,872.79 1521.48,871.58 1521.67,868.37 1521.86,867.93 1522.05,871.58 1522.24,881.76 1522.43,873.36 1522.62,875.3 1522.81,868.95 1523,869.65 1523.19,870.82 1523.38,873.92 1523.57,869.86 1523.75,874.95 1523.94,872.45 1524.13,866.46 1524.32,870.53 1524.51,874.58 1524.7,871.99 1524.89,876.13 1525.08,870.32 1525.27,871.63 1525.46,871.15 1525.65,872.68 1525.84,870.13 1526.03,871.42 1526.21,872.62 1526.4,868.73 1526.59,876.72 1526.78,869.39 1526.97,872.82 1527.16,873.67 1527.35,872.53 1527.54,873.42 1527.73,870.36 1527.92,875.03 1528.11,875.93 1528.3,872.35 1528.48,867.8 1528.67,872.5 1528.86,870.1 1529.05,871.29 1529.24,870.38 1529.43,868.58 1529.62,872.05 1529.81,869.98 1530,872.06 1530.19,870.61 1530.38,870.47 1530.57,874.29 1530.76,870.02 1530.94,869.23 1531.13,873.47 1531.32,874.77 1531.51,869.83 1531.7,873.09 1531.89,864.58 1532.08,870.73 1532.27,874.14 1532.46,868.78 1532.65,875.02 1532.84,872.88 1533.03,871.56 1533.22,872.78 1533.4,869.19 1533.59,872.46 1533.78,875.55 1533.97,869.04 1534.16,874.65 1534.35,869.68 1534.54,870.23 1534.73,873.62 1534.92,871.04 1535.11,876.93 1535.3,870.69 1535.49,873.15 1535.67,874.11 1535.86,872.45 1536.05,868.16 1536.24,870.19 1536.43,869.51 1536.62,868.53 1536.81,874.37 1537,874.26 1537.19,875.11 1537.38,872.65 1537.57,880.98 1537.76,874.08 1537.95,868.51 1538.13,874.25 1538.32,876.61 1538.51,872.11 1538.7,872.59 1538.89,869.13 1539.08,871.87 1539.27,871.87 1539.46,870.89 1539.65,867.47 1539.84,864.06 1540.03,860.64 1540.22,857.22 1540.41,853.81 1540.59,850.39 1540.78,847.39 1540.97,846.91 1541.16,846.44 1541.35,845.91 1541.54,842.97 1541.73,844.11 1541.92,838.05 1542.11,843.71 1542.3,840.35 1542.49,845.11 1542.68,843.86 1542.86,840.3 1543.05,846.12 1543.24,842.65 1543.43,842.53 1543.62,840.97 1543.81,843.28 1544,842.07 1544.19,839.71 1544.38,835.13 1544.57,837.69 1544.76,842.49 1544.95,839.16 1545.14,840.72 1545.32,842.46 1545.51,837.64 1545.7,835.95 1545.89,838.38 1546.08,840.93 1546.27,838.15 1546.46,839.06 1546.65,839.3 1546.84,843.54 1547.03,833.28 1547.22,838.41 1547.41,836.07 1547.6,836.91 1547.78,839.63 1547.97,834.08 1548.16,832.69 1548.35,834.09 1548.54,835.02 1548.73,838.91 1548.92,834 1549.11,834.09 1549.3,829.28 1549.49,835.05 1549.68,836.08 1549.87,837.24 1550.05,835.51 1550.24,828.71 1550.43,833.35 1550.62,831.28 1550.81,834.19 1551,831.91 1551.19,836.85 1551.38,830.26 1551.57,828.67 1551.76,833.07 1551.95,828.12 1552.14,834.46 1552.33,829.89 1552.51,836.59 1552.7,832.54 1552.89,833.15 1553.08,833.84 1553.27,833.37 1553.46,835.68 1553.65,834.35 1553.84,825.81 1554.03,834.88 1554.22,831.82 1554.41,831.99 1554.6,828.49 1554.79,828.61 1554.97,826.79 1555.16,824.53 1555.35,835.41 1555.54,829.07 1555.73,833.07 1555.92,828.42 1556.11,829.91 1556.3,831.09 1556.49,834.37 1556.68,836.73 1556.87,829.11 1557.06,831.42 1557.24,832.61 1557.43,829.61 1557.62,827.1 1557.81,827.79 1558,828.51 1558.19,826.27 1558.38,831.12 1558.57,834.68 1558.76,831.17 1558.95,830.34 1559.14,830.66 1559.33,831.27 1559.52,826.95 1559.7,835.03 1559.89,828.28 1560.08,828.35 1560.27,825.53 1560.46,826.4 1560.65,827.41 1560.84,828.51 1561.03,828.82 1561.22,829.3 1561.41,828.65 1561.6,827.92 1561.79,829.6 1561.98,831.87 1562.16,833.84 1562.35,833.53 1562.54,828.68 1562.73,831.07 1562.92,835.06 1563.11,830.67 1563.3,831.14 1563.49,835.23 1563.68,828.29 1563.87,834.18 1564.06,829.03 1564.25,828.57 1564.43,837.11 1564.62,827.9 1564.81,830.02 1565,835.2 1565.19,830.66 1565.38,827.35 1565.57,825.09 1565.76,832.4 1565.95,826.49 1566.14,834.64 1566.33,829.29 1566.52,832.3 1566.71,836.88 1566.89,832.12 1567.08,832.58 1567.27,833.4 1567.46,827.65 1567.65,832.26 1567.84,829.2 1568.03,829.4 1568.22,831.32 1568.41,830.4 1568.6,829.31 1568.79,831.98 1568.98,836.24 1569.17,828.3 1569.35,831.59 1569.54,828.84 1569.73,833.33 1569.92,835.84 1570.11,834.35 1570.3,832.73 1570.49,832.26 1570.68,832.2 1570.87,834.08 1571.06,835.31 1571.25,831.82 1571.44,832.43 1571.62,835.28 1571.81,831.84 1572,833.44 1572.19,835.57 1572.38,832.73 1572.57,834.02 1572.76,828.84 1572.95,835.77 1573.14,836.79 1573.33,833.23 1573.52,833.04 1573.71,835.83 1573.9,828.07 1574.08,833.47 1574.27,831.58 1574.46,834.47 1574.65,833.46 1574.84,835.79 1575.03,832.44 1575.22,832.67 1575.41,837.07 1575.6,830.96 1575.79,833.42 1575.98,831.44 1576.17,837.37 1576.36,836.38 1576.54,840.04 1576.73,833.41 1576.92,836.04 1577.11,835.44 1577.3,833.68 1577.49,833.18 1577.68,833.23 1577.87,833.06 1578.06,833.15 1578.25,833.87 1578.44,833.87 1578.63,833.18 1578.81,828.8 1579,824.43 1579.19,820.06 1579.38,815.69 1579.57,811.31 1579.76,806.94 1579.95,802.57 1580.14,802.3 1580.33,802.05 1580.52,797.68 1580.71,798.72 1580.9,798.45 1581.09,802.21 1581.27,802.06 1581.46,801.3 1581.65,794.82 1581.84,797.9 1582.03,798.96 1582.22,804.86 1582.41,797.01 1582.6,803.07 1582.79,809.21 1582.98,798.71 1583.17,799.06 1583.36,796.27 1583.54,796.32 1583.73,795.4 1583.92,797.39 1584.11,800.71 1584.3,798.22 1584.49,794.99 1584.68,797.86 1584.87,797.4 1585.06,797.09 1585.25,795.91 1585.44,796.15 1585.63,798.75 1585.82,804.25 1586,798.48 1586.19,799.25 1586.38,799.13 1586.57,795.05 1586.76,797.81 1586.95,798.88 1587.14,795.37 1587.33,795.23 1587.52,797.26 1587.71,794.11 1587.9,797.53 1588.09,801.2 1588.28,798.98 1588.46,792.75 1588.65,792.97 1588.84,800.68 1589.03,797.54 1589.22,795.78 1589.41,799.77 1589.6,796.49 1589.79,793.17 1589.98,802.1 1590.17,797.87 1590.36,793.1 1590.55,796.91 1590.73,792.1 1590.92,798.16 1591.11,794.41 1591.3,800.81 1591.49,795.64 1591.68,795.77 1591.87,795.31 1592.06,802.16 1592.25,792.18 1592.44,794.49 1592.63,797.66 1592.82,798.78 1593.01,801.71 1593.19,797.13 1593.38,800.47 1593.57,796.81 1593.76,797.24 1593.95,797.83 1594.14,800.43 1594.33,796.47 1594.52,798.67 1594.71,796.17 1594.9,794.35 1595.09,796.4 1595.28,792.73 1595.47,796.7 1595.65,798.15 1595.84,796.9 1596.03,796.14 1596.22,797.72 1596.41,796.33 1596.6,798.91 1596.79,797.91 1596.98,790.99 1597.17,797.47 1597.36,798.14 1597.55,796.28 1597.74,801.58 1597.92,798.63 1598.11,803.12 1598.3,797.39 1598.49,794.92 1598.68,793.74 1598.87,800.96 1599.06,793.64 1599.25,796.47 1599.44,796.54 1599.63,796.65 1599.82,794.92 1600.01,796.71 1600.2,796.32 1600.38,790.59 1600.57,799.43 1600.76,798.95 1600.95,797.06 1601.14,795.31 1601.33,796.16 1601.52,795.79 1601.71,797.1 1601.9,792.26 1602.09,798.37 1602.28,796.65 1602.47,795.34 1602.66,796.27 1602.84,797.11 1603.03,798.52 1603.22,793.93 1603.41,794.85 1603.6,795.23 1603.79,803.9 1603.98,799.53 1604.17,790.11 1604.36,797.98 1604.55,798.13 1604.74,802.17 1604.93,797.01 1605.11,798.49 1605.3,797.99 1605.49,799.99 1605.68,798.12 1605.87,793.25 1606.06,796.07 1606.25,792.41 1606.44,792.36 1606.63,797.88 1606.82,796.87 1607.01,792.54 1607.2,795.79 1607.39,791.99 1607.57,798.88 1607.76,794.51 1607.95,794.66 1608.14,797.37 1608.33,795.83 1608.52,795.65 1608.71,796.78 1608.9,792.95 1609.09,800.68 1609.28,796.14 1609.47,802.21 1609.66,794.81 1609.85,794.5 1610.03,795 1610.22,789.76 1610.41,795.05 1610.6,800.16 1610.79,795.93 1610.98,801.07 1611.17,792.28 1611.36,795.91 1611.55,796.9 1611.74,794.35 1611.93,795.11 1612.12,794.03 1612.3,794.72 1612.49,792.88 1612.68,795.36 1612.87,795.82 1613.06,792.55 1613.25,794.35 1613.44,798.34 1613.63,797.4 1613.82,793.96 1614.01,795.57 1614.2,793.95 1614.39,798.84 1614.58,796.81 1614.76,793.86 1614.95,795.35 1615.14,798.54 1615.33,797.88 1615.52,795.84 1615.71,799.62 1615.9,797.36 1616.09,801.32 1616.28,800.38 1616.47,793.94 1616.66,800.16 1616.85,796.91 1617.04,797.56 1617.22,798.02 1617.41,802.88 1617.6,803.61 1617.79,795.83 1617.98,802.27 1618.17,800.13 1618.36,805.14 1618.55,803.06 1618.74,793.6 1618.93,794.31 1619.12,791.71 1619.31,789.12 1619.49,786.52 1619.68,783.93 1619.87,781.33 1620.06,778.73 1620.25,776.14 1620.44,773.54 1620.63,770.95 1620.82,768.35 1621.01,767.62 1621.2,760.39 1621.39,760.91 1621.58,766.25 1621.77,762.84 1621.95,761.64 1622.14,764.07 1622.33,763.88 1622.52,758.98 1622.71,761.28 1622.9,760.23 1623.09,760.92 1623.28,759.38 1623.47,761.07 1623.66,762.14 1623.85,759.13 1624.04,765.15 1624.23,758.69 1624.41,761.66 1624.6,761.68 1624.79,763.43 1624.98,761.88 1625.17,761.87 1625.36,759.55 1625.55,759.18 1625.74,757.78 1625.93,759.82 1626.12,764.28 1626.31,760.44 1626.5,760.02 1626.68,758.81 1626.87,758.66 1627.06,760.82 1627.25,758.54 1627.44,760.22 1627.63,760.61 1627.82,758.03 1628.01,758.26 1628.2,757.13 1628.39,757.71 1628.58,756.35 1628.77,755.53 1628.96,754.7 1629.14,758.14 1629.33,759.65 1629.52,758.18 1629.71,762.31 1629.9,758.24 1630.09,757.91 1630.28,754.35 1630.47,761.11 1630.66,759.25 1630.85,758.61 1631.04,760.54 1631.23,756.94 1631.42,760.19 1631.6,752.99 1631.79,758.03 1631.98,758.09 1632.17,759.5 1632.36,756.85 1632.55,755.66 1632.74,760.69 1632.93,759.59 1633.12,758.36 1633.31,759.48 1633.5,753.52 1633.69,749.32 1633.87,756.45 1634.06,756.56 1634.25,756.22 1634.44,759.61 1634.63,755.03 1634.82,756.81 1635.01,756.16 1635.2,754.51 1635.39,757.25 1635.58,756.25 1635.77,759.92 1635.96,757.56 1636.15,755.74 1636.33,758.56 1636.52,754.96 1636.71,759.33 1636.9,762.65 1637.09,759.41 1637.28,756.96 1637.47,755.53 1637.66,750.43 1637.85,760.32 1638.04,760.77 1638.23,760.96 1638.42,758.5 1638.61,755.38 1638.79,756.71 1638.98,758.09 1639.17,757.08 1639.36,760.26 1639.55,755.42 1639.74,758.57 1639.93,754.61 1640.12,757.19 1640.31,755.73 1640.5,760.43 1640.69,754.58 1640.88,755.2 1641.06,758.91 1641.25,759.74 1641.44,755.97 1641.63,759.04 1641.82,756.3 1642.01,759.23 1642.2,758.08 1642.39,750.43 1642.58,757.46 1642.77,757.06 1642.96,757.61 1643.15,757.03 1643.34,758.5 1643.52,761.91 1643.71,756.95 1643.9,758.09 1644.09,756.56 1644.28,754.66 1644.47,754.39 1644.66,755.5 1644.85,757.33 1645.04,757.4 1645.23,757.4 1645.42,756.8 1645.61,756.93 1645.8,760.1 1645.98,762.24 1646.17,759.47 1646.36,756.91 1646.55,751.42 1646.74,758.69 1646.93,757.2 1647.12,756.67 1647.31,755.44 1647.5,764.03 1647.69,756.4 1647.88,761.53 1648.07,756.47 1648.25,761.39 1648.44,754.83 1648.63,758.68 1648.82,758.08 1649.01,757.75 1649.2,757.85 1649.39,757.88 1649.58,757.7 1649.77,758.91 1649.96,759.89 1650.15,752.96 1650.34,758.89 1650.53,758.44 1650.71,755.94 1650.9,756.77 1651.09,760.99 1651.28,758.32 1651.47,759.26 1651.66,758.55 1651.85,758.41 1652.04,748.55 1652.23,754.7 1652.42,759.07 1652.61,761.49 1652.8,759.57 1652.99,756.91 1653.17,758.37 1653.36,756.73 1653.55,760.61 1653.74,756.55 1653.93,758.2 1654.12,758.39 1654.31,757.04 1654.5,754.9 1654.69,753.58 1654.88,759.93 1655.07,760.87 1655.26,759.22 1655.44,756.38 1655.63,759.17 1655.82,755.29 1656.01,755.47 1656.2,752.18 1656.39,755.75 1656.58,755.79 1656.77,755.63 1656.96,757.47 1657.15,752.61 1657.34,765.81 1657.53,757.19 1657.72,757.91 1657.9,759.45 1658.09,755.33 1658.28,754.96 1658.47,759.44 1658.66,757.67 1658.85,761.05 1659.04,757.11 1659.23,756.91 1659.42,753.49 1659.61,757.31 1659.8,760.4 1659.99,758.51 1660.18,757.36 1660.36,759.01 1660.55,760.61 1660.74,755.46 1660.93,762.15 1661.12,759.66 1661.8,776.26 1662.47,792.73 1663.15,808.35 1663.82,823.9 1664.5,839.03 1665.18,854.04 1665.85,868.19 1666.53,882.32 1667.2,896.22 1667.88,910.13 1668.55,924.04 1669.23,937.8 1669.91,950.49 1670.58,963.18 1671.26,975.87 1671.93,988.55 1672.61,1000.79 1673.28,1009.71 1673.96,1018.64 1674.64,1027.56 1675.31,1036.48 1675.99,1045.41 1676.66,1054.33 1677.34,1063.01 1678.01,1069.86 1678.69,1076.71 1679.37,1083.56 1680.04,1090.42 1680.72,1097.27 1681.39,1104.12 1682.07,1110.98 1682.75,1117.83 1683.42,1124.68 1683.61,1126.6" fill="none" stroke="#000" stroke-width="1.25" stroke-linejoin="round" />
<line x1="1175.5" y1="726.4" x2="1744.8" y2="726.4" stroke="#000" stroke-width="4.7" />
<line x1="1173.2" y1="1126.8" x2="1744.8" y2="1126.8" stroke="#000" stroke-width="4.7" />
<line x1="1175.5" y1="724.1" x2="1175.5" y2="1129.1" stroke="#000" stroke-width="4.7" />
<line x1="1742.5" y1="724.1" x2="1742.5" y2="1129.1" stroke="#000" stroke-width="4.7" />
<line x1="1167" y1="1126.6" x2="1175.5" y2="1126.6" stroke="#000" stroke-width="4.4" />
<text transform="translate(1161 1139.8) scale(1 1.058)" font-family="'Liberation Sans', sans-serif" font-size="43.7" text-anchor="end">50</text>
<line x1="1171" y1="1116.84" x2="1175.5" y2="1116.84" stroke="#000" stroke-width="2.2" />
<line x1="1171" y1="1107.08" x2="1175.5" y2="1107.08" stroke="#000" stroke-width="2.2" />
<line x1="1171" y1="1097.32" x2="1175.5" y2="1097.32" stroke="#000" stroke-width="2.2" />
<line x1="1171" y1="1087.56" x2="1175.5" y2="1087.56" stroke="#000" stroke-width="2.2" />
<line x1="1171" y1="1077.8" x2="1175.5" y2="1077.8" stroke="#000" stroke-width="2.2" />
<line x1="1171" y1="1068.04" x2="1175.5" y2="1068.04" stroke="#000" stroke-width="2.2" />
<line x1="1171" y1="1058.28" x2="1175.5" y2="1058.28" stroke="#000" stroke-width="2.2" />
<line x1="1171" y1="1048.52" x2="1175.5" y2="1048.52" stroke="#000" stroke-width="2.2" />
<line x1="1171" y1="1038.76" x2="1175.5" y2="1038.76" stroke="#000" stroke-width="2.2" />
<line x1="1167" y1="1029" x2="1175.5" y2="1029" stroke="#000" stroke-width="4.4" />
<text transform="translate(1161 1042.2) scale(1 1.058)" font-family="'Liberation Sans', sans-serif" font-size="43.7" text-anchor="end">60</text>
<line x1="1171" y1="1019.24" x2="1175.5" y2="1019.24" stroke="#000" stroke-width="2.2" />
<line x1="1171" y1="1009.48" x2="1175.5" y2="1009.48" stroke="#000" stroke-width="2.2" />
<line x1="1171" y1="999.72" x2="1175.5" y2="999.72" stroke="#000" stroke-width="2.2" />
<line x1="1171" y1="989.96" x2="1175.5" y2="989.96" stroke="#000" stroke-width="2.2" />
<line x1="1171" y1="980.2" x2="1175.5" y2="980.2" stroke="#000" stroke-width="2.2" />
<line x1="1171" y1="970.44" x2="1175.5" y2="970.44" stroke="#000" stroke-width="2.2" />
<line x1="1171" y1="960.68" x2="1175.5" y2="960.68" stroke="#000" stroke-width="2.2" />
<line x1="1171" y1="950.92" x2="1175.5" y2="950.92" stroke="#000" stroke-width="2.2" />
<line x1="1171" y1="941.16" x2="1175.5" y2="941.16" stroke="#000" stroke-width="2.2" />
<line x1="1167" y1="931.4" x2="1175.5" y2="931.4" stroke="#000" stroke-width="4.4" />
<text transform="translate(1161 944.6) scale(1 1.058)" font-family="'Liberation Sans', sans-serif" font-size="43.7" text-anchor="end">70</text>
<line x1="1171" y1="921.64" x2="1175.5" y2="921.64" stroke="#000" stroke-width="2.2" />
<line x1="1171" y1="911.88" x2="1175.5" y2="911.88" stroke="#000" stroke-width="2.2" />
<line x1="1171" y1="902.12" x2="1175.5" y2="902.12" stroke="#000" stroke-width="2.2" />
<line x1="1171" y1="892.36" x2="1175.5" y2="892.36" stroke="#000" stroke-width="2.2" />
<line x1="1171" y1="882.6" x2="1175.5" y2="882.6" stroke="#000" stroke-width="2.2" />
<line x1="1171" y1="872.84" x2="1175.5" y2="872.84" stroke="#000" stroke-width="2.2" />
<line x1="1171" y1="863.08" x2="1175.5" y2="863.08" stroke="#000" stroke-width="2.2" />
<line x1="1171" y1="853.32" x2="1175.5" y2="853.32" stroke="#000" stroke-width="2.2" />
<line x1="1171" y1="843.56" x2="1175.5" y2="843.56" stroke="#000" stroke-width="2.2" />
<line x1="1167" y1="833.8" x2="1175.5" y2="833.8" stroke="#000" stroke-width="4.4" />
<text transform="translate(1161 847) scale(1 1.058)" font-family="'Liberation Sans', sans-serif" font-size="43.7" text-anchor="end">80</text>
<line x1="1171" y1="824.04" x2="1175.5" y2="824.04" stroke="#000" stroke-width="2.2" />
<line x1="1171" y1="814.28" x2="1175.5" y2="814.28" stroke="#000" stroke-width="2.2" />
<line x1="1171" y1="804.52" x2="1175.5" y2="804.52" stroke="#000" stroke-width="2.2" />
<line x1="1171" y1="794.76" x2="1175.5" y2="794.76" stroke="#000" stroke-width="2.2" />
<line x1="1171" y1="785" x2="1175.5" y2="785" stroke="#000" stroke-width="2.2" />
<line x1="1171" y1="775.24" x2="1175.5" y2="775.24" stroke="#000" stroke-width="2.2" />
<line x1="1171" y1="765.48" x2="1175.5" y2="765.48" stroke="#000" stroke-width="2.2" />
<line x1="1171" y1="755.72" x2="1175.5" y2="755.72" stroke="#000" stroke-width="2.2" />
<line x1="1171" y1="745.96" x2="1175.5" y2="745.96" stroke="#000" stroke-width="2.2" />
<line x1="1167" y1="736.2" x2="1175.5" y2="736.2" stroke="#000" stroke-width="4.4" />
<text transform="translate(1161 749.4) scale(1 1.058)" font-family="'Liberation Sans', sans-serif" font-size="43.7" text-anchor="end">90</text>
<line x1="1174.5" y1="1126.8" x2="1174.5" y2="1134.5" stroke="#000" stroke-width="4.4" />
<text transform="translate(1174.5 1174.6) scale(1 1.058)" font-family="'Liberation Sans', sans-serif" font-size="43.7" text-anchor="middle">0</text>
<line x1="1188.02" y1="1126.8" x2="1188.02" y2="1131" stroke="#000" stroke-width="2.2" />
<line x1="1201.53" y1="1126.8" x2="1201.53" y2="1131" stroke="#000" stroke-width="2.2" />
<line x1="1215.05" y1="1126.8" x2="1215.05" y2="1131" stroke="#000" stroke-width="2.2" />
<line x1="1228.56" y1="1126.8" x2="1228.56" y2="1131" stroke="#000" stroke-width="2.2" />
<line x1="1242.08" y1="1126.8" x2="1242.08" y2="1131" stroke="#000" stroke-width="2.2" />
<line x1="1255.59" y1="1126.8" x2="1255.59" y2="1131" stroke="#000" stroke-width="2.2" />
<line x1="1269.11" y1="1126.8" x2="1269.11" y2="1131" stroke="#000" stroke-width="2.2" />
<line x1="1282.62" y1="1126.8" x2="1282.62" y2="1131" stroke="#000" stroke-width="2.2" />
<line x1="1296.13" y1="1126.8" x2="1296.13" y2="1131" stroke="#000" stroke-width="2.2" />
<line x1="1309.65" y1="1126.8" x2="1309.65" y2="1134.5" stroke="#000" stroke-width="4.4" />
<text transform="translate(1309.65 1174.6) scale(1 1.058)" font-family="'Liberation Sans', sans-serif" font-size="43.7" text-anchor="middle">100</text>
<line x1="1323.16" y1="1126.8" x2="1323.16" y2="1131" stroke="#000" stroke-width="2.2" />
<line x1="1336.68" y1="1126.8" x2="1336.68" y2="1131" stroke="#000" stroke-width="2.2" />
<line x1="1350.19" y1="1126.8" x2="1350.19" y2="1131" stroke="#000" stroke-width="2.2" />
<line x1="1363.71" y1="1126.8" x2="1363.71" y2="1131" stroke="#000" stroke-width="2.2" />
<line x1="1377.22" y1="1126.8" x2="1377.22" y2="1131" stroke="#000" stroke-width="2.2" />
<line x1="1390.74" y1="1126.8" x2="1390.74" y2="1131" stroke="#000" stroke-width="2.2" />
<line x1="1404.26" y1="1126.8" x2="1404.26" y2="1131" stroke="#000" stroke-width="2.2" />
<line x1="1417.77" y1="1126.8" x2="1417.77" y2="1131" stroke="#000" stroke-width="2.2" />
<line x1="1431.28" y1="1126.8" x2="1431.28" y2="1131" stroke="#000" stroke-width="2.2" />
<line x1="1444.8" y1="1126.8" x2="1444.8" y2="1134.5" stroke="#000" stroke-width="4.4" />
<text transform="translate(1444.8 1174.6) scale(1 1.058)" font-family="'Liberation Sans', sans-serif" font-size="43.7" text-anchor="middle">200</text>
<line x1="1458.32" y1="1126.8" x2="1458.32" y2="1131" stroke="#000" stroke-width="2.2" />
<line x1="1471.83" y1="1126.8" x2="1471.83" y2="1131" stroke="#000" stroke-width="2.2" />
<line x1="1485.35" y1="1126.8" x2="1485.35" y2="1131" stroke="#000" stroke-width="2.2" />
<line x1="1498.86" y1="1126.8" x2="1498.86" y2="1131" stroke="#000" stroke-width="2.2" />
<line x1="1512.38" y1="1126.8" x2="1512.38" y2="1131" stroke="#000" stroke-width="2.2" />
<line x1="1525.89" y1="1126.8" x2="1525.89" y2="1131" stroke="#000" stroke-width="2.2" />
<line x1="1539.4" y1="1126.8" x2="1539.4" y2="1131" stroke="#000" stroke-width="2.2" />
<line x1="1552.92" y1="1126.8" x2="1552.92" y2="1131" stroke="#000" stroke-width="2.2" />
<line x1="1566.43" y1="1126.8" x2="1566.43" y2="1131" stroke="#000" stroke-width="2.2" />
<line x1="1579.95" y1="1126.8" x2="1579.95" y2="1134.5" stroke="#000" stroke-width="4.4" />
<text transform="translate(1579.95 1174.6) scale(1 1.058)" font-family="'Liberation Sans', sans-serif" font-size="43.7" text-anchor="middle">300</text>
<line x1="1593.46" y1="1126.8" x2="1593.46" y2="1131" stroke="#000" stroke-width="2.2" />
<line x1="1606.98" y1="1126.8" x2="1606.98" y2="1131" stroke="#000" stroke-width="2.2" />
<line x1="1620.49" y1="1126.8" x2="1620.49" y2="1131" stroke="#000" stroke-width="2.2" />
<line x1="1634.01" y1="1126.8" x2="1634.01" y2="1131" stroke="#000" stroke-width="2.2" />
<line x1="1647.53" y1="1126.8" x2="1647.53" y2="1131" stroke="#000" stroke-width="2.2" />
<line x1="1661.04" y1="1126.8" x2="1661.04" y2="1131" stroke="#000" stroke-width="2.2" />
<line x1="1674.55" y1="1126.8" x2="1674.55" y2="1131" stroke="#000" stroke-width="2.2" />
<line x1="1688.07" y1="1126.8" x2="1688.07" y2="1131" stroke="#000" stroke-width="2.2" />
<line x1="1701.59" y1="1126.8" x2="1701.59" y2="1131" stroke="#000" stroke-width="2.2" />
<line x1="1715.1" y1="1126.8" x2="1715.1" y2="1134.5" stroke="#000" stroke-width="4.4" />
<text transform="translate(1715.1 1174.6) scale(1 1.058)" font-family="'Liberation Sans', sans-serif" font-size="43.7" text-anchor="middle">400</text>
<line x1="1728.62" y1="1126.8" x2="1728.62" y2="1131" stroke="#000" stroke-width="2.2" />
<line x1="1742.13" y1="1126.8" x2="1742.13" y2="1131" stroke="#000" stroke-width="2.2" />
<text x="1459.6" y="1219.3" font-family="'Liberation Sans', sans-serif" font-size="41" font-weight="bold" text-anchor="middle" >Time / minutes</text>
<text transform="translate(1100 913.8) rotate(-90)" font-family="'Liberation Sans', sans-serif" font-size="44.6" font-weight="bold" text-anchor="middle">Temperature / °C</text>
</g>
<g id="mainaxes" stroke-linecap="butt">
<line x1="183.5" y1="123" x2="183.5" y2="1630" stroke="#000" stroke-width="5" />
<line x1="2308.5" y1="123" x2="2308.5" y2="1641" stroke="#000" stroke-width="5" />
<line x1="169" y1="125.5" x2="1227" y2="125.5" stroke="#000" stroke-width="5" />
<line x1="1263" y1="125.5" x2="2311" y2="125.5" stroke="#000" stroke-width="5" />
<line x1="169" y1="1627.5" x2="1227" y2="1627.5" stroke="#000" stroke-width="5" />
<line x1="1263" y1="1627.5" x2="2311" y2="1627.5" stroke="#000" stroke-width="5" />
<line x1="169" y1="125.5" x2="183.5" y2="125.5" stroke="#000" stroke-width="5" />
<line x1="169" y1="153.5" x2="183.5" y2="153.5" stroke="#000" stroke-width="5" />
<line x1="169" y1="181.5" x2="183.5" y2="181.5" stroke="#000" stroke-width="5" />
<line x1="169" y1="209.5" x2="183.5" y2="209.5" stroke="#000" stroke-width="5" />
<line x1="169" y1="237.5" x2="183.5" y2="237.5" stroke="#000" stroke-width="5" />
<line x1="155.5" y1="264.5" x2="183.5" y2="264.5" stroke="#000" stroke-width="5" />
<line x1="169" y1="292.5" x2="183.5" y2="292.5" stroke="#000" stroke-width="5" />
<line x1="169" y1="320.5" x2="183.5" y2="320.5" stroke="#000" stroke-width="5" />
<line x1="169" y1="348.5" x2="183.5" y2="348.5" stroke="#000" stroke-width="5" />
<line x1="169" y1="376.5" x2="183.5" y2="376.5" stroke="#000" stroke-width="5" />
<line x1="169" y1="404.5" x2="183.5" y2="404.5" stroke="#000" stroke-width="5" />
<line x1="169" y1="431.5" x2="183.5" y2="431.5" stroke="#000" stroke-width="5" />
<line x1="169" y1="459.5" x2="183.5" y2="459.5" stroke="#000" stroke-width="5" />
<line x1="169" y1="487.5" x2="183.5" y2="487.5" stroke="#000" stroke-width="5" />
<line x1="169" y1="515.5" x2="183.5" y2="515.5" stroke="#000" stroke-width="5" />
<line x1="155.5" y1="543.5" x2="183.5" y2="543.5" stroke="#000" stroke-width="5" />
<line x1="169" y1="570.5" x2="183.5" y2="570.5" stroke="#000" stroke-width="5" />
<line x1="169" y1="598.5" x2="183.5" y2="598.5" stroke="#000" stroke-width="5" />
<line x1="169" y1="626.5" x2="183.5" y2="626.5" stroke="#000" stroke-width="5" />
<line x1="169" y1="654.5" x2="183.5" y2="654.5" stroke="#000" stroke-width="5" />
<line x1="169" y1="682.5" x2="183.5" y2="682.5" stroke="#000" stroke-width="5" />
<line x1="169" y1="710.5" x2="183.5" y2="710.5" stroke="#000" stroke-width="5" />
<line x1="169" y1="737.5" x2="183.5" y2="737.5" stroke="#000" stroke-width="5" />
<line x1="169" y1="765.5" x2="183.5" y2="765.5" stroke="#000" stroke-width="5" />
<line x1="169" y1="793.5" x2="183.5" y2="793.5" stroke="#000" stroke-width="5" />
<line x1="155.5" y1="821.5" x2="183.5" y2="821.5" stroke="#000" stroke-width="5" />
<line x1="169" y1="849.5" x2="183.5" y2="849.5" stroke="#000" stroke-width="5" />
<line x1="169" y1="876.5" x2="183.5" y2="876.5" stroke="#000" stroke-width="5" />
<line x1="169" y1="904.5" x2="183.5" y2="904.5" stroke="#000" stroke-width="5" />
<line x1="169" y1="932.5" x2="183.5" y2="932.5" stroke="#000" stroke-width="5" />
<line x1="169" y1="960.5" x2="183.5" y2="960.5" stroke="#000" stroke-width="5" />
<line x1="169" y1="988.5" x2="183.5" y2="988.5" stroke="#000" stroke-width="5" />
<line x1="169" y1="1015.5" x2="183.5" y2="1015.5" stroke="#000" stroke-width="5" />
<line x1="169" y1="1043.5" x2="183.5" y2="1043.5" stroke="#000" stroke-width="5" />
<line x1="169" y1="1071.5" x2="183.5" y2="1071.5" stroke="#000" stroke-width="5" />
<line x1="155.5" y1="1099.5" x2="183.5" y2="1099.5" stroke="#000" stroke-width="5" />
<line x1="169" y1="1127.5" x2="183.5" y2="1127.5" stroke="#000" stroke-width="5" />
<line x1="169" y1="1155.5" x2="183.5" y2="1155.5" stroke="#000" stroke-width="5" />
<line x1="169" y1="1182.5" x2="183.5" y2="1182.5" stroke="#000" stroke-width="5" />
<line x1="169" y1="1210.5" x2="183.5" y2="1210.5" stroke="#000" stroke-width="5" />
<line x1="169" y1="1238.5" x2="183.5" y2="1238.5" stroke="#000" stroke-width="5" />
<line x1="169" y1="1266.5" x2="183.5" y2="1266.5" stroke="#000" stroke-width="5" />
<line x1="169" y1="1294.5" x2="183.5" y2="1294.5" stroke="#000" stroke-width="5" />
<line x1="169" y1="1321.5" x2="183.5" y2="1321.5" stroke="#000" stroke-width="5" />
<line x1="169" y1="1349.5" x2="183.5" y2="1349.5" stroke="#000" stroke-width="5" />
<line x1="155.5" y1="1377.5" x2="183.5" y2="1377.5" stroke="#000" stroke-width="5" />
<line x1="169" y1="1405.5" x2="183.5" y2="1405.5" stroke="#000" stroke-width="5" />
<line x1="169" y1="1433.5" x2="183.5" y2="1433.5" stroke="#000" stroke-width="5" />
<line x1="169" y1="1461.5" x2="183.5" y2="1461.5" stroke="#000" stroke-width="5" />
<line x1="169" y1="1488.5" x2="183.5" y2="1488.5" stroke="#000" stroke-width="5" />
<line x1="169" y1="1516.5" x2="183.5" y2="1516.5" stroke="#000" stroke-width="5" />
<line x1="169" y1="1544.5" x2="183.5" y2="1544.5" stroke="#000" stroke-width="5" />
<line x1="169" y1="1572.5" x2="183.5" y2="1572.5" stroke="#000" stroke-width="5" />
<line x1="169" y1="1600.5" x2="183.5" y2="1600.5" stroke="#000" stroke-width="5" />
<line x1="169" y1="1627.5" x2="183.5" y2="1627.5" stroke="#000" stroke-width="5" />
<line x1="183.5" y1="1627.5" x2="183.5" y2="1640.7" stroke="#000" stroke-width="5" />
<line x1="228.5" y1="1627.5" x2="228.5" y2="1640.7" stroke="#000" stroke-width="5" />
<line x1="272.5" y1="1627.5" x2="272.5" y2="1655" stroke="#000" stroke-width="5" />
<line x1="316.5" y1="1627.5" x2="316.5" y2="1640.7" stroke="#000" stroke-width="5" />
<line x1="361.5" y1="1627.5" x2="361.5" y2="1640.7" stroke="#000" stroke-width="5" />
<line x1="405.5" y1="1627.5" x2="405.5" y2="1640.7" stroke="#000" stroke-width="5" />
<line x1="450.5" y1="1627.5" x2="450.5" y2="1655" stroke="#000" stroke-width="5" />
<line x1="494.5" y1="1627.5" x2="494.5" y2="1640.7" stroke="#000" stroke-width="5" />
<line x1="539.5" y1="1627.5" x2="539.5" y2="1640.7" stroke="#000" stroke-width="5" />
<line x1="583.5" y1="1627.5" x2="583.5" y2="1640.7" stroke="#000" stroke-width="5" />
<line x1="628.5" y1="1627.5" x2="628.5" y2="1655" stroke="#000" stroke-width="5" />
<line x1="672.5" y1="1627.5" x2="672.5" y2="1640.7" stroke="#000" stroke-width="5" />
<line x1="717.5" y1="1627.5" x2="717.5" y2="1640.7" stroke="#000" stroke-width="5" />
<line x1="761.5" y1="1627.5" x2="761.5" y2="1640.7" stroke="#000" stroke-width="5" />
<line x1="805.5" y1="1627.5" x2="805.5" y2="1655" stroke="#000" stroke-width="5" />
<line x1="850.5" y1="1627.5" x2="850.5" y2="1640.7" stroke="#000" stroke-width="5" />
<line x1="894.5" y1="1627.5" x2="894.5" y2="1640.7" stroke="#000" stroke-width="5" />
<line x1="939.5" y1="1627.5" x2="939.5" y2="1640.7" stroke="#000" stroke-width="5" />
<line x1="983.5" y1="1627.5" x2="983.5" y2="1655" stroke="#000" stroke-width="5" />
<line x1="1028.5" y1="1627.5" x2="1028.5" y2="1640.7" stroke="#000" stroke-width="5" />
<line x1="1072.5" y1="1627.5" x2="1072.5" y2="1640.7" stroke="#000" stroke-width="5" />
<line x1="1117.5" y1="1627.5" x2="1117.5" y2="1640.7" stroke="#000" stroke-width="5" />
<line x1="1161.5" y1="1627.5" x2="1161.5" y2="1655" stroke="#000" stroke-width="5" />
<line x1="1205.5" y1="1627.5" x2="1205.5" y2="1640.7" stroke="#000" stroke-width="5" />
<line x1="1295.5" y1="1627.5" x2="1295.5" y2="1640.7" stroke="#000" stroke-width="5" />
<line x1="1359.5" y1="1627.5" x2="1359.5" y2="1640.7" stroke="#000" stroke-width="5" />
<line x1="1422.5" y1="1627.5" x2="1422.5" y2="1655" stroke="#000" stroke-width="5" />
<line x1="1485.5" y1="1627.5" x2="1485.5" y2="1640.7" stroke="#000" stroke-width="5" />
<line x1="1549.5" y1="1627.5" x2="1549.5" y2="1640.7" stroke="#000" stroke-width="5" />
<line x1="1612.5" y1="1627.5" x2="1612.5" y2="1640.7" stroke="#000" stroke-width="5" />
<line x1="1675.5" y1="1627.5" x2="1675.5" y2="1640.7" stroke="#000" stroke-width="5" />
<line x1="1739.5" y1="1627.5" x2="1739.5" y2="1655" stroke="#000" stroke-width="5" />
<line x1="1802.5" y1="1627.5" x2="1802.5" y2="1640.7" stroke="#000" stroke-width="5" />
<line x1="1865.5" y1="1627.5" x2="1865.5" y2="1640.7" stroke="#000" stroke-width="5" />
<line x1="1928.5" y1="1627.5" x2="1928.5" y2="1640.7" stroke="#000" stroke-width="5" />
<line x1="1992.5" y1="1627.5" x2="1992.5" y2="1640.7" stroke="#000" stroke-width="5" />
<line x1="2055.5" y1="1627.5" x2="2055.5" y2="1655" stroke="#000" stroke-width="5" />
<line x1="2118.5" y1="1627.5" x2="2118.5" y2="1640.7" stroke="#000" stroke-width="5" />
<line x1="2182.5" y1="1627.5" x2="2182.5" y2="1640.7" stroke="#000" stroke-width="5" />
<line x1="2245.5" y1="1627.5" x2="2245.5" y2="1640.7" stroke="#000" stroke-width="5" />
<line x1="2308.5" y1="1627.5" x2="2308.5" y2="1640.7" stroke="#000" stroke-width="5" />
<text x="272.5" y="1716.5" font-family="'Liberation Sans', sans-serif" font-size="56.5" text-anchor="middle" >16</text>
<text x="450.3" y="1716.5" font-family="'Liberation Sans', sans-serif" font-size="56.5" text-anchor="middle" >18</text>
<text x="628.1" y="1716.5" font-family="'Liberation Sans', sans-serif" font-size="56.5" text-anchor="middle" >20</text>
<text x="805.9" y="1716.5" font-family="'Liberation Sans', sans-serif" font-size="56.5" text-anchor="middle" >22</text>
<text x="983.7" y="1716.5" font-family="'Liberation Sans', sans-serif" font-size="56.5" text-anchor="middle" >24</text>
<text x="1161.5" y="1716.5" font-family="'Liberation Sans', sans-serif" font-size="56.5" text-anchor="middle" >26</text>
<text x="1422.5" y="1716.5" font-family="'Liberation Sans', sans-serif" font-size="56.5" text-anchor="middle" >27.0</text>
<text x="1739" y="1716.5" font-family="'Liberation Sans', sans-serif" font-size="56.5" text-anchor="middle" >27.5</text>
<text x="2055.5" y="1716.5" font-family="'Liberation Sans', sans-serif" font-size="56.5" text-anchor="middle" >28.0</text>
<line x1="1209.5" y1="1655" x2="1246.5" y2="1601.2" stroke="#000" stroke-width="4.6" />
<line x1="1246.5" y1="1655" x2="1282.5" y2="1601.2" stroke="#000" stroke-width="4.6" />
<line x1="1209.4" y1="152.5" x2="1246" y2="99.1" stroke="#000" stroke-width="4.6" />
<line x1="1247.4" y1="152.5" x2="1282.5" y2="99.1" stroke="#000" stroke-width="4.6" />
</g>
<text x="1077.2" y="1823.4" font-family="'Liberation Sans', sans-serif" font-size="68">°2</text>
<text transform="translate(1143.5 1823.4) scale(1 0.885)" font-family="'Liberation Serif', serif" font-size="68">θ</text>
<text x="1194.2" y="1823.4" font-family="'Liberation Sans', sans-serif" font-size="68">(8 keV)</text>
<text transform="translate(94.5 766.5) rotate(-90)" x="0" y="0" font-family="'Liberation Sans', sans-serif" font-size="68.5" text-anchor="middle">Intensity (a.u.)</text>
<text transform="translate(180 95.7) scale(1 1.115)" font-family="'Liberation Sans', sans-serif" font-size="66" font-weight="bold">a</text>
<text x="219.3" y="94.7" font-family="'Liberation Sans', sans-serif" font-size="63" font-weight="bold">)</text>
</svg></body></html>
